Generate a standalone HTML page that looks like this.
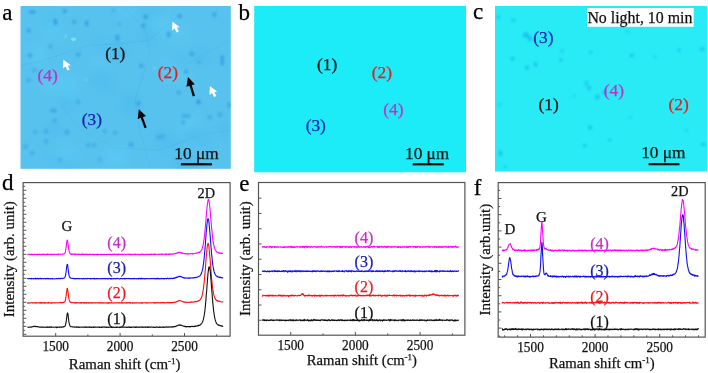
<!DOCTYPE html>
<html><head><meta charset="utf-8"><style>
html,body{margin:0;padding:0;background:#fff;width:708px;height:373px;overflow:hidden}
svg{display:block;font-family:"Liberation Serif", serif;will-change:transform;filter:blur(0.3px)}
</style></head><body>
<svg width="708" height="373" viewBox="0 0 708 373" font-family='"Liberation Serif", serif'>
<rect width="708" height="373" fill="#ffffff"/>
<defs><filter id="bl" x="-50%" y="-50%" width="200%" height="200%"><feGaussianBlur stdDeviation="0.8"/></filter><filter id="bl2" x="-50%" y="-50%" width="200%" height="200%"><feGaussianBlur stdDeviation="4"/></filter><clipPath id="ca"><rect x="20.5" y="6" width="210.3" height="162.8"/></clipPath><clipPath id="cc"><rect x="495" y="6" width="212" height="165.6"/></clipPath></defs><rect x="20.5" y="6" width="210.3" height="162.8" fill="#58c2ee"/><g clip-path="url(#ca)" filter="url(#bl2)"><circle cx="154.4" cy="12.0" r="6.2" fill="#46b8ef" opacity="0.35"/><circle cx="50.9" cy="24.2" r="9.9" fill="#46b8ef" opacity="0.35"/><circle cx="144.2" cy="13.0" r="4.7" fill="#46b8ef" opacity="0.35"/><circle cx="126.6" cy="12.2" r="5.6" fill="#5ad0f7" opacity="0.35"/><circle cx="67.6" cy="101.1" r="10.5" fill="#46b8ef" opacity="0.35"/><circle cx="179.1" cy="33.2" r="7.4" fill="#5ad0f7" opacity="0.35"/><circle cx="54.2" cy="159.2" r="6.7" fill="#46b8ef" opacity="0.35"/><circle cx="100.6" cy="64.7" r="6.8" fill="#5ad0f7" opacity="0.35"/><circle cx="189.1" cy="123.3" r="8.3" fill="#5ad0f7" opacity="0.35"/><circle cx="38.3" cy="54.3" r="9.0" fill="#5ad0f7" opacity="0.35"/><circle cx="141.5" cy="119.3" r="4.4" fill="#46b8ef" opacity="0.35"/><circle cx="182.0" cy="163.7" r="10.8" fill="#46b8ef" opacity="0.35"/><circle cx="100.7" cy="79.6" r="10.7" fill="#46b8ef" opacity="0.35"/><circle cx="98.6" cy="41.1" r="6.1" fill="#46b8ef" opacity="0.35"/><circle cx="148.1" cy="35.0" r="9.8" fill="#46b8ef" opacity="0.35"/><circle cx="117.7" cy="50.7" r="11.4" fill="#46b8ef" opacity="0.35"/><circle cx="163.7" cy="141.2" r="10.2" fill="#46b8ef" opacity="0.35"/><circle cx="192.1" cy="135.2" r="7.2" fill="#46b8ef" opacity="0.35"/><circle cx="65.7" cy="157.0" r="11.0" fill="#5ad0f7" opacity="0.35"/><circle cx="66.0" cy="86.9" r="11.1" fill="#5ad0f7" opacity="0.35"/><circle cx="51.6" cy="30.1" r="10.0" fill="#5ad0f7" opacity="0.35"/><circle cx="176.6" cy="75.7" r="8.7" fill="#5ad0f7" opacity="0.35"/><circle cx="67.4" cy="165.6" r="8.1" fill="#46b8ef" opacity="0.35"/><circle cx="178.4" cy="144.1" r="5.2" fill="#46b8ef" opacity="0.35"/><circle cx="186.0" cy="74.7" r="4.5" fill="#5ad0f7" opacity="0.35"/><circle cx="145.3" cy="82.0" r="6.0" fill="#46b8ef" opacity="0.35"/><circle cx="162.8" cy="26.1" r="11.1" fill="#5ad0f7" opacity="0.35"/><circle cx="181.1" cy="61.7" r="6.3" fill="#46b8ef" opacity="0.35"/><circle cx="115.9" cy="158.7" r="11.0" fill="#5ad0f7" opacity="0.35"/><circle cx="223.2" cy="128.4" r="8.1" fill="#46b8ef" opacity="0.35"/><circle cx="202.2" cy="55.2" r="9.1" fill="#46b8ef" opacity="0.35"/><circle cx="53.6" cy="128.5" r="8.3" fill="#46b8ef" opacity="0.35"/><circle cx="146.0" cy="85.2" r="4.9" fill="#5ad0f7" opacity="0.35"/><circle cx="203.9" cy="139.4" r="6.5" fill="#46b8ef" opacity="0.35"/><circle cx="71.9" cy="97.6" r="4.6" fill="#5ad0f7" opacity="0.35"/><circle cx="190.9" cy="162.5" r="8.3" fill="#46b8ef" opacity="0.35"/><circle cx="48.6" cy="83.1" r="8.4" fill="#5ad0f7" opacity="0.35"/><circle cx="131.2" cy="103.8" r="11.7" fill="#46b8ef" opacity="0.35"/><circle cx="169.6" cy="71.0" r="9.4" fill="#5ad0f7" opacity="0.35"/><circle cx="112.7" cy="89.8" r="5.0" fill="#46b8ef" opacity="0.35"/></g><g filter="url(#bl)"><ellipse cx="32.3" cy="11.8" rx="3.60" ry="1.92" fill="#2e90de" opacity="0.6"/><ellipse cx="64.9" cy="11.1" rx="2.40" ry="2.40" fill="#2e90de" opacity="0.5"/><ellipse cx="55.5" cy="21.9" rx="1.92" ry="3.12" fill="#2e90de" opacity="0.7"/><ellipse cx="74.3" cy="21.9" rx="2.40" ry="2.16" fill="#2e90de" opacity="0.5"/><ellipse cx="86.7" cy="23.4" rx="1.80" ry="3.12" fill="#2e90de" opacity="0.6"/><ellipse cx="28.7" cy="30.6" rx="2.40" ry="2.40" fill="#2e90de" opacity="0.5"/><ellipse cx="50.4" cy="46.6" rx="2.40" ry="2.40" fill="#2e90de" opacity="0.4"/><ellipse cx="30.1" cy="55.3" rx="2.40" ry="2.40" fill="#2e90de" opacity="0.5"/><ellipse cx="78" cy="54.6" rx="2.40" ry="2.40" fill="#2e90de" opacity="0.5"/><ellipse cx="145.6" cy="16.9" rx="2.40" ry="2.40" fill="#2e90de" opacity="0.6"/><ellipse cx="143.4" cy="25.6" rx="1.92" ry="2.64" fill="#2e90de" opacity="0.6"/><ellipse cx="117.4" cy="37.9" rx="1.92" ry="3.36" fill="#2e90de" opacity="0.6"/><ellipse cx="119.5" cy="24.1" rx="1.80" ry="1.80" fill="#2e90de" opacity="0.35"/><ellipse cx="113.7" cy="10.3" rx="1.80" ry="1.80" fill="#2e90de" opacity="0.35"/><ellipse cx="179.6" cy="16.1" rx="2.40" ry="2.40" fill="#2e90de" opacity="0.6"/><ellipse cx="168.7" cy="34.3" rx="1.92" ry="3.12" fill="#2e90de" opacity="0.6"/><ellipse cx="214.3" cy="14.7" rx="2.40" ry="2.40" fill="#2e90de" opacity="0.5"/><ellipse cx="191.9" cy="53.8" rx="2.40" ry="2.40" fill="#2e90de" opacity="0.5"/><ellipse cx="222.3" cy="57.4" rx="2.40" ry="2.40" fill="#2e90de" opacity="0.5"/><ellipse cx="34.5" cy="70.1" rx="2.40" ry="2.40" fill="#2e90de" opacity="0.35"/><ellipse cx="28.7" cy="80.3" rx="2.40" ry="2.40" fill="#2e90de" opacity="0.4"/><ellipse cx="53.3" cy="110.7" rx="3.60" ry="1.92" fill="#2e90de" opacity="0.5"/><ellipse cx="78" cy="102" rx="2.40" ry="2.40" fill="#2e90de" opacity="0.35"/><ellipse cx="141.3" cy="65.8" rx="2.40" ry="2.40" fill="#2e90de" opacity="0.5"/><ellipse cx="138.4" cy="103.5" rx="2.40" ry="2.40" fill="#2e90de" opacity="0.5"/><ellipse cx="186.1" cy="71.6" rx="2.16" ry="2.16" fill="#2e90de" opacity="0.6"/><ellipse cx="222.3" cy="62.2" rx="1.80" ry="3.36" fill="#2e90de" opacity="0.6"/><ellipse cx="178.8" cy="92.6" rx="2.16" ry="2.16" fill="#2e90de" opacity="0.5"/><ellipse cx="198.4" cy="102" rx="2.40" ry="2.40" fill="#2e90de" opacity="0.5"/><ellipse cx="199" cy="62.2" rx="1.80" ry="1.80" fill="#2e90de" opacity="0.4"/><ellipse cx="35.2" cy="132.1" rx="2.40" ry="2.40" fill="#2e90de" opacity="0.35"/><ellipse cx="46.1" cy="131.4" rx="2.40" ry="2.40" fill="#2e90de" opacity="0.4"/><ellipse cx="67.1" cy="132.1" rx="2.64" ry="2.40" fill="#2e90de" opacity="0.45"/><ellipse cx="46.1" cy="141.5" rx="2.40" ry="2.40" fill="#2e90de" opacity="0.4"/><ellipse cx="25.8" cy="146.6" rx="2.64" ry="2.40" fill="#2e90de" opacity="0.35"/><ellipse cx="32.3" cy="153.1" rx="2.64" ry="2.40" fill="#2e90de" opacity="0.35"/><ellipse cx="54.8" cy="120.5" rx="2.40" ry="2.40" fill="#2e90de" opacity="0.35"/><ellipse cx="88.1" cy="145.2" rx="2.40" ry="2.40" fill="#2e90de" opacity="0.35"/><ellipse cx="115.2" cy="132.8" rx="2.40" ry="2.40" fill="#2e90de" opacity="0.35"/><ellipse cx="131.1" cy="144.4" rx="2.64" ry="2.64" fill="#2e90de" opacity="0.45"/><ellipse cx="158.7" cy="137.2" rx="2.40" ry="2.40" fill="#2e90de" opacity="0.4"/><ellipse cx="94.2" cy="145.2" rx="2.40" ry="2.40" fill="#2e90de" opacity="0.35"/><ellipse cx="105" cy="131.4" rx="2.40" ry="2.40" fill="#2e90de" opacity="0.35"/><ellipse cx="183.9" cy="115.9" rx="2.40" ry="2.40" fill="#2e90de" opacity="0.45"/><ellipse cx="188.3" cy="115.9" rx="2.16" ry="2.16" fill="#2e90de" opacity="0.45"/><ellipse cx="183.2" cy="122.5" rx="2.16" ry="2.16" fill="#2e90de" opacity="0.45"/><ellipse cx="210" cy="117.4" rx="2.40" ry="2.40" fill="#2e90de" opacity="0.4"/><ellipse cx="220.1" cy="114.5" rx="2.40" ry="2.40" fill="#2e90de" opacity="0.45"/><ellipse cx="198.4" cy="102.2" rx="2.40" ry="2.40" fill="#2e90de" opacity="0.4"/><ellipse cx="162.9" cy="136.2" rx="2.40" ry="2.40" fill="#2e90de" opacity="0.35"/><ellipse cx="229" cy="105" rx="1.80" ry="3.00" fill="#2e90de" opacity="0.5"/><ellipse cx="100" cy="160" rx="2.40" ry="2.40" fill="#2e90de" opacity="0.3"/><ellipse cx="60" cy="160" rx="2.40" ry="2.40" fill="#2e90de" opacity="0.3"/></g><ellipse cx="73.6" cy="39.3" rx="2.6" ry="1.7" fill="#70eaf0"/><ellipse cx="65.6" cy="36.4" rx="1" ry="1" fill="#8ff2ea" filter="url(#bl)"/><ellipse cx="86" cy="79.6" rx="1.2" ry="1.2" fill="#7fe8ee" filter="url(#bl)" opacity="0.7"/><ellipse cx="154.3" cy="68.7" rx="1.5" ry="1" fill="#7fe8ee" filter="url(#bl)" opacity="0.8"/><path d="M20.5,65.4 L42,61 L57.4,55.5 L75,50 L90,45 L120,44 L150,40 L176,18" stroke="#3a98dc" stroke-width="0.7" fill="none" opacity="0.25" stroke-linejoin="round"/><path d="M125,8 L145,30 L150,50 L145,70 L135,100 L140,130 L150,168" stroke="#3a98dc" stroke-width="0.7" fill="none" opacity="0.22" stroke-linejoin="round"/><path d="M150,70 L180,68 L215,48 L230,40" stroke="#3a98dc" stroke-width="0.7" fill="none" opacity="0.2" stroke-linejoin="round"/><path d="M60,105 L80,130 L115,148 L160,150 L200,135 L230,130" stroke="#3a98dc" stroke-width="0.7" fill="none" opacity="0.2" stroke-linejoin="round"/><rect x="254.2" y="6" width="211.8" height="166.3" fill="#1cecf8"/><rect x="495" y="6" width="212" height="165.6" fill="#28ebf6"/><g filter="url(#bl)" clip-path="url(#cc)"><ellipse cx="498.3" cy="17" rx="1.8" ry="1.8" fill="#1a9ee0" opacity="0.5"/><ellipse cx="513.7" cy="20.3" rx="1.8" ry="1.8" fill="#1a9ee0" opacity="0.5"/><ellipse cx="526" cy="35" rx="3" ry="2.5" fill="#1a9ee0" opacity="0.55"/><ellipse cx="530" cy="38.5" rx="2.5" ry="2.2" fill="#1a9ee0" opacity="0.55"/><ellipse cx="512.6" cy="58.8" rx="2" ry="2" fill="#1a9ee0" opacity="0.5"/><ellipse cx="526.9" cy="67.6" rx="2" ry="2" fill="#1a9ee0" opacity="0.5"/><ellipse cx="535.7" cy="64.3" rx="1.5" ry="2.6" fill="#1a9ee0" opacity="0.55"/><ellipse cx="561" cy="59.9" rx="1.6" ry="1.6" fill="#1a9ee0" opacity="0.5"/><ellipse cx="562" cy="51" rx="1.5" ry="1.5" fill="#1a9ee0" opacity="0.45"/><ellipse cx="590.6" cy="52.2" rx="1.5" ry="1.5" fill="#1a9ee0" opacity="0.45"/><ellipse cx="586.3" cy="83" rx="1.5" ry="2.5" fill="#1a9ee0" opacity="0.5"/><ellipse cx="589" cy="88" rx="2" ry="2" fill="#1a9ee0" opacity="0.55"/><ellipse cx="631.8" cy="55.5" rx="1.8" ry="1.8" fill="#1a9ee0" opacity="0.6"/><ellipse cx="654.9" cy="56.6" rx="1.3" ry="1.3" fill="#1a9ee0" opacity="0.45"/><ellipse cx="679" cy="50" rx="1.6" ry="1.6" fill="#1a9ee0" opacity="0.55"/><ellipse cx="702.2" cy="48.9" rx="2.8" ry="1.5" fill="#1a9ee0" opacity="0.5"/><ellipse cx="627.4" cy="31.3" rx="1.3" ry="1.3" fill="#1a9ee0" opacity="0.35"/><ellipse cx="499.5" cy="104.9" rx="1.3" ry="1.3" fill="#1a9ee0" opacity="0.45"/><ellipse cx="500.6" cy="153.3" rx="1.5" ry="3" fill="#1a9ee0" opacity="0.55"/><ellipse cx="505.1" cy="166.8" rx="1.5" ry="1.5" fill="#1a9ee0" opacity="0.5"/><ellipse cx="590.7" cy="127.4" rx="1.5" ry="1.5" fill="#1a9ee0" opacity="0.5"/><ellipse cx="585" cy="145.4" rx="1.3" ry="1.3" fill="#1a9ee0" opacity="0.45"/><ellipse cx="597.4" cy="97" rx="2.2" ry="2.2" fill="#1a9ee0" opacity="0.55"/><ellipse cx="573.8" cy="95.9" rx="1.3" ry="1.3" fill="#1a9ee0" opacity="0.35"/><ellipse cx="604.4" cy="92.5" rx="2" ry="2" fill="#1a9ee0" opacity="0.5"/><ellipse cx="630.3" cy="117.3" rx="1.3" ry="1.3" fill="#1a9ee0" opacity="0.35"/><ellipse cx="610" cy="139.8" rx="1.3" ry="1.3" fill="#1a9ee0" opacity="0.35"/><ellipse cx="703.4" cy="144.3" rx="2.5" ry="1.5" fill="#1a9ee0" opacity="0.5"/><ellipse cx="686.5" cy="130.8" rx="1.3" ry="1.3" fill="#1a9ee0" opacity="0.35"/><ellipse cx="609.7" cy="140" rx="1.2" ry="1.2" fill="#1a9ee0" opacity="0.4"/><ellipse cx="584.3" cy="145.6" rx="1.2" ry="1.5" fill="#1a9ee0" opacity="0.4"/><ellipse cx="589.4" cy="127.5" rx="1.5" ry="2" fill="#1a9ee0" opacity="0.45"/></g><rect x="587" y="8" width="106.7" height="18.8" fill="#ffffff"/><path d="M188.0,77.1 L186.4,86.8 L194.8,84.2 Z" fill="#080808"/><line x1="189.5" y1="81.9" x2="193.9" y2="96.2" stroke="#080808" stroke-width="2.3"/><path d="M138.8,109.2 L137.7,119.0 L146.0,116.0 Z" fill="#080808"/><line x1="140.5" y1="113.9" x2="145.6" y2="127.8" stroke="#080808" stroke-width="2.3"/><path d="M172.4,21.6 L171.9,30.4 L174.6,28.4 L176.6,32.4 L178.8,31.4 L176.9,27.6 L179.8,27.2 Z" fill="#ffffff"/><path d="M209.9,86.1 L209.4,94.9 L212.1,92.9 L214.1,96.9 L216.3,95.9 L214.4,92.1 L217.3,91.7 Z" fill="#ffffff"/><path d="M63.4,59.7 L62.9,68.5 L65.6,66.5 L67.6,70.5 L69.8,69.5 L67.9,65.7 L70.8,65.3 Z" fill="#ffffff"/>
<text x="105.13" y="59.38" font-size="17.4" fill="#111111" stroke="#111111" stroke-width="0.25">(1)</text><text x="157.83" y="77.58" font-size="17.4" fill="#e81c1c" stroke="#e81c1c" stroke-width="0.25">(2)</text><text x="81.73" y="124.88" font-size="17.4" fill="#1822b0" stroke="#1822b0" stroke-width="0.25">(3)</text><text x="37.43" y="80.88" font-size="17.4" fill="#c82cc8" stroke="#c82cc8" stroke-width="0.25">(4)</text><text x="316.93" y="70.28" font-size="17.4" fill="#111111" stroke="#111111" stroke-width="0.25">(1)</text><text x="371.73" y="77.58" font-size="17.4" fill="#e81c1c" stroke="#e81c1c" stroke-width="0.25">(2)</text><text x="305.63" y="130.58" font-size="17.4" fill="#1822b0" stroke="#1822b0" stroke-width="0.25">(3)</text><text x="383.23" y="115.38" font-size="17.4" fill="#c82cc8" stroke="#c82cc8" stroke-width="0.25">(4)</text><text x="538.43" y="110.48" font-size="17.4" fill="#111111" stroke="#111111" stroke-width="0.25">(1)</text><text x="668.53" y="109.68" font-size="17.4" fill="#e81c1c" stroke="#e81c1c" stroke-width="0.25">(2)</text><text x="533.23" y="42.58" font-size="17.4" fill="#1822b0" stroke="#1822b0" stroke-width="0.25">(3)</text><text x="603.73" y="95.68" font-size="17.4" fill="#c82cc8" stroke="#c82cc8" stroke-width="0.25">(4)</text><text x="174.3" y="158.5" font-size="17.3" fill="#111" stroke="#111" stroke-width="0.25">10 μm</text><rect x="180.9" y="163.1" width="31.1" height="2.3" fill="#111"/><text x="405.0" y="158.5" font-size="17.3" fill="#111" stroke="#111" stroke-width="0.25">10 μm</text><rect x="412.7" y="163.1" width="31.1" height="2.3" fill="#111"/><text x="641.2" y="157.8" font-size="17.3" fill="#111" stroke="#111" stroke-width="0.25">10 μm</text><rect x="648.6" y="163.0" width="30.9" height="2.3" fill="#111"/><text x="587.4" y="23.1" font-size="15.9" fill="#111" stroke="#111" stroke-width="0.25" textLength="105" lengthAdjust="spacingAndGlyphs">No light, 10 min</text><text x="2.2" y="19.6" font-size="23" fill="#000" stroke="#000" stroke-width="0.25">a</text><text x="238.4" y="19.7" font-size="23" fill="#000" stroke="#000" stroke-width="0.25">b</text><text x="472.9" y="18.9" font-size="23" fill="#000" stroke="#000" stroke-width="0.25">c</text><text x="2.1" y="189.6" font-size="23" fill="#000" stroke="#000" stroke-width="0.25">d</text><text x="239.3" y="190.6" font-size="23" fill="#000" stroke="#000" stroke-width="0.25">e</text><text x="473.7" y="194.5" font-size="23" fill="#000" stroke="#000" stroke-width="0.25">f</text>
<rect x="23.1" y="182.6" width="207.0" height="153.6" fill="none" stroke="#555555" stroke-width="1.2"/><line x1="55.70" y1="336.2" x2="55.70" y2="333.0" stroke="#555555" stroke-width="1"/><text x="55.70" y="350.6" font-size="14.2" fill="#111" stroke="#111" stroke-width="0.25" text-anchor="middle" textLength="26.6" lengthAdjust="spacingAndGlyphs">1500</text><line x1="87.90" y1="336.2" x2="87.90" y2="334.4" stroke="#555555" stroke-width="1"/><line x1="120.10" y1="336.2" x2="120.10" y2="333.0" stroke="#555555" stroke-width="1"/><text x="120.10" y="350.6" font-size="14.2" fill="#111" stroke="#111" stroke-width="0.25" text-anchor="middle" textLength="26.6" lengthAdjust="spacingAndGlyphs">2000</text><line x1="152.30" y1="336.2" x2="152.30" y2="334.4" stroke="#555555" stroke-width="1"/><line x1="184.50" y1="336.2" x2="184.50" y2="333.0" stroke="#555555" stroke-width="1"/><text x="184.50" y="350.6" font-size="14.2" fill="#111" stroke="#111" stroke-width="0.25" text-anchor="middle" textLength="26.6" lengthAdjust="spacingAndGlyphs">2500</text><line x1="216.70" y1="336.2" x2="216.70" y2="334.4" stroke="#555555" stroke-width="1"/><line x1="23.1" y1="186.30" x2="25.1" y2="186.30" stroke="#555555" stroke-width="1"/><line x1="23.1" y1="190.30" x2="26.400000000000002" y2="190.30" stroke="#555555" stroke-width="1"/><line x1="23.1" y1="194.30" x2="25.1" y2="194.30" stroke="#555555" stroke-width="1"/><line x1="23.1" y1="198.30" x2="26.400000000000002" y2="198.30" stroke="#555555" stroke-width="1"/><line x1="23.1" y1="202.30" x2="25.1" y2="202.30" stroke="#555555" stroke-width="1"/><line x1="23.1" y1="206.30" x2="26.400000000000002" y2="206.30" stroke="#555555" stroke-width="1"/><line x1="23.1" y1="210.30" x2="25.1" y2="210.30" stroke="#555555" stroke-width="1"/><line x1="23.1" y1="214.30" x2="26.400000000000002" y2="214.30" stroke="#555555" stroke-width="1"/><line x1="23.1" y1="218.30" x2="25.1" y2="218.30" stroke="#555555" stroke-width="1"/><line x1="23.1" y1="222.30" x2="26.400000000000002" y2="222.30" stroke="#555555" stroke-width="1"/><line x1="23.1" y1="226.30" x2="25.1" y2="226.30" stroke="#555555" stroke-width="1"/><line x1="23.1" y1="230.30" x2="26.400000000000002" y2="230.30" stroke="#555555" stroke-width="1"/><line x1="23.1" y1="234.30" x2="25.1" y2="234.30" stroke="#555555" stroke-width="1"/><line x1="23.1" y1="238.30" x2="26.400000000000002" y2="238.30" stroke="#555555" stroke-width="1"/><line x1="23.1" y1="242.30" x2="25.1" y2="242.30" stroke="#555555" stroke-width="1"/><line x1="23.1" y1="246.30" x2="26.400000000000002" y2="246.30" stroke="#555555" stroke-width="1"/><line x1="23.1" y1="250.30" x2="25.1" y2="250.30" stroke="#555555" stroke-width="1"/><line x1="23.1" y1="254.30" x2="26.400000000000002" y2="254.30" stroke="#555555" stroke-width="1"/><line x1="23.1" y1="258.30" x2="25.1" y2="258.30" stroke="#555555" stroke-width="1"/><line x1="23.1" y1="262.30" x2="26.400000000000002" y2="262.30" stroke="#555555" stroke-width="1"/><line x1="23.1" y1="266.30" x2="25.1" y2="266.30" stroke="#555555" stroke-width="1"/><line x1="23.1" y1="270.30" x2="26.400000000000002" y2="270.30" stroke="#555555" stroke-width="1"/><line x1="23.1" y1="274.30" x2="25.1" y2="274.30" stroke="#555555" stroke-width="1"/><line x1="23.1" y1="278.30" x2="26.400000000000002" y2="278.30" stroke="#555555" stroke-width="1"/><line x1="23.1" y1="282.30" x2="25.1" y2="282.30" stroke="#555555" stroke-width="1"/><line x1="23.1" y1="286.30" x2="26.400000000000002" y2="286.30" stroke="#555555" stroke-width="1"/><line x1="23.1" y1="290.30" x2="25.1" y2="290.30" stroke="#555555" stroke-width="1"/><line x1="23.1" y1="294.30" x2="26.400000000000002" y2="294.30" stroke="#555555" stroke-width="1"/><line x1="23.1" y1="298.30" x2="25.1" y2="298.30" stroke="#555555" stroke-width="1"/><line x1="23.1" y1="302.30" x2="26.400000000000002" y2="302.30" stroke="#555555" stroke-width="1"/><line x1="23.1" y1="306.30" x2="25.1" y2="306.30" stroke="#555555" stroke-width="1"/><line x1="23.1" y1="310.30" x2="26.400000000000002" y2="310.30" stroke="#555555" stroke-width="1"/><line x1="23.1" y1="314.30" x2="25.1" y2="314.30" stroke="#555555" stroke-width="1"/><line x1="23.1" y1="318.30" x2="26.400000000000002" y2="318.30" stroke="#555555" stroke-width="1"/><line x1="23.1" y1="322.30" x2="25.1" y2="322.30" stroke="#555555" stroke-width="1"/><line x1="23.1" y1="326.30" x2="26.400000000000002" y2="326.30" stroke="#555555" stroke-width="1"/><line x1="23.1" y1="330.30" x2="25.1" y2="330.30" stroke="#555555" stroke-width="1"/><line x1="23.1" y1="334.30" x2="26.400000000000002" y2="334.30" stroke="#555555" stroke-width="1"/><text transform="translate(14.0,317.2) rotate(-90)" x="0" y="0" font-size="15" fill="#111" stroke="#111" stroke-width="0.25" textLength="116" lengthAdjust="spacingAndGlyphs">Intensity (arb. unit)</text><text x="68.8" y="368.6" font-size="14.6" fill="#111" stroke="#111" stroke-width="0.25" textLength="111.8" lengthAdjust="spacingAndGlyphs">Raman shift (cm<tspan dy="-5" font-size="9">-1</tspan><tspan dy="5">)</tspan></text><text x="61.4" y="230.5" font-size="15" fill="#111" stroke="#111" stroke-width="0.25" text-anchor="start" >G</text><text x="197.6" y="197.7" font-size="14.3" fill="#111" stroke="#111" stroke-width="0.25" text-anchor="start" >2D</text><path d="M27.4,254.6L27.6,254.6L27.9,254.4L28.1,254.3L28.4,254.2L28.7,254.4L28.9,254.2L29.2,254.2L29.4,254.4L29.7,254.4L29.9,254.5L30.2,254.3L30.5,254.4L30.7,254.4L31.0,254.2L31.2,254.5L31.5,254.4L31.7,254.7L32.0,254.4L32.3,254.4L32.5,254.6L32.8,254.4L33.0,254.5L33.3,254.3L33.5,254.4L33.8,254.5L34.1,254.5L34.3,254.4L34.6,254.2L34.8,254.5L35.1,254.4L35.3,254.5L35.6,254.4L35.9,254.5L36.1,254.4L36.4,254.4L36.6,254.5L36.9,254.2L37.2,254.3L37.4,254.3L37.7,254.7L37.9,254.4L38.2,254.5L38.4,254.5L38.7,254.3L39.0,254.2L39.2,254.5L39.5,254.3L39.7,254.5L40.0,254.2L40.2,254.3L40.5,254.6L40.8,254.6L41.0,254.2L41.3,254.2L41.5,254.4L41.8,254.5L42.0,254.4L42.3,254.4L42.6,254.2L42.8,254.5L43.1,254.5L43.3,254.3L43.6,254.2L43.9,254.3L44.1,254.5L44.4,254.1L44.6,254.4L44.9,254.2L45.1,254.4L45.4,254.3L45.7,254.4L45.9,254.6L46.2,254.4L46.4,254.6L46.7,254.4L46.9,254.3L47.2,254.4L47.5,253.9L47.7,254.4L48.0,254.4L48.2,254.2L48.5,254.4L48.7,254.3L49.0,254.0L49.3,254.3L49.5,254.2L49.8,254.3L50.0,254.3L50.3,254.6L50.5,254.4L50.8,254.4L51.1,254.4L51.3,254.1L51.6,254.6L51.8,254.2L52.1,254.4L52.4,254.2L52.6,254.2L52.9,254.3L53.1,254.6L53.4,254.5L53.6,254.3L53.9,254.3L54.2,254.2L54.4,254.3L54.7,254.3L54.9,254.5L55.2,254.1L55.4,254.3L55.7,254.2L56.0,254.2L56.2,254.4L56.5,254.4L56.7,254.4L57.0,254.5L57.2,254.5L57.5,254.1L57.8,254.4L58.0,254.0L58.3,254.3L58.5,254.6L58.8,254.3L59.0,254.2L59.3,254.3L59.6,254.3L59.8,254.3L60.1,254.1L60.3,254.4L60.6,254.4L60.9,254.2L61.1,254.3L61.4,254.3L61.6,254.3L61.9,254.2L62.1,254.3L62.4,254.1L62.7,253.9L62.9,254.0L63.2,254.2L63.4,254.1L63.7,253.9L63.9,253.7L64.2,253.7L64.5,253.8L64.7,253.4L65.0,252.7L65.2,252.1L65.5,250.9L65.7,249.6L66.0,248.1L66.3,246.1L66.5,244.1L66.8,242.1L67.0,240.6L67.3,240.1L67.5,240.4L67.8,241.8L68.1,244.0L68.3,246.5L68.6,248.2L68.8,249.6L69.1,251.2L69.4,252.3L69.6,252.6L69.9,253.3L70.1,253.4L70.4,253.9L70.6,253.9L70.9,253.9L71.2,254.3L71.4,254.0L71.7,254.0L71.9,254.4L72.2,254.0L72.4,254.5L72.7,254.2L73.0,254.0L73.2,254.2L73.5,254.2L73.7,254.3L74.0,254.2L74.2,254.4L74.5,253.9L74.8,254.2L75.0,254.2L75.3,254.6L75.5,254.0L75.8,254.2L76.1,254.1L76.3,254.2L76.6,254.4L76.8,254.4L77.1,254.5L77.3,254.2L77.6,254.4L77.9,254.5L78.1,254.5L78.4,254.3L78.6,254.5L78.9,254.2L79.1,254.6L79.4,254.4L79.7,254.3L79.9,254.4L80.2,254.5L80.4,254.6L80.7,254.3L80.9,254.3L81.2,254.4L81.5,254.2L81.7,254.1L82.0,254.5L82.2,254.3L82.5,254.5L82.7,254.2L83.0,253.9L83.3,254.4L83.5,254.4L83.8,254.6L84.0,254.4L84.3,254.4L84.6,254.5L84.8,254.3L85.1,254.4L85.3,254.2L85.6,254.4L85.8,254.2L86.1,254.3L86.4,254.5L86.6,254.5L86.9,254.2L87.1,254.7L87.4,254.3L87.6,254.5L87.9,254.5L88.2,254.4L88.4,254.4L88.7,254.6L88.9,254.5L89.2,254.4L89.4,254.1L89.7,254.3L90.0,254.5L90.2,254.4L90.5,254.2L90.7,254.3L91.0,254.3L91.2,254.5L91.5,254.4L91.8,254.5L92.0,254.3L92.3,254.5L92.5,254.3L92.8,254.3L93.1,254.6L93.3,254.4L93.6,254.4L93.8,254.3L94.1,254.3L94.3,254.6L94.6,254.6L94.9,254.5L95.1,254.4L95.4,254.5L95.6,254.4L95.9,254.4L96.1,254.4L96.4,254.4L96.7,254.6L96.9,254.6L97.2,254.6L97.4,254.1L97.7,254.7L97.9,254.5L98.2,254.3L98.5,254.4L98.7,254.5L99.0,254.6L99.2,254.5L99.5,254.4L99.7,254.4L100.0,254.5L100.3,254.4L100.5,254.2L100.8,254.3L101.0,254.4L101.3,254.4L101.6,254.7L101.8,254.2L102.1,254.4L102.3,254.4L102.6,254.4L102.8,254.6L103.1,254.6L103.4,254.4L103.6,254.3L103.9,254.2L104.1,254.4L104.4,254.6L104.6,254.3L104.9,254.5L105.2,254.5L105.4,254.4L105.7,254.5L105.9,254.4L106.2,254.3L106.4,254.2L106.7,254.5L107.0,254.3L107.2,254.3L107.5,254.5L107.7,254.3L108.0,254.6L108.3,254.5L108.5,254.3L108.8,254.3L109.0,254.5L109.3,254.2L109.5,254.3L109.8,254.4L110.1,254.4L110.3,254.4L110.6,254.4L110.8,254.3L111.1,254.4L111.3,254.6L111.6,254.5L111.9,254.3L112.1,254.6L112.4,254.1L112.6,254.4L112.9,254.5L113.1,254.5L113.4,254.4L113.7,254.3L113.9,254.5L114.2,254.3L114.4,254.4L114.7,253.9L114.9,254.4L115.2,254.3L115.5,254.5L115.7,254.5L116.0,254.5L116.2,254.3L116.5,254.4L116.8,254.3L117.0,254.4L117.3,254.4L117.5,254.2L117.8,254.7L118.0,254.5L118.3,254.1L118.6,254.5L118.8,254.2L119.1,254.3L119.3,254.3L119.6,254.3L119.8,254.4L120.1,254.3L120.4,254.2L120.6,254.4L120.9,254.4L121.1,254.6L121.4,254.3L121.6,254.2L121.9,254.3L122.2,254.5L122.4,254.2L122.7,254.3L122.9,254.5L123.2,254.4L123.4,254.4L123.7,254.3L124.0,254.2L124.2,254.3L124.5,254.3L124.7,254.3L125.0,254.4L125.3,254.5L125.5,254.5L125.8,254.4L126.0,254.2L126.3,254.2L126.5,254.5L126.8,254.4L127.1,254.4L127.3,254.2L127.6,254.3L127.8,254.3L128.1,254.2L128.3,254.3L128.6,254.1L128.9,254.4L129.1,254.5L129.4,254.3L129.6,254.4L129.9,254.2L130.1,254.5L130.4,254.6L130.7,254.2L130.9,254.3L131.2,254.6L131.4,254.4L131.7,254.4L131.9,254.1L132.2,254.3L132.5,254.5L132.7,254.6L133.0,254.5L133.2,254.3L133.5,254.3L133.8,254.1L134.0,254.2L134.3,254.5L134.5,254.3L134.8,254.2L135.0,254.6L135.3,254.1L135.6,254.5L135.8,254.3L136.1,254.4L136.3,254.5L136.6,254.4L136.8,254.5L137.1,254.4L137.4,254.3L137.6,254.3L137.9,254.1L138.1,254.3L138.4,254.5L138.6,254.5L138.9,254.6L139.2,254.8L139.4,254.5L139.7,254.4L139.9,254.2L140.2,254.3L140.5,254.7L140.7,254.4L141.0,254.3L141.2,254.4L141.5,254.1L141.7,254.2L142.0,254.2L142.3,254.0L142.5,254.5L142.8,254.5L143.0,254.3L143.3,254.4L143.5,254.2L143.8,254.4L144.1,254.5L144.3,254.6L144.6,254.6L144.8,254.4L145.1,254.3L145.3,254.2L145.6,254.3L145.9,254.4L146.1,254.4L146.4,254.3L146.6,254.6L146.9,254.4L147.1,254.3L147.4,254.3L147.7,254.4L147.9,254.2L148.2,254.2L148.4,254.4L148.7,254.3L149.0,254.3L149.2,254.5L149.5,254.3L149.7,254.5L150.0,254.3L150.2,254.6L150.5,254.4L150.8,254.1L151.0,254.5L151.3,254.3L151.5,254.0L151.8,254.4L152.0,254.4L152.3,254.1L152.6,254.2L152.8,254.4L153.1,254.5L153.3,254.5L153.6,254.5L153.8,254.5L154.1,254.0L154.4,254.2L154.6,254.4L154.9,253.9L155.1,254.4L155.4,254.5L155.6,254.2L155.9,254.3L156.2,254.2L156.4,254.3L156.7,254.3L156.9,254.3L157.2,254.2L157.5,254.4L157.7,254.3L158.0,254.5L158.2,254.4L158.5,254.1L158.7,254.1L159.0,254.3L159.3,254.2L159.5,254.4L159.8,254.4L160.0,254.3L160.3,254.1L160.5,254.1L160.8,254.4L161.1,254.1L161.3,254.5L161.6,254.3L161.8,254.4L162.1,254.2L162.3,254.3L162.6,253.8L162.9,254.3L163.1,254.4L163.4,254.2L163.6,254.2L163.9,254.3L164.1,254.3L164.4,254.2L164.7,254.4L164.9,254.0L165.2,254.4L165.4,254.1L165.7,254.1L166.0,254.5L166.2,254.1L166.5,254.0L166.7,254.3L167.0,254.1L167.2,254.1L167.5,254.1L167.8,254.1L168.0,254.1L168.3,254.1L168.5,254.5L168.8,254.1L169.0,254.4L169.3,254.0L169.6,254.3L169.8,254.0L170.1,254.1L170.3,254.3L170.6,254.1L170.8,253.9L171.1,254.1L171.4,254.1L171.6,254.2L171.9,254.0L172.1,254.1L172.4,254.1L172.7,253.9L172.9,254.1L173.2,253.9L173.4,254.1L173.7,254.0L173.9,253.9L174.2,253.6L174.5,253.8L174.7,253.8L175.0,253.6L175.2,253.6L175.5,253.4L175.7,253.6L176.0,253.6L176.3,253.5L176.5,253.2L176.8,253.4L177.0,253.2L177.3,252.8L177.5,252.9L177.8,252.5L178.1,252.7L178.3,252.7L178.6,252.7L178.8,252.4L179.1,252.2L179.3,252.4L179.6,252.6L179.9,252.4L180.1,252.6L180.4,252.6L180.6,252.7L180.9,252.7L181.2,252.5L181.4,252.8L181.7,253.2L181.9,252.8L182.2,252.7L182.4,253.4L182.7,253.2L183.0,253.2L183.2,253.3L183.5,253.2L183.7,253.6L184.0,253.6L184.2,253.5L184.5,253.6L184.8,253.6L185.0,253.9L185.3,253.7L185.5,254.0L185.8,253.7L186.0,253.7L186.3,253.8L186.6,253.8L186.8,253.9L187.1,254.0L187.3,254.1L187.6,253.7L187.8,254.1L188.1,253.9L188.4,254.1L188.6,253.8L188.9,253.7L189.1,254.0L189.4,253.9L189.7,253.8L189.9,253.8L190.2,253.8L190.4,253.8L190.7,253.5L190.9,253.6L191.2,253.8L191.5,253.8L191.7,253.6L192.0,253.4L192.2,253.9L192.5,253.6L192.7,253.5L193.0,253.9L193.3,253.8L193.5,253.7L193.8,253.7L194.0,253.6L194.3,253.3L194.5,253.5L194.8,253.5L195.1,253.5L195.3,253.4L195.6,253.2L195.8,253.2L196.1,253.2L196.3,253.2L196.6,253.0L196.9,252.8L197.1,252.9L197.4,253.0L197.6,252.9L197.9,252.9L198.2,252.5L198.4,252.6L198.7,252.7L198.9,252.2L199.2,252.2L199.4,252.0L199.7,252.3L200.0,252.0L200.2,251.7L200.5,251.5L200.7,251.2L201.0,251.1L201.2,250.8L201.5,250.3L201.8,249.7L202.0,249.1L202.3,248.4L202.5,247.6L202.8,246.2L203.0,245.4L203.3,244.1L203.6,242.6L203.8,240.9L204.1,239.1L204.3,237.1L204.6,234.8L204.9,232.3L205.1,229.5L205.4,226.7L205.6,223.8L205.9,220.7L206.1,217.8L206.4,214.7L206.7,211.5L206.9,208.6L207.2,206.2L207.4,203.9L207.7,202.4L207.9,200.7L208.2,199.6L208.5,199.3L208.7,199.5L209.0,200.5L209.2,202.0L209.5,204.0L209.7,206.2L210.0,209.1L210.3,211.9L210.5,215.1L210.8,217.7L211.0,221.0L211.3,223.9L211.5,226.7L211.8,229.6L212.1,232.1L212.3,234.8L212.6,237.4L212.8,239.3L213.1,241.2L213.4,242.8L213.6,243.9L213.9,245.4L214.1,246.5L214.4,247.5L214.6,248.2L214.9,248.7L215.2,249.9L215.4,250.3L215.7,250.6L215.9,250.9L216.2,251.3L216.4,251.4L216.7,251.9L217.0,252.0L217.2,252.1L217.5,252.2L217.7,252.4L218.0,252.5L218.2,252.6L218.5,252.9L218.8,252.8L219.0,252.9L219.3,252.8L219.5,253.2L219.8,253.3L220.0,253.2L220.3,252.9L220.6,253.2L220.8,253.4L221.1,253.3L221.3,253.5L221.6,253.3L221.9,253.5L222.1,253.5L222.4,253.1L222.6,253.5L222.9,253.5L223.1,253.5" stroke="#ff00ff" stroke-width="1.1" fill="none" stroke-linejoin="round"/><path d="M27.4,279.0L27.6,278.6L27.9,278.7L28.1,278.7L28.4,278.8L28.7,278.5L28.9,278.6L29.2,278.6L29.4,278.5L29.7,278.6L29.9,278.6L30.2,278.6L30.5,278.6L30.7,278.8L31.0,278.6L31.2,278.2L31.5,278.9L31.7,278.6L32.0,278.6L32.3,278.7L32.5,278.7L32.8,278.7L33.0,278.6L33.3,278.7L33.5,278.5L33.8,278.9L34.1,278.5L34.3,278.7L34.6,278.7L34.8,278.7L35.1,278.6L35.3,278.8L35.6,278.1L35.9,278.7L36.1,278.6L36.4,278.6L36.6,278.9L36.9,278.5L37.2,278.7L37.4,278.4L37.7,278.7L37.9,278.4L38.2,278.4L38.4,279.0L38.7,278.8L39.0,278.7L39.2,278.7L39.5,278.4L39.7,278.5L40.0,278.7L40.2,278.3L40.5,278.7L40.8,278.4L41.0,278.7L41.3,278.5L41.5,278.9L41.8,278.8L42.0,278.6L42.3,278.4L42.6,278.5L42.8,278.7L43.1,278.5L43.3,278.7L43.6,278.8L43.9,278.7L44.1,278.6L44.4,278.8L44.6,278.6L44.9,278.8L45.1,278.6L45.4,278.9L45.7,278.6L45.9,278.5L46.2,278.7L46.4,278.6L46.7,278.5L46.9,278.6L47.2,278.8L47.5,278.3L47.7,278.6L48.0,278.6L48.2,278.6L48.5,278.8L48.7,278.5L49.0,278.8L49.3,278.6L49.5,278.7L49.8,278.6L50.0,278.6L50.3,278.6L50.5,278.7L50.8,279.0L51.1,278.8L51.3,278.8L51.6,278.7L51.8,278.6L52.1,278.7L52.4,279.0L52.6,278.4L52.9,278.8L53.1,278.8L53.4,278.7L53.6,278.8L53.9,278.9L54.2,279.0L54.4,278.8L54.7,278.9L54.9,278.7L55.2,278.8L55.4,278.7L55.7,278.7L56.0,278.6L56.2,278.7L56.5,278.8L56.7,278.6L57.0,278.7L57.2,278.7L57.5,278.6L57.8,278.8L58.0,278.6L58.3,278.4L58.5,278.4L58.8,278.7L59.0,278.7L59.3,278.7L59.6,278.6L59.8,278.6L60.1,278.3L60.3,278.8L60.6,278.4L60.9,278.7L61.1,278.3L61.4,278.4L61.6,278.5L61.9,278.4L62.1,278.3L62.4,278.6L62.7,278.5L62.9,278.4L63.2,278.3L63.4,278.1L63.7,278.1L63.9,278.0L64.2,278.0L64.5,277.9L64.7,277.5L65.0,277.0L65.2,276.3L65.5,275.6L65.7,274.1L66.0,272.4L66.3,270.4L66.5,268.3L66.8,266.3L67.0,264.9L67.3,264.3L67.5,264.3L67.8,266.2L68.1,268.7L68.3,270.2L68.6,272.4L68.8,274.3L69.1,275.4L69.4,276.6L69.6,276.9L69.9,277.3L70.1,277.8L70.4,277.9L70.6,278.0L70.9,278.3L71.2,278.3L71.4,278.3L71.7,278.3L71.9,278.4L72.2,278.4L72.4,278.3L72.7,278.5L73.0,278.5L73.2,278.5L73.5,278.6L73.7,278.4L74.0,278.5L74.2,278.5L74.5,278.8L74.8,278.6L75.0,278.9L75.3,278.8L75.5,278.5L75.8,278.4L76.1,278.7L76.3,278.6L76.6,278.6L76.8,278.5L77.1,278.7L77.3,278.6L77.6,278.7L77.9,278.7L78.1,278.5L78.4,278.3L78.6,278.6L78.9,278.5L79.1,278.6L79.4,278.8L79.7,278.6L79.9,278.9L80.2,278.7L80.4,278.8L80.7,278.7L80.9,278.8L81.2,278.5L81.5,278.8L81.7,278.7L82.0,278.5L82.2,278.7L82.5,278.7L82.7,278.9L83.0,278.8L83.3,278.7L83.5,278.4L83.8,278.9L84.0,278.9L84.3,278.8L84.6,278.7L84.8,278.8L85.1,278.5L85.3,278.8L85.6,278.7L85.8,278.5L86.1,278.7L86.4,278.7L86.6,278.9L86.9,278.8L87.1,278.4L87.4,278.4L87.6,278.7L87.9,278.6L88.2,278.5L88.4,278.5L88.7,278.6L88.9,278.5L89.2,278.6L89.4,278.8L89.7,278.7L90.0,278.6L90.2,278.5L90.5,278.6L90.7,278.9L91.0,278.6L91.2,278.9L91.5,278.6L91.8,278.6L92.0,278.8L92.3,278.6L92.5,278.7L92.8,278.5L93.1,278.8L93.3,278.8L93.6,278.6L93.8,278.7L94.1,278.6L94.3,278.4L94.6,279.1L94.9,278.8L95.1,278.8L95.4,278.7L95.6,278.7L95.9,279.0L96.1,278.4L96.4,278.6L96.7,278.6L96.9,278.6L97.2,278.8L97.4,278.6L97.7,278.5L97.9,278.5L98.2,278.7L98.5,278.8L98.7,278.8L99.0,278.9L99.2,278.6L99.5,278.8L99.7,278.8L100.0,278.7L100.3,278.6L100.5,278.8L100.8,278.6L101.0,278.6L101.3,278.5L101.6,278.9L101.8,278.7L102.1,278.6L102.3,278.6L102.6,278.6L102.8,278.7L103.1,278.4L103.4,278.5L103.6,278.8L103.9,278.8L104.1,278.5L104.4,278.7L104.6,278.6L104.9,278.3L105.2,278.6L105.4,278.5L105.7,278.8L105.9,278.6L106.2,278.7L106.4,278.5L106.7,278.7L107.0,278.4L107.2,278.7L107.5,278.9L107.7,278.5L108.0,278.8L108.3,278.9L108.5,278.6L108.8,278.8L109.0,278.7L109.3,278.6L109.5,278.4L109.8,278.5L110.1,278.5L110.3,279.0L110.6,278.7L110.8,278.6L111.1,278.5L111.3,278.9L111.6,278.5L111.9,278.9L112.1,278.8L112.4,278.7L112.6,278.6L112.9,278.7L113.1,278.5L113.4,278.8L113.7,278.9L113.9,278.8L114.2,278.8L114.4,278.6L114.7,278.7L114.9,278.5L115.2,278.6L115.5,278.8L115.7,279.0L116.0,278.7L116.2,278.7L116.5,278.4L116.8,278.7L117.0,278.5L117.3,278.5L117.5,278.4L117.8,278.7L118.0,278.6L118.3,278.8L118.6,278.6L118.8,278.7L119.1,278.9L119.3,278.8L119.6,278.8L119.8,278.9L120.1,278.7L120.4,278.5L120.6,278.5L120.9,278.4L121.1,278.7L121.4,278.6L121.6,278.7L121.9,278.8L122.2,278.5L122.4,278.7L122.7,278.9L122.9,278.7L123.2,278.8L123.4,278.6L123.7,278.5L124.0,278.6L124.2,278.4L124.5,278.8L124.7,278.6L125.0,278.9L125.3,278.5L125.5,278.7L125.8,278.7L126.0,278.6L126.3,278.7L126.5,278.6L126.8,278.5L127.1,278.5L127.3,278.6L127.6,278.5L127.8,278.7L128.1,278.6L128.3,278.6L128.6,278.6L128.9,278.4L129.1,278.6L129.4,278.7L129.6,278.5L129.9,278.6L130.1,278.8L130.4,278.6L130.7,278.7L130.9,278.6L131.2,279.0L131.4,278.9L131.7,278.8L131.9,278.6L132.2,278.8L132.5,278.6L132.7,278.7L133.0,278.6L133.2,278.7L133.5,278.5L133.8,278.7L134.0,278.9L134.3,278.4L134.5,278.5L134.8,278.7L135.0,278.8L135.3,278.6L135.6,278.7L135.8,278.7L136.1,278.7L136.3,278.9L136.6,278.6L136.8,278.8L137.1,278.7L137.4,278.5L137.6,278.7L137.9,278.5L138.1,278.4L138.4,278.8L138.6,278.5L138.9,278.9L139.2,278.8L139.4,278.6L139.7,278.5L139.9,278.3L140.2,278.6L140.5,278.4L140.7,278.9L141.0,278.4L141.2,278.7L141.5,278.2L141.7,278.6L142.0,278.9L142.3,278.6L142.5,278.5L142.8,278.6L143.0,278.7L143.3,278.8L143.5,278.6L143.8,278.3L144.1,278.7L144.3,278.8L144.6,279.0L144.8,278.7L145.1,278.7L145.3,278.6L145.6,278.8L145.9,278.9L146.1,278.5L146.4,278.7L146.6,278.5L146.9,278.5L147.1,278.6L147.4,278.7L147.7,278.5L147.9,278.6L148.2,278.8L148.4,278.7L148.7,278.7L149.0,278.7L149.2,278.6L149.5,278.7L149.7,278.7L150.0,278.6L150.2,278.8L150.5,278.6L150.8,278.8L151.0,278.6L151.3,278.7L151.5,278.5L151.8,278.5L152.0,278.4L152.3,278.8L152.6,278.7L152.8,278.7L153.1,278.7L153.3,278.5L153.6,278.6L153.8,278.5L154.1,278.3L154.4,278.6L154.6,278.5L154.9,278.8L155.1,278.5L155.4,278.5L155.6,278.8L155.9,278.6L156.2,278.4L156.4,278.6L156.7,278.5L156.9,278.9L157.2,278.4L157.5,278.5L157.7,278.2L158.0,278.5L158.2,278.9L158.5,278.6L158.7,278.5L159.0,278.6L159.3,278.6L159.5,278.6L159.8,279.0L160.0,278.9L160.3,278.8L160.5,278.8L160.8,278.4L161.1,278.3L161.3,278.7L161.6,278.6L161.8,278.6L162.1,278.6L162.3,278.7L162.6,278.7L162.9,278.6L163.1,278.6L163.4,278.5L163.6,278.5L163.9,278.8L164.1,278.5L164.4,278.9L164.7,278.7L164.9,278.6L165.2,278.7L165.4,278.5L165.7,278.5L166.0,278.5L166.2,278.5L166.5,278.6L166.7,278.9L167.0,278.6L167.2,278.4L167.5,278.4L167.8,278.2L168.0,278.6L168.3,278.7L168.5,278.6L168.8,278.6L169.0,278.6L169.3,278.6L169.6,278.6L169.8,278.5L170.1,278.3L170.3,278.6L170.6,278.7L170.8,278.2L171.1,278.4L171.4,278.3L171.6,278.5L171.9,278.4L172.1,278.6L172.4,278.6L172.7,278.3L172.9,278.3L173.2,278.2L173.4,278.4L173.7,278.1L173.9,278.3L174.2,277.9L174.5,278.3L174.7,278.1L175.0,277.8L175.2,277.8L175.5,277.9L175.7,277.8L176.0,277.2L176.3,277.6L176.5,277.7L176.8,277.3L177.0,277.0L177.3,277.3L177.5,277.0L177.8,276.9L178.1,276.9L178.3,276.5L178.6,276.5L178.8,276.4L179.1,276.3L179.3,276.4L179.6,276.3L179.9,276.7L180.1,276.6L180.4,276.7L180.6,276.3L180.9,276.6L181.2,276.7L181.4,276.9L181.7,277.0L181.9,276.9L182.2,277.0L182.4,277.4L182.7,277.7L183.0,277.8L183.2,277.5L183.5,277.5L183.7,277.7L184.0,277.8L184.2,278.1L184.5,277.8L184.8,277.8L185.0,278.1L185.3,277.9L185.5,277.9L185.8,278.1L186.0,278.0L186.3,277.9L186.6,278.1L186.8,278.0L187.1,278.1L187.3,278.0L187.6,278.2L187.8,278.1L188.1,278.0L188.4,278.3L188.6,278.0L188.9,278.2L189.1,278.2L189.4,278.0L189.7,278.1L189.9,277.8L190.2,278.1L190.4,277.9L190.7,277.9L190.9,278.0L191.2,277.9L191.5,278.0L191.7,278.0L192.0,278.1L192.2,277.9L192.5,278.0L192.7,277.7L193.0,277.8L193.3,277.9L193.5,277.9L193.8,277.8L194.0,277.6L194.3,277.5L194.5,277.5L194.8,277.8L195.1,277.4L195.3,277.5L195.6,277.6L195.8,277.5L196.1,277.3L196.3,277.6L196.6,277.3L196.9,277.2L197.1,277.2L197.4,277.0L197.6,277.1L197.9,276.9L198.2,276.7L198.4,276.5L198.7,276.6L198.9,276.5L199.2,276.3L199.4,276.0L199.7,275.9L200.0,275.8L200.2,275.6L200.5,275.1L200.7,274.8L201.0,274.0L201.2,273.6L201.5,273.1L201.8,272.3L202.0,271.7L202.3,270.3L202.5,269.6L202.8,268.3L203.0,267.0L203.3,264.9L203.6,263.1L203.8,261.1L204.1,258.7L204.3,255.8L204.6,253.1L204.9,250.1L205.1,247.1L205.4,244.0L205.6,240.7L205.9,237.2L206.1,234.0L206.4,230.8L206.7,227.5L206.9,225.0L207.2,222.7L207.4,220.7L207.7,219.3L207.9,218.8L208.2,218.8L208.5,219.5L208.7,220.4L209.0,222.5L209.2,225.2L209.5,227.8L209.7,230.6L210.0,233.8L210.3,237.1L210.5,240.4L210.8,243.8L211.0,247.1L211.3,250.1L211.5,253.2L211.8,256.0L212.1,258.4L212.3,260.8L212.6,262.8L212.8,265.0L213.1,266.7L213.4,268.1L213.6,269.5L213.9,270.7L214.1,271.7L214.4,272.3L214.6,273.1L214.9,273.6L215.2,274.0L215.4,274.9L215.7,275.2L215.9,275.6L216.2,275.8L216.4,275.9L216.7,276.2L217.0,276.2L217.2,276.7L217.5,276.2L217.7,276.8L218.0,276.7L218.2,277.0L218.5,277.2L218.8,277.0L219.0,277.3L219.3,277.4L219.5,277.0L219.8,277.6L220.0,277.2L220.3,277.2L220.6,277.6L220.8,277.4L221.1,277.6L221.3,277.6L221.6,277.5L221.9,277.9L222.1,277.9L222.4,277.8L222.6,278.0L222.9,277.8L223.1,277.9" stroke="#1010f0" stroke-width="1.1" fill="none" stroke-linejoin="round"/><path d="M27.4,302.9L27.6,303.1L27.9,302.7L28.1,303.0L28.4,302.9L28.7,302.8L28.9,303.2L29.2,302.9L29.4,302.9L29.7,303.0L29.9,303.1L30.2,302.9L30.5,303.0L30.7,302.7L31.0,302.8L31.2,302.8L31.5,302.7L31.7,302.7L32.0,302.6L32.3,302.9L32.5,302.9L32.8,302.8L33.0,302.9L33.3,302.7L33.5,302.9L33.8,302.9L34.1,303.0L34.3,302.8L34.6,302.8L34.8,302.6L35.1,302.8L35.3,302.6L35.6,302.7L35.9,303.1L36.1,302.6L36.4,303.0L36.6,302.9L36.9,302.8L37.2,303.0L37.4,303.0L37.7,303.0L37.9,302.9L38.2,302.8L38.4,302.8L38.7,302.7L39.0,302.9L39.2,302.8L39.5,303.0L39.7,302.6L40.0,302.7L40.2,302.7L40.5,302.6L40.8,303.2L41.0,302.5L41.3,302.8L41.5,302.8L41.8,303.1L42.0,302.6L42.3,303.0L42.6,302.8L42.8,302.9L43.1,302.8L43.3,303.0L43.6,302.7L43.9,302.9L44.1,302.9L44.4,303.2L44.6,302.5L44.9,303.1L45.1,303.0L45.4,302.8L45.7,302.9L45.9,302.8L46.2,303.1L46.4,302.9L46.7,302.8L46.9,302.8L47.2,302.8L47.5,302.8L47.7,302.7L48.0,303.2L48.2,302.6L48.5,302.3L48.7,302.9L49.0,302.8L49.3,302.9L49.5,302.8L49.8,302.8L50.0,302.9L50.3,303.0L50.5,302.8L50.8,302.8L51.1,303.2L51.3,302.9L51.6,302.7L51.8,303.2L52.1,303.0L52.4,302.8L52.6,302.7L52.9,302.9L53.1,302.7L53.4,302.7L53.6,302.7L53.9,302.8L54.2,303.0L54.4,302.8L54.7,302.6L54.9,302.9L55.2,302.9L55.4,303.0L55.7,303.0L56.0,302.8L56.2,302.8L56.5,302.8L56.7,302.7L57.0,302.9L57.2,303.0L57.5,302.8L57.8,302.8L58.0,302.8L58.3,302.7L58.5,302.7L58.8,302.7L59.0,302.7L59.3,302.7L59.6,302.5L59.8,302.8L60.1,302.8L60.3,302.6L60.6,302.4L60.9,302.7L61.1,302.9L61.4,302.6L61.6,302.6L61.9,302.6L62.1,302.7L62.4,302.5L62.7,302.7L62.9,302.5L63.2,302.7L63.4,302.5L63.7,302.4L63.9,302.1L64.2,302.1L64.5,302.0L64.7,301.8L65.0,301.3L65.2,300.5L65.5,299.7L65.7,298.5L66.0,296.6L66.3,294.5L66.5,292.4L66.8,290.6L67.0,289.0L67.3,288.2L67.5,289.0L67.8,290.4L68.1,292.3L68.3,294.8L68.6,296.7L68.8,298.2L69.1,299.7L69.4,300.7L69.6,301.2L69.9,301.7L70.1,302.1L70.4,301.9L70.6,302.4L70.9,302.5L71.2,302.5L71.4,302.3L71.7,302.6L71.9,302.5L72.2,302.7L72.4,302.7L72.7,302.7L73.0,302.6L73.2,302.6L73.5,302.8L73.7,302.6L74.0,302.8L74.2,302.8L74.5,302.7L74.8,303.1L75.0,302.8L75.3,303.1L75.5,302.5L75.8,302.5L76.1,302.9L76.3,302.9L76.6,302.8L76.8,302.8L77.1,302.5L77.3,302.7L77.6,302.7L77.9,302.8L78.1,303.0L78.4,302.8L78.6,302.9L78.9,302.7L79.1,302.8L79.4,302.9L79.7,302.8L79.9,303.0L80.2,302.7L80.4,303.1L80.7,302.7L80.9,303.0L81.2,302.7L81.5,303.1L81.7,302.9L82.0,302.9L82.2,303.0L82.5,302.8L82.7,302.7L83.0,302.6L83.3,303.0L83.5,302.8L83.8,302.8L84.0,302.9L84.3,303.2L84.6,302.6L84.8,302.9L85.1,302.8L85.3,302.9L85.6,302.6L85.8,302.8L86.1,303.0L86.4,303.1L86.6,303.1L86.9,302.7L87.1,302.9L87.4,302.9L87.6,302.7L87.9,302.7L88.2,303.0L88.4,302.9L88.7,302.8L88.9,303.1L89.2,302.7L89.4,303.0L89.7,302.9L90.0,302.9L90.2,302.9L90.5,302.9L90.7,302.9L91.0,302.9L91.2,303.2L91.5,302.8L91.8,303.0L92.0,303.0L92.3,302.8L92.5,303.0L92.8,302.7L93.1,303.0L93.3,302.8L93.6,302.8L93.8,302.9L94.1,303.0L94.3,303.0L94.6,303.0L94.9,302.8L95.1,302.7L95.4,303.0L95.6,302.9L95.9,302.7L96.1,303.0L96.4,302.9L96.7,302.7L96.9,302.9L97.2,302.7L97.4,302.7L97.7,302.9L97.9,302.6L98.2,302.9L98.5,302.7L98.7,303.0L99.0,302.8L99.2,302.9L99.5,302.7L99.7,302.8L100.0,303.0L100.3,302.9L100.5,302.6L100.8,303.0L101.0,303.0L101.3,302.8L101.6,303.1L101.8,302.7L102.1,302.9L102.3,303.0L102.6,303.1L102.8,303.1L103.1,302.7L103.4,302.6L103.6,302.9L103.9,302.7L104.1,302.9L104.4,302.7L104.6,303.0L104.9,303.0L105.2,303.0L105.4,302.9L105.7,302.9L105.9,302.8L106.2,302.9L106.4,302.9L106.7,302.9L107.0,302.8L107.2,303.2L107.5,302.9L107.7,303.1L108.0,303.1L108.3,302.7L108.5,302.6L108.8,303.1L109.0,302.8L109.3,302.9L109.5,302.8L109.8,302.9L110.1,302.7L110.3,302.9L110.6,302.8L110.8,302.9L111.1,302.5L111.3,303.0L111.6,302.9L111.9,302.6L112.1,302.8L112.4,302.9L112.6,303.0L112.9,302.9L113.1,303.1L113.4,302.9L113.7,302.7L113.9,302.8L114.2,303.0L114.4,302.8L114.7,303.0L114.9,303.0L115.2,303.0L115.5,303.0L115.7,302.8L116.0,302.9L116.2,302.8L116.5,302.8L116.8,302.6L117.0,302.8L117.3,302.7L117.5,302.7L117.8,302.9L118.0,302.9L118.3,302.8L118.6,303.1L118.8,303.0L119.1,303.0L119.3,302.8L119.6,302.6L119.8,303.0L120.1,302.9L120.4,303.0L120.6,302.9L120.9,303.1L121.1,302.8L121.4,303.0L121.6,302.7L121.9,302.5L122.2,302.8L122.4,303.1L122.7,302.6L122.9,303.0L123.2,302.8L123.4,302.8L123.7,302.9L124.0,302.9L124.2,302.7L124.5,302.9L124.7,302.9L125.0,303.0L125.3,302.8L125.5,303.1L125.8,303.2L126.0,303.2L126.3,302.7L126.5,302.9L126.8,302.6L127.1,302.9L127.3,302.9L127.6,302.7L127.8,302.6L128.1,302.9L128.3,303.0L128.6,302.7L128.9,302.8L129.1,302.5L129.4,302.8L129.6,302.9L129.9,302.9L130.1,303.1L130.4,302.7L130.7,302.5L130.9,302.9L131.2,302.8L131.4,302.9L131.7,303.0L131.9,303.0L132.2,303.1L132.5,303.1L132.7,302.6L133.0,302.9L133.2,303.2L133.5,302.8L133.8,303.0L134.0,302.9L134.3,302.8L134.5,303.1L134.8,303.0L135.0,302.8L135.3,303.0L135.6,302.7L135.8,302.7L136.1,303.0L136.3,302.9L136.6,302.7L136.8,302.9L137.1,302.9L137.4,303.0L137.6,303.0L137.9,302.8L138.1,302.8L138.4,302.8L138.6,302.8L138.9,303.1L139.2,303.1L139.4,303.1L139.7,302.9L139.9,302.8L140.2,303.0L140.5,302.8L140.7,302.9L141.0,302.6L141.2,302.8L141.5,303.1L141.7,302.7L142.0,302.6L142.3,302.8L142.5,303.1L142.8,303.1L143.0,302.8L143.3,302.8L143.5,302.8L143.8,302.7L144.1,302.8L144.3,302.8L144.6,302.6L144.8,302.8L145.1,302.8L145.3,302.7L145.6,302.7L145.9,303.0L146.1,303.1L146.4,302.8L146.6,302.8L146.9,302.9L147.1,302.8L147.4,302.7L147.7,303.0L147.9,302.7L148.2,302.7L148.4,302.7L148.7,302.7L149.0,302.8L149.2,302.9L149.5,303.0L149.7,302.9L150.0,302.8L150.2,302.6L150.5,302.8L150.8,302.7L151.0,302.8L151.3,303.0L151.5,302.9L151.8,302.8L152.0,302.7L152.3,302.8L152.6,302.8L152.8,302.7L153.1,302.7L153.3,303.0L153.6,302.6L153.8,302.8L154.1,302.6L154.4,303.1L154.6,302.9L154.9,302.9L155.1,302.9L155.4,302.9L155.6,302.9L155.9,302.6L156.2,302.9L156.4,302.9L156.7,302.6L156.9,302.9L157.2,302.9L157.5,302.6L157.7,302.7L158.0,302.8L158.2,302.7L158.5,302.9L158.7,302.6L159.0,302.8L159.3,302.8L159.5,302.9L159.8,302.8L160.0,302.8L160.3,302.9L160.5,302.5L160.8,302.9L161.1,302.7L161.3,302.6L161.6,302.7L161.8,302.5L162.1,302.5L162.3,302.7L162.6,302.7L162.9,302.9L163.1,302.6L163.4,302.6L163.6,302.6L163.9,303.0L164.1,302.8L164.4,302.7L164.7,302.6L164.9,302.6L165.2,302.7L165.4,302.8L165.7,302.9L166.0,302.9L166.2,302.8L166.5,302.6L166.7,302.6L167.0,302.4L167.2,302.6L167.5,302.8L167.8,302.7L168.0,302.8L168.3,302.5L168.5,302.9L168.8,302.8L169.0,302.7L169.3,302.8L169.6,302.4L169.8,302.6L170.1,302.6L170.3,303.0L170.6,302.6L170.8,302.6L171.1,302.8L171.4,302.5L171.6,302.8L171.9,302.5L172.1,302.6L172.4,302.5L172.7,302.7L172.9,302.2L173.2,302.6L173.4,302.4L173.7,302.5L173.9,302.2L174.2,302.4L174.5,302.3L174.7,302.3L175.0,302.2L175.2,302.2L175.5,302.2L175.7,301.9L176.0,301.7L176.3,301.6L176.5,301.8L176.8,301.5L177.0,301.6L177.3,301.3L177.5,301.1L177.8,301.2L178.1,301.3L178.3,300.9L178.6,300.7L178.8,300.6L179.1,300.8L179.3,300.6L179.6,300.6L179.9,300.8L180.1,300.7L180.4,300.7L180.6,300.7L180.9,300.8L181.2,301.0L181.4,301.1L181.7,301.2L181.9,301.2L182.2,301.4L182.4,301.5L182.7,301.6L183.0,301.7L183.2,301.9L183.5,301.8L183.7,301.9L184.0,301.8L184.2,302.1L184.5,302.1L184.8,302.1L185.0,302.0L185.3,302.3L185.5,302.6L185.8,302.3L186.0,302.3L186.3,302.4L186.6,302.2L186.8,302.3L187.1,302.2L187.3,302.2L187.6,302.4L187.8,302.4L188.1,302.3L188.4,302.2L188.6,302.3L188.9,302.1L189.1,302.4L189.4,302.2L189.7,302.3L189.9,302.4L190.2,302.3L190.4,302.0L190.7,302.2L190.9,302.2L191.2,302.0L191.5,301.8L191.7,302.1L192.0,302.1L192.2,302.2L192.5,302.1L192.7,302.1L193.0,302.1L193.3,302.2L193.5,302.0L193.8,302.0L194.0,301.8L194.3,302.0L194.5,301.8L194.8,301.9L195.1,301.4L195.3,301.8L195.6,301.7L195.8,301.6L196.1,301.8L196.3,301.6L196.6,301.4L196.9,301.3L197.1,301.6L197.4,301.4L197.6,301.3L197.9,301.0L198.2,301.2L198.4,301.0L198.7,300.7L198.9,300.6L199.2,300.3L199.4,300.4L199.7,300.0L200.0,300.0L200.2,299.6L200.5,299.2L200.7,299.0L201.0,298.6L201.2,297.8L201.5,297.4L201.8,296.8L202.0,295.8L202.3,294.7L202.5,293.7L202.8,292.3L203.0,290.9L203.3,289.3L203.6,287.3L203.8,285.2L204.1,282.6L204.3,280.4L204.6,277.5L204.9,274.6L205.1,271.5L205.4,268.6L205.6,264.8L205.9,261.4L206.1,258.5L206.4,255.0L206.7,252.4L206.9,249.3L207.2,247.1L207.4,245.4L207.7,244.2L207.9,243.4L208.2,243.4L208.5,244.0L208.7,245.2L209.0,247.1L209.2,249.7L209.5,252.3L209.7,255.2L210.0,258.4L210.3,261.8L210.5,265.2L210.8,268.3L211.0,271.5L211.3,274.7L211.5,278.0L211.8,280.4L212.1,283.1L212.3,285.0L212.6,287.5L212.8,289.0L213.1,290.8L213.4,292.4L213.6,293.7L213.9,294.9L214.1,295.9L214.4,296.7L214.6,297.4L214.9,298.4L215.2,298.6L215.4,299.1L215.7,299.6L215.9,299.8L216.2,300.0L216.4,300.2L216.7,300.6L217.0,300.4L217.2,300.5L217.5,300.8L217.7,300.6L218.0,300.9L218.2,301.3L218.5,301.1L218.8,301.3L219.0,301.5L219.3,301.2L219.5,301.5L219.8,301.4L220.0,301.4L220.3,301.6L220.6,301.7L220.8,301.7L221.1,301.7L221.3,302.0L221.6,302.0L221.9,302.0L222.1,301.9L222.4,301.8L222.6,301.9L222.9,301.9L223.1,302.1" stroke="#ff1010" stroke-width="1.1" fill="none" stroke-linejoin="round"/><path d="M27.4,327.2L27.6,327.2L27.9,327.1L28.1,327.2L28.4,327.3L28.7,327.2L28.9,327.4L29.2,327.0L29.4,327.1L29.7,327.0L29.9,327.0L30.2,327.1L30.5,327.1L30.7,327.1L31.0,327.1L31.2,327.3L31.5,327.1L31.7,326.7L32.0,326.9L32.3,326.7L32.5,326.7L32.8,326.9L33.0,326.6L33.3,326.3L33.5,326.6L33.8,326.5L34.1,326.3L34.3,326.3L34.6,326.3L34.8,326.4L35.1,326.3L35.3,326.4L35.6,326.7L35.9,326.3L36.1,326.4L36.4,326.5L36.6,326.7L36.9,326.5L37.2,326.9L37.4,326.5L37.7,326.6L37.9,326.8L38.2,326.7L38.4,326.8L38.7,327.0L39.0,327.1L39.2,327.0L39.5,327.0L39.7,327.3L40.0,327.1L40.2,327.1L40.5,327.3L40.8,327.0L41.0,327.1L41.3,327.2L41.5,327.1L41.8,327.1L42.0,327.2L42.3,327.1L42.6,327.1L42.8,327.0L43.1,327.3L43.3,327.1L43.6,327.3L43.9,327.2L44.1,327.1L44.4,327.3L44.6,327.2L44.9,327.2L45.1,327.0L45.4,327.2L45.7,327.3L45.9,327.2L46.2,327.3L46.4,327.4L46.7,327.2L46.9,327.5L47.2,326.9L47.5,327.1L47.7,326.8L48.0,327.3L48.2,327.2L48.5,327.4L48.7,327.1L49.0,326.9L49.3,327.4L49.5,327.0L49.8,327.0L50.0,327.1L50.3,327.3L50.5,327.1L50.8,327.2L51.1,326.9L51.3,327.4L51.6,327.1L51.8,327.2L52.1,327.2L52.4,327.2L52.6,327.2L52.9,327.0L53.1,327.1L53.4,327.2L53.6,327.3L53.9,327.1L54.2,327.2L54.4,327.2L54.7,327.2L54.9,327.2L55.2,327.1L55.4,327.1L55.7,327.3L56.0,327.2L56.2,327.1L56.5,327.7L56.7,327.3L57.0,327.3L57.2,327.1L57.5,327.0L57.8,327.3L58.0,327.1L58.3,327.1L58.5,327.3L58.8,327.3L59.0,327.1L59.3,327.1L59.6,327.4L59.8,327.2L60.1,326.9L60.3,327.2L60.6,327.1L60.9,327.0L61.1,327.1L61.4,327.1L61.6,327.3L61.9,327.0L62.1,327.0L62.4,327.1L62.7,326.8L62.9,327.0L63.2,326.9L63.4,327.0L63.7,326.6L63.9,326.8L64.2,326.4L64.5,326.4L64.7,326.3L65.0,326.1L65.2,325.9L65.5,325.2L65.7,323.8L66.0,322.6L66.3,321.2L66.5,319.1L66.8,316.8L67.0,315.1L67.3,313.4L67.5,312.9L67.8,313.3L68.1,314.9L68.3,317.3L68.6,319.1L68.8,321.0L69.1,323.1L69.4,323.9L69.6,324.9L69.9,325.6L70.1,326.1L70.4,326.3L70.6,326.7L70.9,326.6L71.2,326.8L71.4,326.8L71.7,326.7L71.9,326.7L72.2,326.9L72.4,326.6L72.7,327.0L73.0,327.0L73.2,327.0L73.5,327.0L73.7,327.1L74.0,327.0L74.2,327.1L74.5,326.8L74.8,327.2L75.0,326.9L75.3,327.2L75.5,327.0L75.8,327.0L76.1,327.0L76.3,327.3L76.6,326.9L76.8,326.9L77.1,327.1L77.3,327.2L77.6,327.1L77.9,327.0L78.1,327.0L78.4,327.3L78.6,327.0L78.9,327.2L79.1,327.2L79.4,327.2L79.7,327.0L79.9,327.4L80.2,327.2L80.4,327.2L80.7,327.1L80.9,327.0L81.2,327.1L81.5,327.2L81.7,327.0L82.0,327.2L82.2,327.3L82.5,327.2L82.7,327.1L83.0,327.3L83.3,327.3L83.5,327.3L83.8,327.0L84.0,326.9L84.3,327.3L84.6,327.2L84.8,327.1L85.1,327.2L85.3,327.1L85.6,327.1L85.8,327.4L86.1,326.9L86.4,327.3L86.6,327.3L86.9,327.4L87.1,327.2L87.4,327.2L87.6,327.0L87.9,327.2L88.2,326.9L88.4,327.1L88.7,327.2L88.9,327.2L89.2,327.1L89.4,327.3L89.7,326.9L90.0,327.2L90.2,327.1L90.5,327.2L90.7,327.2L91.0,327.5L91.2,327.0L91.5,327.4L91.8,327.4L92.0,327.2L92.3,327.1L92.5,327.0L92.8,327.0L93.1,327.5L93.3,326.9L93.6,327.2L93.8,327.1L94.1,327.5L94.3,327.2L94.6,327.0L94.9,327.1L95.1,327.2L95.4,327.2L95.6,327.0L95.9,327.1L96.1,327.1L96.4,327.2L96.7,327.2L96.9,327.2L97.2,327.1L97.4,327.3L97.7,327.1L97.9,327.1L98.2,327.1L98.5,327.1L98.7,327.1L99.0,326.9L99.2,327.4L99.5,327.3L99.7,327.4L100.0,327.1L100.3,327.3L100.5,327.2L100.8,327.2L101.0,327.4L101.3,327.1L101.6,327.3L101.8,326.9L102.1,327.3L102.3,327.1L102.6,327.0L102.8,327.1L103.1,326.9L103.4,327.0L103.6,327.2L103.9,326.8L104.1,327.3L104.4,327.3L104.6,327.1L104.9,327.0L105.2,327.0L105.4,327.0L105.7,327.1L105.9,327.5L106.2,327.0L106.4,327.3L106.7,327.4L107.0,327.0L107.2,327.1L107.5,327.3L107.7,327.1L108.0,327.4L108.3,327.5L108.5,327.2L108.8,327.1L109.0,327.3L109.3,327.2L109.5,327.1L109.8,327.2L110.1,327.2L110.3,327.2L110.6,327.3L110.8,327.1L111.1,327.0L111.3,326.9L111.6,327.5L111.9,327.1L112.1,327.1L112.4,327.5L112.6,327.3L112.9,327.5L113.1,327.1L113.4,327.1L113.7,327.1L113.9,327.3L114.2,327.2L114.4,327.2L114.7,327.5L114.9,327.4L115.2,327.0L115.5,327.2L115.7,327.3L116.0,327.1L116.2,327.5L116.5,327.3L116.8,327.4L117.0,327.1L117.3,327.0L117.5,327.3L117.8,327.1L118.0,327.1L118.3,327.2L118.6,327.2L118.8,327.2L119.1,327.1L119.3,327.2L119.6,327.6L119.8,327.3L120.1,327.1L120.4,327.5L120.6,327.1L120.9,326.9L121.1,327.0L121.4,326.9L121.6,327.3L121.9,327.0L122.2,327.0L122.4,327.1L122.7,327.1L122.9,327.0L123.2,327.1L123.4,327.2L123.7,327.3L124.0,327.0L124.2,327.3L124.5,327.2L124.7,327.2L125.0,327.1L125.3,327.0L125.5,327.3L125.8,327.3L126.0,327.1L126.3,327.0L126.5,327.3L126.8,327.5L127.1,327.2L127.3,327.5L127.6,327.2L127.8,327.2L128.1,327.2L128.3,327.3L128.6,326.9L128.9,327.2L129.1,327.4L129.4,326.9L129.6,327.2L129.9,327.3L130.1,327.4L130.4,327.4L130.7,327.2L130.9,327.5L131.2,327.0L131.4,327.0L131.7,327.4L131.9,327.3L132.2,327.0L132.5,327.3L132.7,327.3L133.0,327.3L133.2,327.1L133.5,327.0L133.8,326.9L134.0,327.1L134.3,327.1L134.5,327.1L134.8,327.1L135.0,327.3L135.3,327.0L135.6,327.0L135.8,327.5L136.1,327.1L136.3,327.1L136.6,327.3L136.8,326.9L137.1,327.4L137.4,327.0L137.6,327.0L137.9,327.0L138.1,327.0L138.4,327.0L138.6,327.3L138.9,327.1L139.2,327.4L139.4,327.3L139.7,327.0L139.9,327.2L140.2,327.1L140.5,327.1L140.7,327.2L141.0,327.2L141.2,327.2L141.5,326.8L141.7,327.1L142.0,327.1L142.3,327.4L142.5,327.1L142.8,327.1L143.0,327.1L143.3,327.3L143.5,327.0L143.8,327.1L144.1,327.1L144.3,327.1L144.6,327.1L144.8,327.1L145.1,327.2L145.3,326.9L145.6,327.4L145.9,327.1L146.1,326.9L146.4,327.1L146.6,327.3L146.9,327.1L147.1,327.1L147.4,326.8L147.7,327.4L147.9,327.1L148.2,326.8L148.4,327.1L148.7,327.4L149.0,327.2L149.2,326.9L149.5,327.0L149.7,327.2L150.0,327.4L150.2,327.2L150.5,327.2L150.8,327.1L151.0,327.1L151.3,327.0L151.5,326.9L151.8,326.9L152.0,327.0L152.3,327.3L152.6,327.1L152.8,327.3L153.1,327.2L153.3,327.1L153.6,327.0L153.8,327.4L154.1,327.3L154.4,327.3L154.6,327.5L154.9,327.3L155.1,327.2L155.4,327.2L155.6,327.2L155.9,327.5L156.2,327.0L156.4,326.8L156.7,327.0L156.9,327.1L157.2,327.0L157.5,327.2L157.7,327.2L158.0,327.1L158.2,327.1L158.5,327.4L158.7,327.4L159.0,327.4L159.3,327.0L159.5,327.3L159.8,326.9L160.0,326.8L160.3,327.4L160.5,327.2L160.8,327.2L161.1,327.3L161.3,327.3L161.6,327.1L161.8,327.1L162.1,327.2L162.3,327.2L162.6,327.1L162.9,326.9L163.1,327.5L163.4,327.0L163.6,327.0L163.9,327.2L164.1,327.1L164.4,327.2L164.7,327.4L164.9,327.3L165.2,327.0L165.4,327.1L165.7,327.1L166.0,327.2L166.2,326.9L166.5,326.9L166.7,326.8L167.0,327.1L167.2,327.1L167.5,327.1L167.8,327.2L168.0,326.9L168.3,327.0L168.5,326.9L168.8,327.2L169.0,327.1L169.3,326.8L169.6,327.1L169.8,327.0L170.1,327.0L170.3,327.1L170.6,326.9L170.8,326.9L171.1,326.9L171.4,326.9L171.6,326.8L171.9,327.1L172.1,327.0L172.4,326.9L172.7,326.6L172.9,327.2L173.2,326.8L173.4,326.8L173.7,326.9L173.9,327.0L174.2,326.6L174.5,326.3L174.7,326.5L175.0,326.5L175.2,326.3L175.5,326.6L175.7,326.2L176.0,326.2L176.3,325.9L176.5,326.1L176.8,325.8L177.0,325.9L177.3,325.7L177.5,325.6L177.8,325.5L178.1,325.1L178.3,325.2L178.6,325.2L178.8,325.0L179.1,325.2L179.3,325.1L179.6,324.9L179.9,325.2L180.1,325.0L180.4,325.1L180.6,325.3L180.9,325.0L181.2,325.2L181.4,325.4L181.7,325.4L181.9,325.3L182.2,325.8L182.4,325.8L182.7,325.9L183.0,326.0L183.2,326.2L183.5,326.0L183.7,326.3L184.0,326.2L184.2,326.3L184.5,326.3L184.8,326.6L185.0,326.1L185.3,326.4L185.5,326.7L185.8,326.5L186.0,326.5L186.3,326.8L186.6,326.5L186.8,326.6L187.1,326.7L187.3,326.6L187.6,326.6L187.8,326.7L188.1,326.8L188.4,326.5L188.6,326.7L188.9,326.6L189.1,326.6L189.4,326.4L189.7,326.9L189.9,326.7L190.2,326.6L190.4,326.5L190.7,326.8L190.9,326.5L191.2,326.4L191.5,326.4L191.7,326.5L192.0,326.6L192.2,326.2L192.5,326.5L192.7,326.5L193.0,326.6L193.3,326.4L193.5,326.6L193.8,326.7L194.0,326.2L194.3,326.3L194.5,326.4L194.8,326.4L195.1,326.2L195.3,326.4L195.6,325.9L195.8,326.2L196.1,326.1L196.3,326.2L196.6,326.1L196.9,326.0L197.1,325.8L197.4,326.0L197.6,325.5L197.9,325.8L198.2,325.6L198.4,325.9L198.7,325.3L198.9,325.4L199.2,325.3L199.4,325.4L199.7,325.1L200.0,324.8L200.2,324.8L200.5,324.9L200.7,324.6L201.0,324.2L201.2,323.9L201.5,323.6L201.8,323.4L202.0,323.0L202.3,322.5L202.5,321.9L202.8,321.3L203.0,320.7L203.3,319.8L203.6,318.5L203.8,317.4L204.1,315.9L204.3,314.5L204.6,312.6L204.9,310.6L205.1,308.5L205.4,305.8L205.6,303.1L205.9,300.3L206.1,296.9L206.4,293.8L206.7,290.5L206.9,287.3L207.2,283.8L207.4,280.3L207.7,277.2L207.9,274.4L208.2,271.8L208.5,269.7L208.7,268.0L209.0,267.2L209.2,266.7L209.5,267.2L209.7,268.1L210.0,269.8L210.3,272.1L210.5,274.4L210.8,277.3L211.0,280.1L211.3,283.6L211.5,287.2L211.8,290.5L212.1,294.0L212.3,297.0L212.6,300.2L212.8,303.0L213.1,305.9L213.4,308.1L213.6,310.6L213.9,312.4L214.1,314.2L214.4,316.1L214.6,317.1L214.9,318.4L215.2,319.9L215.4,320.6L215.7,321.4L215.9,322.0L216.2,322.5L216.4,323.3L216.7,323.4L217.0,324.0L217.2,324.1L217.5,324.2L217.7,324.5L218.0,324.7L218.2,325.3L218.5,324.9L218.8,325.2L219.0,325.0L219.3,325.4L219.5,325.4L219.8,325.6L220.0,325.6L220.3,325.6L220.6,325.7L220.8,325.8L221.1,326.0L221.3,325.9L221.6,325.9L221.9,325.8L222.1,326.2L222.4,326.1L222.6,326.0L222.9,326.4L223.1,326.3" stroke="#111111" stroke-width="1.1" fill="none" stroke-linejoin="round"/><text x="107.30" y="248.30" font-size="16" fill="#c82cc8" stroke="#c82cc8" stroke-width="0.25">(4)</text><text x="107.30" y="273.30" font-size="16" fill="#1822b0" stroke="#1822b0" stroke-width="0.25">(3)</text><text x="107.30" y="298.30" font-size="16" fill="#e81c1c" stroke="#e81c1c" stroke-width="0.25">(2)</text><text x="107.30" y="323.70" font-size="16" fill="#111111" stroke="#111111" stroke-width="0.25">(1)</text><rect x="258.5" y="182.5" width="206.39999999999998" height="152.7" fill="none" stroke="#555555" stroke-width="1.2"/><line x1="290.70" y1="335.2" x2="290.70" y2="332.0" stroke="#555555" stroke-width="1"/><text x="290.70" y="349.9" font-size="14.2" fill="#111" stroke="#111" stroke-width="0.25" text-anchor="middle" textLength="26.6" lengthAdjust="spacingAndGlyphs">1500</text><line x1="323.05" y1="335.2" x2="323.05" y2="333.4" stroke="#555555" stroke-width="1"/><line x1="355.40" y1="335.2" x2="355.40" y2="332.0" stroke="#555555" stroke-width="1"/><text x="355.40" y="349.9" font-size="14.2" fill="#111" stroke="#111" stroke-width="0.25" text-anchor="middle" textLength="26.6" lengthAdjust="spacingAndGlyphs">2000</text><line x1="387.75" y1="335.2" x2="387.75" y2="333.4" stroke="#555555" stroke-width="1"/><line x1="420.10" y1="335.2" x2="420.10" y2="332.0" stroke="#555555" stroke-width="1"/><text x="420.10" y="349.9" font-size="14.2" fill="#111" stroke="#111" stroke-width="0.25" text-anchor="middle" textLength="26.6" lengthAdjust="spacingAndGlyphs">2500</text><line x1="452.45" y1="335.2" x2="452.45" y2="333.4" stroke="#555555" stroke-width="1"/><line x1="258.5" y1="198.20" x2="261.5" y2="198.20" stroke="#555555" stroke-width="1"/><line x1="258.5" y1="213.46" x2="261.5" y2="213.46" stroke="#555555" stroke-width="1"/><line x1="258.5" y1="228.72" x2="261.5" y2="228.72" stroke="#555555" stroke-width="1"/><line x1="258.5" y1="243.98" x2="261.5" y2="243.98" stroke="#555555" stroke-width="1"/><line x1="258.5" y1="259.24" x2="261.5" y2="259.24" stroke="#555555" stroke-width="1"/><line x1="258.5" y1="274.50" x2="261.5" y2="274.50" stroke="#555555" stroke-width="1"/><line x1="258.5" y1="289.76" x2="261.5" y2="289.76" stroke="#555555" stroke-width="1"/><line x1="258.5" y1="305.02" x2="261.5" y2="305.02" stroke="#555555" stroke-width="1"/><line x1="258.5" y1="320.28" x2="261.5" y2="320.28" stroke="#555555" stroke-width="1"/><text transform="translate(250.0,316.0) rotate(-90)" x="0" y="0" font-size="15" fill="#111" stroke="#111" stroke-width="0.25" textLength="114.6" lengthAdjust="spacingAndGlyphs">Intensity (arb. unit)</text><text x="306.8" y="365.0" font-size="14.6" fill="#111" stroke="#111" stroke-width="0.25" textLength="110.2" lengthAdjust="spacingAndGlyphs">Raman shift (cm<tspan dy="-5" font-size="9">-1</tspan><tspan dy="5">)</tspan></text><path d="M262.2,246.5L262.5,247.0L262.7,247.2L263.0,246.7L263.3,246.5L263.5,246.9L263.8,247.0L264.0,247.2L264.3,246.5L264.6,246.5L264.8,247.1L265.1,247.0L265.3,247.4L265.6,247.2L265.9,246.9L266.1,246.8L266.4,247.7L266.6,246.8L266.9,246.7L267.1,246.6L267.4,246.9L267.7,246.9L267.9,246.8L268.2,246.9L268.4,247.0L268.7,247.1L269.0,247.2L269.2,247.0L269.5,246.4L269.7,247.1L270.0,246.5L270.3,246.8L270.5,246.5L270.8,246.9L271.0,246.7L271.3,247.0L271.5,247.9L271.8,246.9L272.1,247.2L272.3,246.5L272.6,246.8L272.8,247.1L273.1,246.9L273.4,247.0L273.6,246.9L273.9,246.6L274.1,247.1L274.4,246.7L274.7,247.5L274.9,246.7L275.2,247.1L275.4,246.9L275.7,247.2L275.9,246.7L276.2,247.2L276.5,246.9L276.7,247.3L277.0,247.1L277.2,246.9L277.5,246.7L277.8,247.1L278.0,247.0L278.3,247.4L278.5,246.8L278.8,247.1L279.1,247.1L279.3,247.0L279.6,247.0L279.8,247.0L280.1,246.7L280.3,246.6L280.6,246.8L280.9,247.1L281.1,247.4L281.4,247.2L281.6,247.2L281.9,247.1L282.2,247.1L282.4,247.0L282.7,247.1L282.9,247.4L283.2,246.8L283.5,246.7L283.7,247.5L284.0,247.0L284.2,247.2L284.5,247.2L284.7,246.6L285.0,247.6L285.3,247.4L285.5,247.0L285.8,247.1L286.0,246.9L286.3,246.6L286.6,246.9L286.8,247.0L287.1,247.2L287.3,247.1L287.6,246.9L287.9,247.3L288.1,246.7L288.4,247.1L288.6,247.2L288.9,246.8L289.1,246.4L289.4,246.6L289.7,247.0L289.9,247.1L290.2,247.4L290.4,246.6L290.7,246.9L291.0,247.1L291.2,246.9L291.5,246.2L291.7,247.1L292.0,247.6L292.3,247.2L292.5,246.6L292.8,246.8L293.0,247.0L293.3,247.6L293.5,247.1L293.8,246.9L294.1,247.4L294.3,246.9L294.6,247.5L294.8,246.7L295.1,246.8L295.4,247.1L295.6,247.3L295.9,247.1L296.1,247.0L296.4,246.4L296.7,246.7L296.9,246.7L297.2,246.7L297.4,247.1L297.7,246.8L297.9,247.1L298.2,246.9L298.5,246.8L298.7,246.9L299.0,247.0L299.2,247.2L299.5,246.8L299.8,246.8L300.0,246.5L300.3,247.4L300.5,247.3L300.8,246.8L301.1,246.8L301.3,246.5L301.6,247.0L301.8,247.0L302.1,247.6L302.3,247.0L302.6,246.7L302.9,246.2L303.1,247.3L303.4,247.0L303.6,246.4L303.9,247.0L304.2,246.4L304.4,247.9L304.7,247.2L304.9,247.1L305.2,246.8L305.5,246.3L305.7,246.9L306.0,246.4L306.2,247.1L306.5,246.3L306.7,246.6L307.0,247.3L307.3,247.4L307.5,246.5L307.8,246.4L308.0,247.2L308.3,247.2L308.6,246.6L308.8,246.7L309.1,246.7L309.3,246.5L309.6,246.7L309.9,247.3L310.1,247.1L310.4,247.5L310.6,246.9L310.9,246.9L311.1,246.6L311.4,246.9L311.7,246.5L311.9,246.4L312.2,247.1L312.4,247.3L312.7,247.2L313.0,247.3L313.2,247.0L313.5,246.7L313.7,246.9L314.0,246.8L314.3,246.6L314.5,246.4L314.8,246.5L315.0,246.9L315.3,246.9L315.5,246.8L315.8,247.3L316.1,247.0L316.3,247.1L316.6,247.3L316.8,246.7L317.1,246.3L317.4,247.1L317.6,246.7L317.9,247.3L318.1,247.0L318.4,247.2L318.7,247.1L318.9,246.3L319.2,247.1L319.4,246.7L319.7,246.7L319.9,246.8L320.2,247.1L320.5,247.2L320.7,247.2L321.0,246.4L321.2,246.7L321.5,246.2L321.8,246.9L322.0,247.1L322.3,246.7L322.5,247.0L322.8,247.0L323.0,247.2L323.3,246.7L323.6,246.7L323.8,246.7L324.1,247.4L324.3,247.2L324.6,246.9L324.9,247.0L325.1,246.9L325.4,247.0L325.6,246.8L325.9,246.8L326.2,246.5L326.4,246.7L326.7,247.4L326.9,247.1L327.2,246.9L327.4,246.8L327.7,246.9L328.0,247.0L328.2,246.7L328.5,247.0L328.7,247.0L329.0,246.7L329.3,246.7L329.5,246.6L329.8,246.6L330.0,247.2L330.3,246.2L330.6,246.8L330.8,246.7L331.1,246.7L331.3,246.9L331.6,247.2L331.8,246.9L332.1,246.9L332.4,246.7L332.6,246.9L332.9,247.2L333.1,246.8L333.4,246.6L333.7,246.5L333.9,246.6L334.2,246.5L334.4,247.2L334.7,247.0L335.0,246.8L335.2,247.3L335.5,246.7L335.7,247.1L336.0,247.1L336.2,246.4L336.5,246.4L336.8,246.6L337.0,247.2L337.3,247.3L337.5,246.5L337.8,247.2L338.1,246.8L338.3,246.8L338.6,246.7L338.8,246.8L339.1,246.4L339.4,246.6L339.6,246.5L339.9,247.0L340.1,247.5L340.4,247.7L340.6,246.8L340.9,246.4L341.2,246.8L341.4,246.6L341.7,247.5L341.9,247.1L342.2,246.7L342.5,247.2L342.7,247.1L343.0,246.4L343.2,246.7L343.5,246.8L343.8,246.9L344.0,246.9L344.3,246.8L344.5,247.0L344.8,246.7L345.0,246.6L345.3,247.4L345.6,247.0L345.8,247.0L346.1,246.4L346.3,246.9L346.6,247.1L346.9,246.5L347.1,247.2L347.4,246.8L347.6,247.0L347.9,246.9L348.2,247.0L348.4,247.3L348.7,246.8L348.9,247.4L349.2,246.7L349.4,246.6L349.7,247.1L350.0,246.6L350.2,246.8L350.5,247.2L350.7,247.3L351.0,246.4L351.3,247.1L351.5,247.5L351.8,247.3L352.0,246.8L352.3,246.7L352.6,246.8L352.8,246.6L353.1,246.8L353.3,246.8L353.6,246.9L353.8,247.3L354.1,246.8L354.4,246.5L354.6,247.2L354.9,246.6L355.1,246.8L355.4,246.9L355.7,246.8L355.9,246.6L356.2,246.8L356.4,247.6L356.7,246.7L357.0,246.9L357.2,247.2L357.5,247.1L357.7,247.1L358.0,247.2L358.2,246.3L358.5,246.6L358.8,246.9L359.0,247.0L359.3,247.3L359.5,247.0L359.8,246.8L360.1,246.9L360.3,246.8L360.6,247.0L360.8,247.1L361.1,246.8L361.4,246.7L361.6,246.6L361.9,247.2L362.1,247.3L362.4,247.2L362.6,247.2L362.9,247.1L363.2,246.9L363.4,247.1L363.7,246.6L363.9,246.8L364.2,246.7L364.5,247.1L364.7,246.7L365.0,246.9L365.2,247.0L365.5,247.3L365.8,246.7L366.0,246.6L366.3,247.1L366.5,246.6L366.8,247.0L367.0,246.7L367.3,246.9L367.6,246.4L367.8,247.1L368.1,246.7L368.3,246.6L368.6,247.5L368.9,247.1L369.1,248.0L369.4,247.0L369.6,246.8L369.9,246.9L370.2,247.4L370.4,246.9L370.7,247.0L370.9,247.1L371.2,246.6L371.4,246.9L371.7,246.7L372.0,246.5L372.2,247.2L372.5,247.1L372.7,246.9L373.0,246.6L373.3,246.3L373.5,247.0L373.8,246.9L374.0,246.4L374.3,246.9L374.6,246.4L374.8,246.9L375.1,246.9L375.3,247.0L375.6,247.0L375.8,247.0L376.1,246.6L376.4,246.8L376.6,246.7L376.9,246.8L377.1,247.0L377.4,247.1L377.7,247.4L377.9,246.1L378.2,247.0L378.4,246.8L378.7,247.6L379.0,247.2L379.2,246.4L379.5,247.0L379.7,246.7L380.0,247.2L380.2,246.6L380.5,246.9L380.8,246.9L381.0,246.9L381.3,246.7L381.5,246.3L381.8,247.0L382.1,247.2L382.3,246.9L382.6,246.6L382.8,247.0L383.1,247.1L383.4,246.8L383.6,246.9L383.9,247.3L384.1,246.6L384.4,246.7L384.6,246.3L384.9,246.7L385.2,246.7L385.4,246.6L385.7,246.7L385.9,247.4L386.2,246.8L386.5,246.9L386.7,247.6L387.0,246.9L387.2,246.4L387.5,247.0L387.8,246.6L388.0,247.4L388.3,246.5L388.5,246.7L388.8,246.4L389.0,246.9L389.3,246.6L389.6,246.9L389.8,246.8L390.1,246.7L390.3,247.2L390.6,247.2L390.9,246.9L391.1,246.6L391.4,246.6L391.6,247.0L391.9,247.6L392.1,246.8L392.4,246.7L392.7,246.7L392.9,246.6L393.2,246.6L393.4,246.8L393.7,247.3L394.0,246.9L394.2,246.7L394.5,246.4L394.7,247.0L395.0,246.9L395.3,246.5L395.5,246.6L395.8,246.9L396.0,247.2L396.3,247.1L396.5,247.0L396.8,246.8L397.1,247.0L397.3,246.9L397.6,247.6L397.8,246.6L398.1,246.8L398.4,247.3L398.6,246.8L398.9,247.3L399.1,246.9L399.4,246.9L399.7,246.8L399.9,246.5L400.2,246.6L400.4,247.6L400.7,247.1L400.9,247.1L401.2,247.2L401.5,247.1L401.7,247.2L402.0,246.8L402.2,246.8L402.5,247.2L402.8,246.8L403.0,246.5L403.3,246.8L403.5,246.7L403.8,247.1L404.1,246.7L404.3,246.6L404.6,246.8L404.8,247.4L405.1,246.9L405.3,246.9L405.6,246.9L405.9,247.0L406.1,247.2L406.4,247.3L406.6,246.4L406.9,247.3L407.2,246.9L407.4,246.8L407.7,247.6L407.9,246.8L408.2,247.5L408.5,247.2L408.7,246.6L409.0,247.0L409.2,247.1L409.5,246.9L409.7,246.2L410.0,246.8L410.3,246.8L410.5,246.6L410.8,247.4L411.0,246.8L411.3,246.8L411.6,246.8L411.8,246.7L412.1,246.7L412.3,246.9L412.6,247.0L412.9,246.7L413.1,246.9L413.4,246.5L413.6,247.1L413.9,246.7L414.1,247.0L414.4,246.6L414.7,246.7L414.9,247.0L415.2,246.5L415.4,247.6L415.7,246.9L416.0,246.9L416.2,246.7L416.5,247.4L416.7,247.3L417.0,247.0L417.3,246.5L417.5,246.7L417.8,247.1L418.0,246.7L418.3,246.5L418.5,246.5L418.8,246.7L419.1,246.9L419.3,246.7L419.6,246.9L419.8,247.7L420.1,247.4L420.4,246.6L420.6,247.0L420.9,246.9L421.1,246.9L421.4,247.2L421.7,246.8L421.9,246.8L422.2,246.8L422.4,246.9L422.7,247.3L422.9,247.1L423.2,246.5L423.5,246.8L423.7,246.7L424.0,247.1L424.2,247.0L424.5,247.2L424.8,246.9L425.0,246.3L425.3,247.0L425.5,247.0L425.8,247.1L426.1,246.5L426.3,246.9L426.6,246.7L426.8,246.7L427.1,247.0L427.3,247.0L427.6,246.6L427.9,246.4L428.1,246.2L428.4,246.7L428.6,247.2L428.9,246.9L429.2,246.2L429.4,246.6L429.7,247.0L429.9,247.4L430.2,247.3L430.5,247.0L430.7,247.0L431.0,246.6L431.2,246.8L431.5,246.8L431.7,246.7L432.0,246.9L432.3,246.8L432.5,247.0L432.8,247.3L433.0,247.1L433.3,247.0L433.6,246.8L433.8,246.4L434.1,246.9L434.3,247.1L434.6,246.6L434.9,247.3L435.1,246.8L435.4,247.0L435.6,246.8L435.9,246.5L436.1,247.5L436.4,246.6L436.7,247.2L436.9,246.7L437.2,247.0L437.4,246.7L437.7,246.8L438.0,247.2L438.2,247.5L438.5,246.6L438.7,246.9L439.0,247.2L439.3,246.7L439.5,247.1L439.8,246.7L440.0,247.1L440.3,247.0L440.5,247.3L440.8,247.0L441.1,246.5L441.3,247.1L441.6,246.6L441.8,247.1L442.1,247.4L442.4,247.1L442.6,246.7L442.9,247.3L443.1,247.0L443.4,246.5L443.7,246.8L443.9,247.3L444.2,246.8L444.4,246.9L444.7,246.8L444.9,246.4L445.2,246.7L445.5,247.0L445.7,247.0L446.0,246.8L446.2,246.3L446.5,247.3L446.8,247.1L447.0,247.2L447.3,247.3L447.5,246.8L447.8,246.7L448.1,247.0L448.3,247.4L448.6,246.4L448.8,246.8L449.1,246.7L449.3,247.1L449.6,247.3L449.9,246.8L450.1,246.5L450.4,246.9L450.6,246.8L450.9,246.4L451.2,247.2L451.4,246.7L451.7,247.1L451.9,246.5L452.2,247.2L452.4,246.5L452.7,247.2L453.0,246.4L453.2,247.3L453.5,246.8L453.7,246.4L454.0,246.8L454.3,247.0L454.5,246.6L454.8,246.8L455.0,247.0L455.3,246.8L455.6,246.0L455.8,246.8L456.1,247.0L456.3,247.0L456.6,247.2L456.8,246.7L457.1,247.7L457.4,247.1L457.6,247.0L457.9,247.2L458.1,247.2L458.4,246.9L458.7,246.7L458.9,247.2" stroke="#ff00ff" stroke-width="1.1" fill="none" stroke-linejoin="round"/><path d="M262.2,270.8L262.5,271.3L262.7,271.1L263.0,271.1L263.3,271.5L263.5,271.2L263.8,271.1L264.0,271.7L264.3,271.1L264.6,270.8L264.8,270.8L265.1,271.0L265.3,271.4L265.6,271.5L265.9,271.5L266.1,271.8L266.4,271.7L266.6,271.4L266.9,271.6L267.1,271.4L267.4,271.0L267.7,271.5L267.9,271.2L268.2,271.2L268.4,271.8L268.7,271.4L269.0,271.1L269.2,271.2L269.5,271.9L269.7,271.1L270.0,271.4L270.3,271.4L270.5,271.4L270.8,271.4L271.0,271.1L271.3,271.1L271.5,271.2L271.8,271.1L272.1,271.5L272.3,271.7L272.6,270.9L272.8,271.4L273.1,270.9L273.4,271.0L273.6,271.1L273.9,271.2L274.1,271.1L274.4,270.4L274.7,271.6L274.9,271.1L275.2,271.0L275.4,271.4L275.7,271.0L275.9,270.8L276.2,271.4L276.5,271.3L276.7,271.0L277.0,271.5L277.2,271.3L277.5,270.9L277.8,271.7L278.0,271.3L278.3,270.9L278.5,271.4L278.8,271.3L279.1,271.5L279.3,270.8L279.6,271.5L279.8,271.5L280.1,271.4L280.3,271.4L280.6,271.6L280.9,271.4L281.1,271.3L281.4,271.0L281.6,271.6L281.9,271.5L282.2,271.3L282.4,271.3L282.7,271.4L282.9,270.5L283.2,271.3L283.5,270.5L283.7,271.3L284.0,271.5L284.2,271.8L284.5,271.1L284.7,271.3L285.0,271.2L285.3,270.5L285.5,271.4L285.8,271.2L286.0,271.2L286.3,270.9L286.6,271.2L286.8,271.2L287.1,271.6L287.3,271.3L287.6,272.3L287.9,271.1L288.1,271.1L288.4,271.2L288.6,271.0L288.9,271.7L289.1,271.4L289.4,270.8L289.7,271.2L289.9,271.6L290.2,270.8L290.4,271.3L290.7,271.1L291.0,271.9L291.2,271.3L291.5,271.1L291.7,271.0L292.0,271.8L292.3,271.1L292.5,271.9L292.8,270.7L293.0,271.2L293.3,271.1L293.5,271.0L293.8,271.1L294.1,271.4L294.3,271.0L294.6,270.8L294.8,271.6L295.1,271.7L295.4,271.0L295.6,271.3L295.9,270.4L296.1,271.5L296.4,270.8L296.7,271.0L296.9,271.9L297.2,270.8L297.4,271.2L297.7,270.9L297.9,270.7L298.2,270.9L298.5,271.3L298.7,270.8L299.0,271.0L299.2,271.4L299.5,271.2L299.8,270.8L300.0,271.7L300.3,271.3L300.5,271.6L300.8,270.9L301.1,271.7L301.3,270.8L301.6,270.7L301.8,271.1L302.1,271.1L302.3,271.3L302.6,271.0L302.9,271.4L303.1,271.6L303.4,271.0L303.6,270.8L303.9,271.1L304.2,271.5L304.4,271.5L304.7,271.1L304.9,270.9L305.2,271.2L305.5,271.5L305.7,271.0L306.0,271.6L306.2,271.3L306.5,271.3L306.7,271.0L307.0,271.6L307.3,271.2L307.5,270.8L307.8,271.5L308.0,271.1L308.3,271.5L308.6,271.3L308.8,271.0L309.1,271.3L309.3,271.1L309.6,271.0L309.9,271.2L310.1,271.5L310.4,271.2L310.6,271.2L310.9,271.0L311.1,271.4L311.4,271.3L311.7,271.5L311.9,271.3L312.2,271.9L312.4,270.7L312.7,271.2L313.0,271.4L313.2,271.5L313.5,270.7L313.7,270.8L314.0,271.2L314.3,271.5L314.5,271.5L314.8,270.8L315.0,271.3L315.3,271.6L315.5,271.2L315.8,270.9L316.1,271.0L316.3,270.8L316.6,271.6L316.8,271.1L317.1,271.1L317.4,270.9L317.6,271.2L317.9,270.9L318.1,270.9L318.4,271.2L318.7,271.1L318.9,271.4L319.2,271.3L319.4,271.6L319.7,271.2L319.9,271.3L320.2,271.3L320.5,271.0L320.7,271.6L321.0,271.0L321.2,270.7L321.5,271.6L321.8,271.4L322.0,271.0L322.3,271.5L322.5,271.5L322.8,271.4L323.0,270.9L323.3,271.3L323.6,270.9L323.8,271.0L324.1,271.0L324.3,271.0L324.6,271.4L324.9,271.0L325.1,271.4L325.4,271.3L325.6,271.0L325.9,271.3L326.2,271.4L326.4,271.6L326.7,271.1L326.9,271.7L327.2,271.4L327.4,271.6L327.7,270.8L328.0,270.9L328.2,271.6L328.5,271.1L328.7,271.4L329.0,271.6L329.3,270.8L329.5,271.3L329.8,271.8L330.0,271.5L330.3,271.2L330.6,271.4L330.8,271.2L331.1,271.4L331.3,271.6L331.6,271.1L331.8,271.4L332.1,271.3L332.4,271.4L332.6,271.5L332.9,270.9L333.1,271.6L333.4,271.5L333.7,270.9L333.9,271.1L334.2,270.8L334.4,271.1L334.7,271.3L335.0,270.9L335.2,271.0L335.5,270.9L335.7,271.0L336.0,271.0L336.2,270.9L336.5,271.4L336.8,271.1L337.0,271.0L337.3,271.5L337.5,271.0L337.8,271.5L338.1,270.8L338.3,271.6L338.6,271.1L338.8,270.9L339.1,271.3L339.4,270.8L339.6,270.9L339.9,271.3L340.1,271.1L340.4,271.3L340.6,271.3L340.9,271.3L341.2,271.3L341.4,271.4L341.7,271.2L341.9,271.5L342.2,271.5L342.5,270.6L342.7,270.7L343.0,271.7L343.2,271.1L343.5,271.3L343.8,271.2L344.0,271.3L344.3,271.9L344.5,271.0L344.8,271.2L345.0,271.2L345.3,270.9L345.6,270.9L345.8,271.1L346.1,271.2L346.3,271.3L346.6,270.6L346.9,270.7L347.1,271.7L347.4,271.2L347.6,271.5L347.9,271.1L348.2,271.0L348.4,271.8L348.7,270.8L348.9,270.9L349.2,271.4L349.4,271.2L349.7,270.7L350.0,271.3L350.2,271.4L350.5,270.8L350.7,271.0L351.0,271.4L351.3,271.8L351.5,270.5L351.8,271.0L352.0,271.2L352.3,270.9L352.6,270.9L352.8,271.1L353.1,271.4L353.3,270.9L353.6,271.5L353.8,271.5L354.1,271.5L354.4,271.7L354.6,271.1L354.9,271.2L355.1,271.5L355.4,271.6L355.7,271.5L355.9,271.1L356.2,271.1L356.4,270.8L356.7,271.1L357.0,270.9L357.2,271.1L357.5,271.1L357.7,271.5L358.0,271.5L358.2,271.2L358.5,270.9L358.8,271.2L359.0,271.3L359.3,271.5L359.5,271.3L359.8,271.5L360.1,271.0L360.3,271.4L360.6,271.4L360.8,271.1L361.1,271.0L361.4,271.6L361.6,270.9L361.9,271.4L362.1,271.1L362.4,271.1L362.6,271.1L362.9,271.1L363.2,271.2L363.4,271.7L363.7,271.6L363.9,271.2L364.2,271.4L364.5,271.5L364.7,271.1L365.0,271.8L365.2,271.2L365.5,271.4L365.8,270.9L366.0,270.9L366.3,270.9L366.5,271.0L366.8,271.5L367.0,271.1L367.3,271.5L367.6,271.1L367.8,270.9L368.1,271.3L368.3,271.1L368.6,270.7L368.9,271.2L369.1,271.6L369.4,271.1L369.6,270.8L369.9,271.0L370.2,270.8L370.4,271.1L370.7,270.9L370.9,271.2L371.2,271.3L371.4,271.6L371.7,270.9L372.0,270.6L372.2,271.7L372.5,271.3L372.7,271.1L373.0,271.4L373.3,270.9L373.5,271.1L373.8,271.4L374.0,271.1L374.3,271.3L374.6,271.3L374.8,271.2L375.1,271.1L375.3,271.4L375.6,271.6L375.8,271.6L376.1,270.9L376.4,271.4L376.6,270.6L376.9,270.8L377.1,271.3L377.4,271.4L377.7,271.6L377.9,270.7L378.2,271.5L378.4,271.0L378.7,271.1L379.0,271.3L379.2,271.6L379.5,270.9L379.7,270.7L380.0,271.0L380.2,271.2L380.5,271.6L380.8,271.3L381.0,271.1L381.3,271.1L381.5,271.1L381.8,271.5L382.1,270.7L382.3,271.0L382.6,270.9L382.8,271.5L383.1,271.2L383.4,271.0L383.6,271.4L383.9,271.8L384.1,271.5L384.4,270.8L384.6,271.1L384.9,271.6L385.2,270.7L385.4,270.8L385.7,271.1L385.9,271.4L386.2,271.0L386.5,271.3L386.7,271.2L387.0,271.3L387.2,270.8L387.5,270.5L387.8,270.6L388.0,271.3L388.3,271.5L388.5,271.4L388.8,270.7L389.0,270.7L389.3,271.1L389.6,270.9L389.8,270.7L390.1,271.0L390.3,271.0L390.6,271.2L390.9,271.3L391.1,271.3L391.4,271.3L391.6,271.4L391.9,271.2L392.1,271.1L392.4,271.1L392.7,271.6L392.9,271.1L393.2,271.4L393.4,271.7L393.7,271.7L394.0,270.6L394.2,271.3L394.5,271.5L394.7,271.1L395.0,271.0L395.3,270.8L395.5,271.0L395.8,271.2L396.0,270.6L396.3,271.2L396.5,271.0L396.8,271.2L397.1,270.9L397.3,271.2L397.6,271.3L397.8,271.0L398.1,271.0L398.4,271.5L398.6,271.4L398.9,271.0L399.1,271.3L399.4,270.9L399.7,271.0L399.9,270.3L400.2,271.0L400.4,271.4L400.7,271.1L400.9,271.4L401.2,271.0L401.5,271.3L401.7,271.2L402.0,270.9L402.2,271.8L402.5,271.0L402.8,270.8L403.0,271.2L403.3,271.3L403.5,271.3L403.8,271.2L404.1,271.3L404.3,271.5L404.6,271.4L404.8,270.8L405.1,271.7L405.3,271.2L405.6,270.6L405.9,271.5L406.1,271.2L406.4,271.3L406.6,271.8L406.9,271.0L407.2,271.0L407.4,270.9L407.7,271.3L407.9,271.4L408.2,271.3L408.5,271.3L408.7,270.6L409.0,271.3L409.2,271.5L409.5,271.1L409.7,271.0L410.0,270.9L410.3,271.3L410.5,270.7L410.8,271.8L411.0,271.1L411.3,271.0L411.6,270.8L411.8,271.4L412.1,271.5L412.3,271.0L412.6,271.3L412.9,271.3L413.1,271.5L413.4,271.4L413.6,271.6L413.9,270.8L414.1,272.0L414.4,271.1L414.7,270.9L414.9,270.9L415.2,271.3L415.4,271.4L415.7,271.9L416.0,271.6L416.2,271.0L416.5,271.1L416.7,271.1L417.0,271.0L417.3,271.2L417.5,271.0L417.8,271.6L418.0,271.3L418.3,271.4L418.5,271.2L418.8,270.9L419.1,271.3L419.3,271.1L419.6,271.8L419.8,271.6L420.1,270.8L420.4,270.9L420.6,271.0L420.9,271.1L421.1,271.5L421.4,271.2L421.7,271.3L421.9,271.1L422.2,271.1L422.4,271.6L422.7,271.2L422.9,271.8L423.2,271.2L423.5,271.3L423.7,271.3L424.0,271.4L424.2,271.8L424.5,271.0L424.8,271.0L425.0,270.9L425.3,271.7L425.5,271.3L425.8,271.3L426.1,271.3L426.3,270.7L426.6,271.4L426.8,271.2L427.1,271.3L427.3,271.2L427.6,271.2L427.9,271.2L428.1,271.0L428.4,271.1L428.6,271.4L428.9,270.6L429.2,271.5L429.4,271.4L429.7,270.9L429.9,271.4L430.2,271.3L430.5,271.1L430.7,271.7L431.0,271.3L431.2,271.2L431.5,270.8L431.7,271.9L432.0,271.3L432.3,271.3L432.5,271.1L432.8,271.8L433.0,271.2L433.3,271.7L433.6,271.5L433.8,271.5L434.1,271.4L434.3,271.6L434.6,271.2L434.9,270.6L435.1,270.4L435.4,271.5L435.6,270.6L435.9,271.6L436.1,272.1L436.4,270.6L436.7,271.4L436.9,271.3L437.2,271.0L437.4,270.6L437.7,271.2L438.0,271.7L438.2,271.2L438.5,271.2L438.7,271.2L439.0,271.2L439.3,271.3L439.5,271.9L439.8,270.9L440.0,270.7L440.3,271.5L440.5,271.0L440.8,271.1L441.1,270.8L441.3,271.2L441.6,271.1L441.8,271.3L442.1,271.1L442.4,270.8L442.6,271.4L442.9,271.2L443.1,270.6L443.4,271.1L443.7,271.4L443.9,271.2L444.2,271.1L444.4,271.4L444.7,271.0L444.9,271.0L445.2,271.4L445.5,271.2L445.7,271.0L446.0,271.3L446.2,271.3L446.5,271.5L446.8,271.5L447.0,271.2L447.3,271.2L447.5,270.9L447.8,271.3L448.1,271.1L448.3,271.5L448.6,271.4L448.8,271.4L449.1,271.2L449.3,271.3L449.6,271.7L449.9,271.7L450.1,271.0L450.4,270.4L450.6,271.4L450.9,270.7L451.2,271.2L451.4,271.3L451.7,271.7L451.9,271.2L452.2,271.2L452.4,271.0L452.7,271.3L453.0,270.8L453.2,271.4L453.5,271.3L453.7,271.6L454.0,271.1L454.3,271.3L454.5,271.3L454.8,271.2L455.0,270.9L455.3,271.0L455.6,271.2L455.8,271.4L456.1,271.5L456.3,271.0L456.6,271.3L456.8,271.4L457.1,271.5L457.4,271.3L457.6,271.3L457.9,271.1L458.1,271.2L458.4,271.1L458.7,270.7L458.9,271.0" stroke="#1010f0" stroke-width="1.1" fill="none" stroke-linejoin="round"/><path d="M262.2,295.6L262.5,296.1L262.7,295.4L263.0,295.1L263.3,295.7L263.5,295.8L263.8,295.7L264.0,295.8L264.3,295.6L264.6,295.4L264.8,295.4L265.1,295.6L265.3,295.5L265.6,295.9L265.9,295.8L266.1,295.2L266.4,295.8L266.6,295.6L266.9,296.0L267.1,296.1L267.4,295.8L267.7,295.1L267.9,295.8L268.2,295.2L268.4,296.1L268.7,295.4L269.0,295.6L269.2,296.2L269.5,295.1L269.7,295.6L270.0,295.3L270.3,295.5L270.5,295.4L270.8,295.8L271.0,295.5L271.3,295.7L271.5,295.8L271.8,295.1L272.1,296.1L272.3,295.6L272.6,295.1L272.8,295.4L273.1,295.9L273.4,295.9L273.6,295.4L273.9,295.7L274.1,295.7L274.4,295.9L274.7,295.6L274.9,295.9L275.2,295.4L275.4,295.4L275.7,295.8L275.9,295.9L276.2,295.6L276.5,295.8L276.7,295.7L277.0,295.9L277.2,296.0L277.5,295.8L277.8,295.9L278.0,295.5L278.3,295.5L278.5,294.9L278.8,295.8L279.1,295.6L279.3,295.8L279.6,295.1L279.8,295.5L280.1,295.5L280.3,295.1L280.6,295.9L280.9,296.0L281.1,295.2L281.4,295.8L281.6,296.2L281.9,295.3L282.2,295.9L282.4,296.1L282.7,296.2L282.9,295.2L283.2,295.3L283.5,295.7L283.7,296.0L284.0,295.2L284.2,295.4L284.5,295.3L284.7,296.0L285.0,295.5L285.3,295.8L285.5,295.8L285.8,296.0L286.0,295.8L286.3,295.7L286.6,296.0L286.8,295.8L287.1,295.2L287.3,295.5L287.6,295.9L287.9,295.7L288.1,295.5L288.4,295.7L288.6,296.6L288.9,295.6L289.1,295.8L289.4,295.8L289.7,295.5L289.9,296.0L290.2,295.9L290.4,295.8L290.7,295.2L291.0,296.0L291.2,295.9L291.5,295.6L291.7,294.8L292.0,295.6L292.3,295.3L292.5,295.6L292.8,295.5L293.0,295.4L293.3,295.9L293.5,295.7L293.8,296.0L294.1,295.3L294.3,295.6L294.6,296.0L294.8,295.7L295.1,295.4L295.4,295.3L295.6,295.4L295.9,295.6L296.1,295.8L296.4,295.7L296.7,295.8L296.9,295.9L297.2,295.6L297.4,296.0L297.7,295.8L297.9,295.5L298.2,295.5L298.5,295.6L298.7,295.4L299.0,295.2L299.2,295.6L299.5,295.4L299.8,295.7L300.0,295.3L300.3,295.4L300.5,295.4L300.8,295.0L301.1,295.0L301.3,294.4L301.6,294.2L301.8,294.2L302.1,293.8L302.3,293.6L302.6,293.5L302.9,294.2L303.1,294.9L303.4,294.0L303.6,295.2L303.9,295.2L304.2,295.6L304.4,295.8L304.7,295.2L304.9,296.1L305.2,295.4L305.5,295.5L305.7,295.8L306.0,295.6L306.2,295.7L306.5,295.4L306.7,295.3L307.0,295.6L307.3,295.3L307.5,296.0L307.8,295.7L308.0,296.0L308.3,295.2L308.6,295.0L308.8,294.9L309.1,295.5L309.3,295.2L309.6,295.7L309.9,295.2L310.1,295.2L310.4,295.7L310.6,295.5L310.9,295.8L311.1,295.9L311.4,295.7L311.7,295.2L311.9,295.4L312.2,296.3L312.4,295.6L312.7,295.7L313.0,295.7L313.2,295.6L313.5,295.6L313.7,295.5L314.0,295.5L314.3,295.0L314.5,296.1L314.8,295.6L315.0,295.2L315.3,295.8L315.5,295.8L315.8,295.2L316.1,295.5L316.3,296.1L316.6,295.8L316.8,295.8L317.1,295.9L317.4,295.6L317.6,295.5L317.9,296.1L318.1,295.6L318.4,295.6L318.7,295.8L318.9,295.6L319.2,295.2L319.4,296.2L319.7,295.6L319.9,296.2L320.2,295.8L320.5,295.3L320.7,296.1L321.0,295.6L321.2,295.4L321.5,295.6L321.8,295.0L322.0,295.8L322.3,295.4L322.5,295.6L322.8,295.4L323.0,295.8L323.3,295.7L323.6,296.0L323.8,296.1L324.1,295.7L324.3,295.7L324.6,295.7L324.9,295.4L325.1,295.5L325.4,295.9L325.6,295.4L325.9,295.0L326.2,295.5L326.4,295.7L326.7,296.1L326.9,295.4L327.2,295.3L327.4,295.7L327.7,295.6L328.0,295.7L328.2,295.5L328.5,295.7L328.7,295.5L329.0,295.9L329.3,295.7L329.5,295.8L329.8,295.5L330.0,295.2L330.3,295.6L330.6,295.6L330.8,296.0L331.1,295.9L331.3,295.6L331.6,295.6L331.8,295.3L332.1,295.6L332.4,295.7L332.6,295.5L332.9,295.3L333.1,296.0L333.4,295.3L333.7,296.1L333.9,296.0L334.2,296.1L334.4,295.4L334.7,295.8L335.0,295.2L335.2,295.5L335.5,295.2L335.7,295.4L336.0,295.5L336.2,295.9L336.5,296.0L336.8,295.5L337.0,295.5L337.3,295.3L337.5,295.3L337.8,295.1L338.1,295.6L338.3,295.8L338.6,295.4L338.8,295.7L339.1,295.3L339.4,295.3L339.6,295.5L339.9,295.9L340.1,295.5L340.4,295.9L340.6,295.5L340.9,295.3L341.2,295.0L341.4,295.5L341.7,295.3L341.9,295.9L342.2,295.8L342.5,295.1L342.7,295.9L343.0,295.8L343.2,294.7L343.5,295.3L343.8,295.7L344.0,295.1L344.3,295.4L344.5,295.8L344.8,295.7L345.0,295.8L345.3,295.8L345.6,295.4L345.8,296.3L346.1,295.8L346.3,296.3L346.6,295.5L346.9,295.8L347.1,295.7L347.4,295.6L347.6,295.7L347.9,295.7L348.2,295.9L348.4,295.7L348.7,295.6L348.9,295.8L349.2,296.1L349.4,295.6L349.7,295.8L350.0,295.7L350.2,295.0L350.5,295.4L350.7,295.3L351.0,295.2L351.3,295.4L351.5,295.1L351.8,295.7L352.0,295.5L352.3,296.0L352.6,295.7L352.8,295.2L353.1,295.6L353.3,295.6L353.6,295.4L353.8,295.5L354.1,295.3L354.4,295.4L354.6,295.7L354.9,295.5L355.1,296.0L355.4,295.0L355.7,295.4L355.9,295.5L356.2,296.1L356.4,296.0L356.7,295.8L357.0,295.9L357.2,296.1L357.5,295.8L357.7,295.5L358.0,295.7L358.2,295.4L358.5,295.6L358.8,295.7L359.0,295.5L359.3,295.6L359.5,295.5L359.8,295.2L360.1,295.2L360.3,295.8L360.6,295.6L360.8,295.9L361.1,295.6L361.4,295.6L361.6,295.7L361.9,295.5L362.1,296.0L362.4,295.9L362.6,295.7L362.9,295.3L363.2,295.5L363.4,295.7L363.7,296.0L363.9,295.6L364.2,295.6L364.5,295.8L364.7,295.6L365.0,295.6L365.2,295.3L365.5,296.0L365.8,295.6L366.0,295.5L366.3,295.6L366.5,295.2L366.8,295.1L367.0,295.1L367.3,295.7L367.6,295.2L367.8,295.6L368.1,295.3L368.3,295.1L368.6,295.4L368.9,295.4L369.1,295.4L369.4,296.1L369.6,295.7L369.9,295.4L370.2,295.9L370.4,295.5L370.7,296.0L370.9,295.1L371.2,295.9L371.4,295.3L371.7,295.4L372.0,295.7L372.2,295.3L372.5,295.1L372.7,295.5L373.0,295.5L373.3,295.1L373.5,295.9L373.8,295.4L374.0,295.4L374.3,295.5L374.6,295.6L374.8,295.9L375.1,295.0L375.3,295.6L375.6,295.9L375.8,295.7L376.1,295.6L376.4,295.3L376.6,295.7L376.9,295.5L377.1,295.6L377.4,295.3L377.7,295.5L377.9,295.6L378.2,295.2L378.4,295.9L378.7,295.6L379.0,295.2L379.2,295.5L379.5,295.6L379.7,295.5L380.0,295.3L380.2,295.5L380.5,295.2L380.8,295.1L381.0,296.0L381.3,296.1L381.5,296.2L381.8,296.3L382.1,296.0L382.3,295.3L382.6,295.4L382.8,295.9L383.1,295.5L383.4,295.5L383.6,295.6L383.9,295.7L384.1,295.2L384.4,295.6L384.6,295.7L384.9,295.0L385.2,295.9L385.4,295.8L385.7,295.4L385.9,296.1L386.2,295.7L386.5,295.7L386.7,296.1L387.0,294.8L387.2,295.6L387.5,295.9L387.8,296.0L388.0,295.6L388.3,295.5L388.5,295.4L388.8,295.5L389.0,295.3L389.3,294.9L389.6,295.4L389.8,295.3L390.1,295.4L390.3,295.5L390.6,295.5L390.9,295.6L391.1,295.6L391.4,295.5L391.6,295.4L391.9,295.6L392.1,295.5L392.4,295.6L392.7,296.0L392.9,295.7L393.2,295.5L393.4,295.0L393.7,295.2L394.0,294.7L394.2,295.9L394.5,295.9L394.7,295.5L395.0,295.5L395.3,295.7L395.5,295.8L395.8,295.1L396.0,295.5L396.3,295.5L396.5,295.2L396.8,296.0L397.1,295.8L397.3,295.4L397.6,295.6L397.8,295.4L398.1,295.4L398.4,295.5L398.6,295.9L398.9,295.6L399.1,295.5L399.4,295.4L399.7,295.7L399.9,295.3L400.2,295.1L400.4,295.6L400.7,296.1L400.9,295.4L401.2,295.6L401.5,295.5L401.7,296.0L402.0,295.7L402.2,295.2L402.5,296.1L402.8,295.6L403.0,295.3L403.3,295.4L403.5,295.6L403.8,295.9L404.1,295.5L404.3,295.4L404.6,296.0L404.8,296.1L405.1,295.5L405.3,295.6L405.6,295.7L405.9,295.5L406.1,295.3L406.4,295.9L406.6,295.3L406.9,295.0L407.2,295.8L407.4,295.9L407.7,295.8L407.9,295.4L408.2,295.5L408.5,295.3L408.7,295.4L409.0,294.9L409.2,295.3L409.5,296.0L409.7,295.2L410.0,296.1L410.3,295.6L410.5,295.0L410.8,295.9L411.0,295.3L411.3,295.8L411.6,295.5L411.8,295.5L412.1,295.5L412.3,295.2L412.6,295.4L412.9,295.5L413.1,296.1L413.4,295.4L413.6,295.7L413.9,295.7L414.1,296.0L414.4,295.5L414.7,295.6L414.9,295.3L415.2,296.4L415.4,295.1L415.7,295.7L416.0,295.5L416.2,295.6L416.5,295.4L416.7,295.5L417.0,295.9L417.3,295.9L417.5,295.6L417.8,295.5L418.0,295.6L418.3,295.6L418.5,295.7L418.8,295.8L419.1,295.7L419.3,295.1L419.6,295.6L419.8,295.3L420.1,295.7L420.4,295.5L420.6,295.7L420.9,295.5L421.1,295.9L421.4,296.0L421.7,295.6L421.9,295.1L422.2,295.6L422.4,296.2L422.7,295.4L422.9,295.5L423.2,296.3L423.5,296.1L423.7,295.8L424.0,295.6L424.2,295.2L424.5,296.0L424.8,295.8L425.0,295.0L425.3,295.5L425.5,295.5L425.8,295.5L426.1,295.3L426.3,296.2L426.6,295.2L426.8,295.9L427.1,295.6L427.3,295.4L427.6,295.5L427.9,295.6L428.1,295.1L428.4,295.2L428.6,295.6L428.9,295.5L429.2,295.3L429.4,294.7L429.7,294.5L429.9,295.4L430.2,295.3L430.5,295.0L430.7,294.9L431.0,294.6L431.2,294.8L431.5,295.0L431.7,294.8L432.0,294.3L432.3,294.6L432.5,294.3L432.8,294.4L433.0,294.1L433.3,293.7L433.6,294.1L433.8,294.5L434.1,294.3L434.3,294.7L434.6,294.4L434.9,294.7L435.1,294.6L435.4,295.2L435.6,294.7L435.9,294.9L436.1,295.3L436.4,295.5L436.7,294.7L436.9,295.6L437.2,294.9L437.4,295.0L437.7,295.0L438.0,295.6L438.2,295.0L438.5,295.6L438.7,295.5L439.0,295.4L439.3,295.6L439.5,296.1L439.8,296.0L440.0,295.3L440.3,295.6L440.5,295.4L440.8,295.5L441.1,295.4L441.3,295.7L441.6,295.3L441.8,295.2L442.1,295.6L442.4,295.7L442.6,295.9L442.9,295.8L443.1,295.3L443.4,295.3L443.7,295.7L443.9,295.7L444.2,295.8L444.4,296.0L444.7,294.9L444.9,295.4L445.2,295.7L445.5,295.3L445.7,296.1L446.0,295.6L446.2,295.8L446.5,295.5L446.8,295.7L447.0,295.7L447.3,295.8L447.5,295.2L447.8,295.0L448.1,295.6L448.3,295.8L448.6,295.5L448.8,295.5L449.1,295.9L449.3,295.8L449.6,295.3L449.9,295.6L450.1,295.5L450.4,295.6L450.6,295.6L450.9,295.8L451.2,295.6L451.4,295.7L451.7,295.6L451.9,295.5L452.2,295.4L452.4,295.7L452.7,295.7L453.0,296.1L453.2,296.3L453.5,295.4L453.7,295.4L454.0,295.9L454.3,295.5L454.5,295.6L454.8,295.2L455.0,295.8L455.3,295.2L455.6,295.9L455.8,295.4L456.1,295.7L456.3,295.9L456.6,295.4L456.8,295.6L457.1,296.2L457.4,295.2L457.6,295.6L457.9,295.0L458.1,295.7L458.4,295.6L458.7,295.3L458.9,295.3" stroke="#ff1010" stroke-width="1.1" fill="none" stroke-linejoin="round"/><path d="M262.2,320.6L262.5,320.5L262.7,319.8L263.0,319.6L263.3,320.2L263.5,320.4L263.8,320.2L264.0,319.8L264.3,320.1L264.6,320.6L264.8,319.8L265.1,320.5L265.3,320.4L265.6,320.3L265.9,320.4L266.1,320.0L266.4,320.2L266.6,320.7L266.9,320.1L267.1,320.1L267.4,319.8L267.7,320.1L267.9,320.4L268.2,320.6L268.4,320.4L268.7,320.4L269.0,320.4L269.2,320.3L269.5,320.5L269.7,320.2L270.0,320.5L270.3,320.2L270.5,319.7L270.8,319.8L271.0,320.1L271.3,320.1L271.5,319.8L271.8,320.0L272.1,320.3L272.3,320.3L272.6,320.5L272.8,319.9L273.1,320.3L273.4,320.5L273.6,320.3L273.9,320.7L274.1,320.1L274.4,320.2L274.7,320.3L274.9,320.1L275.2,320.2L275.4,320.3L275.7,320.2L275.9,320.1L276.2,320.1L276.5,320.2L276.7,319.7L277.0,320.3L277.2,319.9L277.5,320.1L277.8,319.9L278.0,320.2L278.3,320.1L278.5,320.1L278.8,320.0L279.1,320.2L279.3,320.7L279.6,319.7L279.8,320.4L280.1,320.3L280.3,320.1L280.6,319.8L280.9,320.7L281.1,320.3L281.4,320.5L281.6,320.1L281.9,320.0L282.2,320.5L282.4,320.4L282.7,320.1L282.9,320.1L283.2,320.4L283.5,320.0L283.7,320.0L284.0,320.2L284.2,320.5L284.5,320.5L284.7,320.3L285.0,320.6L285.3,320.2L285.5,320.1L285.8,320.9L286.0,320.1L286.3,320.4L286.6,320.4L286.8,320.2L287.1,320.3L287.3,320.4L287.6,320.4L287.9,320.0L288.1,320.2L288.4,320.6L288.6,320.4L288.9,320.1L289.1,320.2L289.4,319.9L289.7,319.8L289.9,320.0L290.2,320.7L290.4,320.0L290.7,319.6L291.0,320.2L291.2,320.0L291.5,320.4L291.7,320.6L292.0,320.1L292.3,320.2L292.5,319.9L292.8,320.6L293.0,320.0L293.3,320.2L293.5,320.9L293.8,319.9L294.1,320.3L294.3,320.2L294.6,320.3L294.8,320.3L295.1,320.6L295.4,320.3L295.6,320.4L295.9,319.8L296.1,320.3L296.4,319.8L296.7,320.6L296.9,320.2L297.2,320.5L297.4,320.1L297.7,320.3L297.9,320.2L298.2,320.4L298.5,320.2L298.7,320.0L299.0,320.1L299.2,320.0L299.5,319.9L299.8,319.9L300.0,319.8L300.3,320.8L300.5,320.0L300.8,319.9L301.1,320.5L301.3,320.3L301.6,320.2L301.8,320.5L302.1,320.7L302.3,320.0L302.6,320.6L302.9,320.4L303.1,320.5L303.4,320.0L303.6,320.7L303.9,320.5L304.2,319.4L304.4,320.6L304.7,320.6L304.9,319.8L305.2,320.3L305.5,320.2L305.7,320.3L306.0,320.0L306.2,320.4L306.5,320.4L306.7,320.2L307.0,320.2L307.3,319.7L307.5,320.4L307.8,319.8L308.0,320.2L308.3,320.0L308.6,321.0L308.8,320.2L309.1,320.7L309.3,320.2L309.6,320.2L309.9,320.4L310.1,320.2L310.4,320.9L310.6,320.2L310.9,320.7L311.1,319.9L311.4,319.9L311.7,320.4L311.9,319.8L312.2,320.8L312.4,320.4L312.7,320.2L313.0,320.7L313.2,320.1L313.5,320.0L313.7,319.4L314.0,319.6L314.3,320.1L314.5,319.6L314.8,320.4L315.0,320.5L315.3,320.3L315.5,319.7L315.8,320.0L316.1,319.8L316.3,320.4L316.6,320.5L316.8,320.1L317.1,320.2L317.4,320.3L317.6,320.4L317.9,319.9L318.1,319.9L318.4,320.4L318.7,320.4L318.9,320.3L319.2,320.2L319.4,320.4L319.7,320.3L319.9,320.0L320.2,320.7L320.5,320.5L320.7,320.1L321.0,320.2L321.2,320.0L321.5,319.8L321.8,319.9L322.0,319.8L322.3,320.0L322.5,320.3L322.8,320.2L323.0,319.8L323.3,320.1L323.6,320.0L323.8,319.9L324.1,320.5L324.3,319.9L324.6,320.5L324.9,319.7L325.1,320.3L325.4,320.0L325.6,320.5L325.9,320.3L326.2,320.0L326.4,320.4L326.7,320.6L326.9,320.6L327.2,320.6L327.4,320.1L327.7,320.8L328.0,320.0L328.2,320.2L328.5,319.7L328.7,320.1L329.0,319.8L329.3,320.2L329.5,319.7L329.8,320.8L330.0,320.4L330.3,320.7L330.6,320.6L330.8,320.3L331.1,320.3L331.3,320.3L331.6,319.6L331.8,319.9L332.1,320.1L332.4,320.5L332.6,319.8L332.9,320.3L333.1,320.0L333.4,320.4L333.7,320.4L333.9,319.9L334.2,319.9L334.4,320.6L334.7,320.5L335.0,320.2L335.2,320.5L335.5,320.2L335.7,320.3L336.0,320.1L336.2,320.4L336.5,320.7L336.8,320.6L337.0,320.6L337.3,320.2L337.5,320.5L337.8,320.1L338.1,320.1L338.3,320.3L338.6,319.9L338.8,320.3L339.1,319.7L339.4,320.7L339.6,320.5L339.9,320.3L340.1,320.0L340.4,320.0L340.6,320.1L340.9,319.7L341.2,320.1L341.4,319.9L341.7,320.5L341.9,320.6L342.2,320.6L342.5,319.8L342.7,319.8L343.0,320.6L343.2,320.4L343.5,320.5L343.8,320.4L344.0,320.3L344.3,320.8L344.5,320.5L344.8,320.4L345.0,319.9L345.3,320.3L345.6,320.6L345.8,320.4L346.1,320.5L346.3,320.2L346.6,320.4L346.9,320.0L347.1,320.2L347.4,320.5L347.6,320.7L347.9,320.1L348.2,320.1L348.4,320.1L348.7,320.2L348.9,320.2L349.2,320.5L349.4,320.3L349.7,320.2L350.0,320.3L350.2,319.7L350.5,320.2L350.7,320.8L351.0,319.9L351.3,320.0L351.5,320.3L351.8,320.5L352.0,320.1L352.3,319.9L352.6,320.7L352.8,319.5L353.1,319.9L353.3,320.0L353.6,319.5L353.8,320.6L354.1,320.8L354.4,319.8L354.6,320.1L354.9,320.1L355.1,320.4L355.4,320.1L355.7,320.4L355.9,320.3L356.2,320.2L356.4,320.2L356.7,320.6L357.0,320.3L357.2,320.4L357.5,320.2L357.7,320.4L358.0,320.7L358.2,320.2L358.5,320.1L358.8,320.0L359.0,320.5L359.3,320.0L359.5,320.3L359.8,321.0L360.1,320.3L360.3,320.7L360.6,320.2L360.8,320.2L361.1,320.4L361.4,319.9L361.6,319.5L361.9,320.2L362.1,320.0L362.4,320.3L362.6,320.8L362.9,320.4L363.2,319.7L363.4,320.3L363.7,319.7L363.9,319.6L364.2,320.8L364.5,319.9L364.7,319.5L365.0,320.2L365.2,320.1L365.5,320.3L365.8,320.2L366.0,320.1L366.3,320.5L366.5,320.2L366.8,320.0L367.0,320.3L367.3,320.0L367.6,320.5L367.8,320.2L368.1,320.2L368.3,320.1L368.6,320.4L368.9,320.5L369.1,320.1L369.4,319.5L369.6,320.4L369.9,320.0L370.2,320.4L370.4,320.0L370.7,320.3L370.9,320.1L371.2,320.0L371.4,319.8L371.7,320.2L372.0,320.3L372.2,319.7L372.5,319.5L372.7,320.3L373.0,320.9L373.3,320.0L373.5,320.1L373.8,319.9L374.0,319.8L374.3,320.7L374.6,319.7L374.8,320.3L375.1,320.0L375.3,320.4L375.6,320.7L375.8,320.3L376.1,320.1L376.4,320.5L376.6,320.1L376.9,319.6L377.1,320.6L377.4,320.0L377.7,320.3L377.9,320.9L378.2,320.5L378.4,320.3L378.7,320.7L379.0,319.9L379.2,319.7L379.5,319.9L379.7,320.2L380.0,320.3L380.2,320.0L380.5,320.9L380.8,320.5L381.0,320.3L381.3,320.0L381.5,320.2L381.8,320.3L382.1,320.1L382.3,321.1L382.6,320.7L382.8,320.4L383.1,320.2L383.4,319.7L383.6,320.5L383.9,320.0L384.1,320.5L384.4,320.3L384.6,319.8L384.9,320.2L385.2,320.2L385.4,320.1L385.7,320.2L385.9,320.2L386.2,320.1L386.5,320.5L386.7,320.4L387.0,320.2L387.2,320.2L387.5,320.1L387.8,320.1L388.0,320.2L388.3,320.3L388.5,320.1L388.8,319.6L389.0,320.2L389.3,319.9L389.6,320.2L389.8,321.0L390.1,320.5L390.3,319.5L390.6,319.7L390.9,320.5L391.1,320.0L391.4,319.7L391.6,319.7L391.9,320.2L392.1,320.0L392.4,320.2L392.7,320.1L392.9,320.2L393.2,320.1L393.4,320.0L393.7,320.4L394.0,320.7L394.2,319.9L394.5,320.2L394.7,320.8L395.0,319.9L395.3,319.9L395.5,320.4L395.8,320.5L396.0,320.2L396.3,320.6L396.5,320.2L396.8,320.3L397.1,320.2L397.3,320.3L397.6,320.2L397.8,320.6L398.1,320.4L398.4,320.7L398.6,320.2L398.9,320.0L399.1,320.0L399.4,320.1L399.7,320.3L399.9,320.1L400.2,320.3L400.4,320.3L400.7,319.9L400.9,319.8L401.2,320.6L401.5,320.0L401.7,320.8L402.0,320.1L402.2,319.8L402.5,319.8L402.8,320.0L403.0,321.0L403.3,319.6L403.5,319.5L403.8,319.9L404.1,320.2L404.3,320.9L404.6,320.5L404.8,319.9L405.1,320.7L405.3,320.6L405.6,320.0L405.9,320.4L406.1,320.3L406.4,320.2L406.6,320.1L406.9,320.0L407.2,320.3L407.4,320.0L407.7,320.5L407.9,320.4L408.2,319.7L408.5,320.3L408.7,320.2L409.0,320.4L409.2,320.1L409.5,320.6L409.7,320.5L410.0,320.5L410.3,320.4L410.5,319.8L410.8,320.2L411.0,320.5L411.3,320.5L411.6,320.4L411.8,320.2L412.1,320.2L412.3,319.8L412.6,319.7L412.9,320.2L413.1,320.5L413.4,320.1L413.6,320.0L413.9,320.1L414.1,320.6L414.4,320.0L414.7,320.2L414.9,320.3L415.2,320.5L415.4,320.3L415.7,320.1L416.0,320.1L416.2,319.9L416.5,320.1L416.7,320.5L417.0,320.3L417.3,320.1L417.5,319.9L417.8,320.1L418.0,320.4L418.3,320.4L418.5,320.3L418.8,320.5L419.1,320.6L419.3,320.3L419.6,320.4L419.8,319.6L420.1,320.4L420.4,320.1L420.6,320.3L420.9,319.9L421.1,320.1L421.4,319.9L421.7,320.2L421.9,319.9L422.2,320.5L422.4,320.1L422.7,320.3L422.9,320.0L423.2,320.2L423.5,320.0L423.7,320.0L424.0,320.4L424.2,320.0L424.5,319.9L424.8,320.1L425.0,320.9L425.3,320.5L425.5,320.3L425.8,320.3L426.1,320.3L426.3,320.3L426.6,320.9L426.8,320.7L427.1,320.3L427.3,319.7L427.6,319.9L427.9,320.3L428.1,320.1L428.4,320.3L428.6,320.1L428.9,320.4L429.2,320.4L429.4,320.1L429.7,319.8L429.9,320.1L430.2,320.0L430.5,319.9L430.7,320.2L431.0,320.6L431.2,320.1L431.5,320.1L431.7,319.9L432.0,320.3L432.3,320.3L432.5,320.3L432.8,320.7L433.0,320.3L433.3,320.5L433.6,320.1L433.8,320.3L434.1,320.0L434.3,320.5L434.6,320.7L434.9,319.9L435.1,320.0L435.4,320.3L435.6,320.2L435.9,320.5L436.1,319.4L436.4,320.0L436.7,320.4L436.9,320.3L437.2,319.9L437.4,320.4L437.7,320.3L438.0,320.2L438.2,320.1L438.5,320.2L438.7,320.4L439.0,319.8L439.3,319.2L439.5,320.4L439.8,319.5L440.0,320.3L440.3,320.2L440.5,320.3L440.8,319.9L441.1,320.4L441.3,320.1L441.6,320.1L441.8,320.1L442.1,320.0L442.4,320.7L442.6,320.0L442.9,320.2L443.1,320.1L443.4,320.3L443.7,320.2L443.9,320.1L444.2,320.2L444.4,320.3L444.7,320.3L444.9,320.5L445.2,320.2L445.5,320.2L445.7,320.4L446.0,320.2L446.2,320.3L446.5,320.4L446.8,319.5L447.0,320.2L447.3,320.1L447.5,319.7L447.8,319.8L448.1,319.8L448.3,320.5L448.6,320.6L448.8,320.2L449.1,320.2L449.3,319.9L449.6,320.8L449.9,320.7L450.1,320.3L450.4,320.0L450.6,320.2L450.9,320.0L451.2,319.8L451.4,319.9L451.7,319.9L451.9,320.0L452.2,320.3L452.4,319.9L452.7,320.4L453.0,320.3L453.2,320.5L453.5,320.6L453.7,320.9L454.0,320.5L454.3,320.1L454.5,320.1L454.8,321.1L455.0,319.9L455.3,320.2L455.6,320.6L455.8,320.2L456.1,320.4L456.3,320.8L456.6,320.5L456.8,320.2L457.1,320.4L457.4,320.3L457.6,320.4L457.9,320.4L458.1,320.1L458.4,320.2L458.7,320.3L458.9,320.2" stroke="#111111" stroke-width="1.1" fill="none" stroke-linejoin="round"/><text x="354.60" y="242.90" font-size="16" fill="#c82cc8" stroke="#c82cc8" stroke-width="0.25">(4)</text><text x="354.60" y="267.10" font-size="16" fill="#1822b0" stroke="#1822b0" stroke-width="0.25">(3)</text><text x="354.60" y="291.90" font-size="16" fill="#e81c1c" stroke="#e81c1c" stroke-width="0.25">(2)</text><text x="354.60" y="318.10" font-size="16" fill="#111111" stroke="#111111" stroke-width="0.25">(1)</text><rect x="498.2" y="182.6" width="207.00000000000006" height="154.50000000000003" fill="none" stroke="#555555" stroke-width="1.2"/><line x1="504.66" y1="337.1" x2="504.66" y2="335.3" stroke="#555555" stroke-width="1"/><line x1="517.58" y1="337.1" x2="517.58" y2="335.3" stroke="#555555" stroke-width="1"/><line x1="530.50" y1="337.1" x2="530.50" y2="333.90000000000003" stroke="#555555" stroke-width="1"/><text x="530.50" y="351.5" font-size="14.2" fill="#111" stroke="#111" stroke-width="0.25" text-anchor="middle" textLength="26.6" lengthAdjust="spacingAndGlyphs">1500</text><line x1="543.42" y1="337.1" x2="543.42" y2="335.3" stroke="#555555" stroke-width="1"/><line x1="556.34" y1="337.1" x2="556.34" y2="335.3" stroke="#555555" stroke-width="1"/><line x1="569.26" y1="337.1" x2="569.26" y2="335.3" stroke="#555555" stroke-width="1"/><line x1="582.18" y1="337.1" x2="582.18" y2="335.3" stroke="#555555" stroke-width="1"/><line x1="595.10" y1="337.1" x2="595.10" y2="333.90000000000003" stroke="#555555" stroke-width="1"/><text x="595.10" y="351.5" font-size="14.2" fill="#111" stroke="#111" stroke-width="0.25" text-anchor="middle" textLength="26.6" lengthAdjust="spacingAndGlyphs">2000</text><line x1="608.02" y1="337.1" x2="608.02" y2="335.3" stroke="#555555" stroke-width="1"/><line x1="620.94" y1="337.1" x2="620.94" y2="335.3" stroke="#555555" stroke-width="1"/><line x1="633.86" y1="337.1" x2="633.86" y2="335.3" stroke="#555555" stroke-width="1"/><line x1="646.78" y1="337.1" x2="646.78" y2="335.3" stroke="#555555" stroke-width="1"/><line x1="659.70" y1="337.1" x2="659.70" y2="333.90000000000003" stroke="#555555" stroke-width="1"/><text x="659.70" y="351.5" font-size="14.2" fill="#111" stroke="#111" stroke-width="0.25" text-anchor="middle" textLength="26.6" lengthAdjust="spacingAndGlyphs">2500</text><line x1="672.62" y1="337.1" x2="672.62" y2="335.3" stroke="#555555" stroke-width="1"/><line x1="685.54" y1="337.1" x2="685.54" y2="335.3" stroke="#555555" stroke-width="1"/><line x1="698.46" y1="337.1" x2="698.46" y2="335.3" stroke="#555555" stroke-width="1"/><line x1="498.2" y1="190.40" x2="500.2" y2="190.40" stroke="#555555" stroke-width="1"/><line x1="498.2" y1="198.50" x2="501.5" y2="198.50" stroke="#555555" stroke-width="1"/><line x1="498.2" y1="206.60" x2="500.2" y2="206.60" stroke="#555555" stroke-width="1"/><line x1="498.2" y1="214.70" x2="501.5" y2="214.70" stroke="#555555" stroke-width="1"/><line x1="498.2" y1="222.80" x2="500.2" y2="222.80" stroke="#555555" stroke-width="1"/><line x1="498.2" y1="230.90" x2="501.5" y2="230.90" stroke="#555555" stroke-width="1"/><line x1="498.2" y1="239.00" x2="500.2" y2="239.00" stroke="#555555" stroke-width="1"/><line x1="498.2" y1="247.10" x2="501.5" y2="247.10" stroke="#555555" stroke-width="1"/><line x1="498.2" y1="255.20" x2="500.2" y2="255.20" stroke="#555555" stroke-width="1"/><line x1="498.2" y1="263.30" x2="501.5" y2="263.30" stroke="#555555" stroke-width="1"/><line x1="498.2" y1="271.40" x2="500.2" y2="271.40" stroke="#555555" stroke-width="1"/><line x1="498.2" y1="279.50" x2="501.5" y2="279.50" stroke="#555555" stroke-width="1"/><line x1="498.2" y1="287.60" x2="500.2" y2="287.60" stroke="#555555" stroke-width="1"/><line x1="498.2" y1="295.70" x2="501.5" y2="295.70" stroke="#555555" stroke-width="1"/><line x1="498.2" y1="303.80" x2="500.2" y2="303.80" stroke="#555555" stroke-width="1"/><line x1="498.2" y1="311.90" x2="501.5" y2="311.90" stroke="#555555" stroke-width="1"/><line x1="498.2" y1="320.00" x2="500.2" y2="320.00" stroke="#555555" stroke-width="1"/><line x1="498.2" y1="328.10" x2="501.5" y2="328.10" stroke="#555555" stroke-width="1"/><line x1="498.2" y1="336.20" x2="500.2" y2="336.20" stroke="#555555" stroke-width="1"/><text transform="translate(489.8,315.4) rotate(-90)" x="0" y="0" font-size="15" fill="#111" stroke="#111" stroke-width="0.25" textLength="111.6" lengthAdjust="spacingAndGlyphs">Intensity (arb.unit)</text><text x="548.9" y="367.6" font-size="14.6" fill="#111" stroke="#111" stroke-width="0.25" textLength="105.8" lengthAdjust="spacingAndGlyphs">Raman shift cm<tspan dy="-5" font-size="9">-1</tspan><tspan dy="5">)</tspan></text><text x="504.6" y="234.0" font-size="15" fill="#111" stroke="#111" stroke-width="0.25" text-anchor="start" >D</text><text x="536.0" y="222.0" font-size="15" fill="#111" stroke="#111" stroke-width="0.25" text-anchor="start" >G</text><text x="671.0" y="195.5" font-size="14.3" fill="#111" stroke="#111" stroke-width="0.25" text-anchor="start" >2D</text><path d="M502.1,250.6L502.3,250.7L502.6,250.1L502.9,250.1L503.1,250.4L503.4,250.8L503.6,250.4L503.9,249.9L504.1,250.0L504.4,250.2L504.7,250.5L504.9,250.2L505.2,250.0L505.4,250.0L505.7,250.0L506.0,249.6L506.2,249.7L506.5,249.6L506.7,249.8L507.0,249.0L507.2,248.9L507.5,247.8L507.8,247.8L508.0,247.0L508.3,246.2L508.5,245.7L508.8,245.3L509.1,244.3L509.3,244.2L509.6,244.1L509.8,244.0L510.1,244.1L510.3,243.6L510.6,244.5L510.9,244.8L511.1,246.0L511.4,246.4L511.6,247.1L511.9,247.7L512.2,247.9L512.4,248.6L512.7,248.8L512.9,249.9L513.2,249.4L513.4,249.7L513.7,249.3L514.0,249.5L514.2,249.8L514.5,250.4L514.7,250.4L515.0,250.3L515.3,250.0L515.5,250.8L515.8,250.0L516.0,250.0L516.3,250.5L516.5,250.0L516.8,250.4L517.1,250.6L517.3,250.3L517.6,250.5L517.8,250.4L518.1,250.2L518.4,249.4L518.6,250.0L518.9,250.4L519.1,249.9L519.4,250.2L519.6,250.5L519.9,250.8L520.2,250.0L520.4,250.3L520.7,250.5L520.9,250.6L521.2,250.0L521.5,251.0L521.7,250.2L522.0,250.7L522.2,250.4L522.5,250.5L522.7,250.9L523.0,250.6L523.3,250.5L523.5,250.1L523.8,250.2L524.0,250.0L524.3,251.0L524.6,250.0L524.8,249.7L525.1,250.9L525.3,250.8L525.6,250.3L525.8,250.7L526.1,250.2L526.4,250.3L526.6,250.6L526.9,250.5L527.1,250.3L527.4,250.9L527.7,250.6L527.9,250.5L528.2,250.1L528.4,250.5L528.7,250.3L528.9,250.4L529.2,250.7L529.5,250.2L529.7,250.5L530.0,250.6L530.2,250.5L530.5,251.1L530.8,249.9L531.0,250.4L531.3,250.0L531.5,250.4L531.8,251.1L532.1,249.9L532.3,250.3L532.6,250.6L532.8,250.4L533.1,250.6L533.3,249.9L533.6,250.6L533.9,250.0L534.1,249.9L534.4,250.5L534.6,250.4L534.9,250.1L535.2,250.0L535.4,250.2L535.7,250.2L535.9,250.1L536.2,249.9L536.4,249.4L536.7,250.5L537.0,250.1L537.2,249.6L537.5,249.5L537.7,249.7L538.0,249.7L538.3,249.1L538.5,250.0L538.8,249.6L539.0,249.1L539.3,249.0L539.5,248.3L539.8,247.6L540.1,245.8L540.3,243.9L540.6,240.8L540.8,236.1L541.1,231.4L541.4,226.6L541.6,223.3L541.9,221.7L542.1,223.3L542.4,227.0L542.6,231.7L542.9,235.8L543.2,240.6L543.4,243.3L543.7,245.7L543.9,247.0L544.2,247.4L544.5,248.6L544.7,248.2L545.0,249.0L545.2,248.6L545.5,249.0L545.7,248.6L546.0,248.6L546.3,249.0L546.5,248.8L546.8,249.5L547.0,249.3L547.3,249.7L547.6,249.6L547.8,250.1L548.1,250.3L548.3,250.0L548.6,249.8L548.8,250.2L549.1,250.4L549.4,250.2L549.6,250.0L549.9,250.1L550.1,250.2L550.4,249.5L550.7,250.2L550.9,250.8L551.2,250.0L551.4,250.3L551.7,250.9L551.9,250.6L552.2,250.7L552.5,250.3L552.7,250.0L553.0,251.3L553.2,250.5L553.5,250.5L553.8,250.9L554.0,250.7L554.3,250.4L554.5,250.1L554.8,250.4L555.0,250.4L555.3,250.2L555.6,250.2L555.8,250.1L556.1,250.4L556.3,250.3L556.6,250.6L556.9,250.7L557.1,250.5L557.4,250.4L557.6,250.9L557.9,250.6L558.1,250.0L558.4,250.2L558.7,250.5L558.9,250.2L559.2,250.7L559.4,249.9L559.7,249.9L560.0,250.7L560.2,250.6L560.5,250.0L560.7,250.5L561.0,250.9L561.2,250.1L561.5,250.1L561.8,250.1L562.0,250.2L562.3,249.9L562.5,250.3L562.8,250.0L563.1,250.5L563.3,251.1L563.6,250.1L563.8,250.7L564.1,250.8L564.4,249.8L564.6,250.5L564.9,250.5L565.1,250.4L565.4,250.7L565.6,250.3L565.9,250.6L566.2,250.4L566.4,250.4L566.7,250.2L566.9,251.1L567.2,250.5L567.5,250.1L567.7,251.1L568.0,250.9L568.2,250.4L568.5,250.3L568.7,250.3L569.0,250.8L569.3,250.4L569.5,250.3L569.8,250.7L570.0,250.4L570.3,250.5L570.6,251.1L570.8,250.7L571.1,250.8L571.3,250.6L571.6,250.9L571.8,250.4L572.1,250.8L572.4,250.8L572.6,250.4L572.9,250.1L573.1,250.6L573.4,250.4L573.7,250.7L573.9,250.3L574.2,250.6L574.4,250.8L574.7,251.2L574.9,251.0L575.2,250.6L575.5,250.9L575.7,250.3L576.0,250.8L576.2,250.5L576.5,250.9L576.8,250.6L577.0,250.4L577.3,250.3L577.5,250.9L577.8,250.5L578.0,250.7L578.3,250.6L578.6,249.9L578.8,250.7L579.1,250.4L579.3,250.6L579.6,250.6L579.9,249.9L580.1,250.4L580.4,250.5L580.6,250.6L580.9,250.8L581.1,250.3L581.4,250.4L581.7,250.7L581.9,249.9L582.2,251.0L582.4,250.2L582.7,250.9L583.0,250.5L583.2,251.0L583.5,250.8L583.7,250.5L584.0,250.0L584.2,250.5L584.5,250.6L584.8,250.6L585.0,250.1L585.3,250.2L585.5,250.2L585.8,250.6L586.1,250.2L586.3,250.4L586.6,250.8L586.8,250.4L587.1,250.9L587.3,250.6L587.6,250.4L587.9,250.8L588.1,250.6L588.4,250.4L588.6,250.3L588.9,250.5L589.2,250.6L589.4,250.8L589.7,250.6L589.9,250.3L590.2,250.1L590.4,250.6L590.7,250.6L591.0,250.8L591.2,250.3L591.5,250.1L591.7,250.7L592.0,250.4L592.3,250.1L592.5,251.0L592.8,250.7L593.0,250.5L593.3,250.6L593.5,250.3L593.8,250.8L594.1,250.3L594.3,250.3L594.6,250.4L594.8,250.1L595.1,250.8L595.4,251.0L595.6,250.7L595.9,249.9L596.1,250.4L596.4,250.3L596.7,250.6L596.9,249.8L597.2,249.8L597.4,250.3L597.7,250.8L597.9,250.4L598.2,251.1L598.5,250.2L598.7,250.5L599.0,250.4L599.2,250.2L599.5,250.8L599.8,250.1L600.0,250.2L600.3,250.4L600.5,250.3L600.8,250.8L601.0,250.3L601.3,250.6L601.6,250.3L601.8,250.9L602.1,250.5L602.3,250.5L602.6,250.0L602.9,250.7L603.1,250.3L603.4,250.7L603.6,250.6L603.9,250.6L604.1,250.8L604.4,250.6L604.7,250.2L604.9,250.5L605.2,250.5L605.4,250.1L605.7,250.7L606.0,250.9L606.2,250.5L606.5,250.5L606.7,250.6L607.0,250.8L607.2,250.3L607.5,250.8L607.8,250.2L608.0,250.6L608.3,250.6L608.5,250.1L608.8,250.7L609.1,250.5L609.3,250.0L609.6,250.3L609.8,250.3L610.1,250.2L610.3,250.6L610.6,250.2L610.9,250.5L611.1,250.1L611.4,250.4L611.6,251.0L611.9,250.6L612.2,250.0L612.4,250.2L612.7,250.4L612.9,250.0L613.2,250.8L613.4,250.5L613.7,250.4L614.0,250.5L614.2,250.3L614.5,250.1L614.7,249.5L615.0,250.0L615.3,250.5L615.5,250.7L615.8,250.4L616.0,249.9L616.3,250.4L616.5,250.5L616.8,250.1L617.1,250.9L617.3,250.1L617.6,250.5L617.8,250.1L618.1,250.7L618.4,250.1L618.6,250.2L618.9,250.8L619.1,250.1L619.4,250.3L619.6,250.6L619.9,250.6L620.2,249.9L620.4,250.6L620.7,250.4L620.9,250.8L621.2,249.9L621.5,250.7L621.7,250.6L622.0,250.3L622.2,250.3L622.5,250.6L622.7,250.2L623.0,250.3L623.3,250.2L623.5,250.5L623.8,250.6L624.0,250.0L624.3,250.5L624.6,250.5L624.8,250.9L625.1,250.2L625.3,250.8L625.6,250.3L625.8,250.6L626.1,250.5L626.4,250.5L626.6,250.3L626.9,250.1L627.1,250.9L627.4,250.9L627.7,250.4L627.9,250.4L628.2,250.4L628.4,250.0L628.7,250.1L629.0,250.6L629.2,250.7L629.5,250.4L629.7,250.2L630.0,250.1L630.2,250.2L630.5,250.6L630.8,250.4L631.0,250.0L631.3,250.1L631.5,250.5L631.8,250.5L632.1,250.9L632.3,250.9L632.6,250.5L632.8,250.2L633.1,250.5L633.3,250.1L633.6,250.2L633.9,250.7L634.1,250.6L634.4,250.7L634.6,250.9L634.9,250.3L635.2,250.7L635.4,250.4L635.7,250.5L635.9,250.5L636.2,250.6L636.4,250.0L636.7,250.0L637.0,250.4L637.2,250.5L637.5,250.3L637.7,250.4L638.0,250.0L638.3,250.7L638.5,250.5L638.8,250.8L639.0,250.3L639.3,250.4L639.5,250.4L639.8,250.8L640.1,250.5L640.3,250.5L640.6,249.9L640.8,250.1L641.1,249.9L641.4,250.3L641.6,250.6L641.9,250.4L642.1,250.1L642.4,251.0L642.6,250.0L642.9,250.8L643.2,250.7L643.4,250.4L643.7,250.7L643.9,250.0L644.2,250.2L644.5,250.2L644.7,250.4L645.0,250.2L645.2,250.8L645.5,250.2L645.7,250.2L646.0,249.9L646.3,250.4L646.5,250.5L646.8,250.0L647.0,249.8L647.3,249.7L647.6,250.5L647.8,250.3L648.1,250.1L648.3,250.2L648.6,250.1L648.8,250.0L649.1,249.3L649.4,249.9L649.6,249.9L649.9,249.9L650.1,249.7L650.4,249.2L650.7,249.3L650.9,248.7L651.2,249.5L651.4,248.5L651.7,249.0L651.9,248.5L652.2,248.4L652.5,248.3L652.7,248.4L653.0,248.5L653.2,248.7L653.5,248.2L653.8,248.6L654.0,248.6L654.3,249.0L654.5,248.3L654.8,248.6L655.0,248.8L655.3,248.7L655.6,249.0L655.8,248.7L656.1,248.9L656.3,248.9L656.6,249.0L656.9,249.0L657.1,249.3L657.4,249.1L657.6,249.4L657.9,249.8L658.1,249.2L658.4,249.4L658.7,249.7L658.9,249.5L659.2,249.6L659.4,250.5L659.7,250.1L660.0,249.9L660.2,249.8L660.5,249.6L660.7,249.7L661.0,249.4L661.3,250.2L661.5,249.9L661.8,250.3L662.0,250.1L662.3,249.5L662.5,250.6L662.8,250.2L663.1,250.3L663.3,249.9L663.6,249.9L663.8,250.0L664.1,250.6L664.4,249.6L664.6,249.7L664.9,250.2L665.1,249.4L665.4,250.4L665.6,249.6L665.9,250.3L666.2,249.9L666.4,249.8L666.7,249.6L666.9,250.3L667.2,249.8L667.5,249.5L667.7,250.0L668.0,249.8L668.2,250.0L668.5,249.7L668.7,249.9L669.0,249.9L669.3,249.7L669.5,249.2L669.8,249.8L670.0,250.0L670.3,249.7L670.6,249.8L670.8,249.7L671.1,249.4L671.3,249.7L671.6,249.3L671.8,249.0L672.1,248.9L672.4,249.5L672.6,249.4L672.9,249.3L673.1,248.8L673.4,248.4L673.7,249.1L673.9,248.7L674.2,248.4L674.4,248.3L674.7,248.2L674.9,247.6L675.2,248.2L675.5,247.9L675.7,247.7L676.0,247.0L676.2,246.3L676.5,245.8L676.8,245.5L677.0,245.4L677.3,244.3L677.5,243.0L677.8,242.0L678.0,240.7L678.3,238.9L678.6,237.2L678.8,235.2L679.1,232.7L679.3,230.1L679.6,227.6L679.9,225.3L680.1,221.6L680.4,218.8L680.6,215.7L680.9,212.8L681.1,209.6L681.4,207.2L681.7,204.4L681.9,202.4L682.2,201.0L682.4,199.4L682.7,199.8L683.0,200.1L683.2,200.4L683.5,202.4L683.7,204.3L684.0,206.9L684.2,210.0L684.5,212.2L684.8,216.1L685.0,219.1L685.3,222.0L685.5,225.6L685.8,227.7L686.1,230.0L686.3,233.0L686.6,235.2L686.8,236.9L687.1,238.3L687.3,239.9L687.6,242.3L687.9,242.5L688.1,244.4L688.4,245.1L688.6,244.9L688.9,246.2L689.2,246.9L689.4,247.4L689.7,247.8L689.9,248.1L690.2,248.0L690.4,248.1L690.7,248.3L691.0,248.7L691.2,248.4L691.5,248.4L691.7,249.5L692.0,249.2L692.3,249.3L692.5,249.0L692.8,248.9L693.0,249.1L693.3,249.1L693.6,249.2L693.8,248.9L694.1,249.6L694.3,249.6L694.6,249.8L694.8,249.6L695.1,249.4L695.4,250.2L695.6,249.9L695.9,249.9L696.1,250.0L696.4,249.7L696.7,250.0L696.9,249.6L697.2,250.1L697.4,250.1L697.7,250.1L697.9,250.0L698.2,250.0L698.5,250.0" stroke="#ff00ff" stroke-width="1.1" fill="none" stroke-linejoin="round"/><path d="M502.1,276.4L502.3,276.2L502.6,277.3L502.9,276.4L503.1,276.3L503.4,276.3L503.6,276.0L503.9,275.9L504.1,276.2L504.4,275.9L504.7,276.2L504.9,275.8L505.2,275.2L505.4,275.2L505.7,275.2L506.0,274.6L506.2,274.9L506.5,274.4L506.7,274.2L507.0,272.9L507.2,272.1L507.5,271.2L507.8,269.8L508.0,267.7L508.3,266.6L508.5,264.0L508.8,262.6L509.1,260.4L509.3,258.8L509.6,257.5L509.8,257.5L510.1,258.7L510.3,258.7L510.6,260.9L510.9,262.7L511.1,264.1L511.4,266.5L511.6,268.4L511.9,269.5L512.2,270.9L512.4,272.6L512.7,273.3L512.9,274.6L513.2,274.6L513.4,274.5L513.7,275.2L514.0,275.1L514.2,275.9L514.5,276.0L514.7,275.7L515.0,275.6L515.3,276.3L515.5,275.9L515.8,276.5L516.0,275.8L516.3,276.1L516.5,276.0L516.8,275.9L517.1,277.1L517.3,276.8L517.6,276.1L517.8,276.5L518.1,275.7L518.4,276.7L518.6,276.7L518.9,276.2L519.1,276.2L519.4,276.4L519.6,276.5L519.9,276.3L520.2,276.1L520.4,276.3L520.7,276.3L520.9,276.7L521.2,276.4L521.5,276.5L521.7,275.9L522.0,276.3L522.2,276.3L522.5,276.3L522.7,276.4L523.0,276.4L523.3,276.0L523.5,276.8L523.8,276.8L524.0,276.3L524.3,276.7L524.6,276.2L524.8,276.1L525.1,276.4L525.3,277.0L525.6,276.4L525.8,276.0L526.1,276.6L526.4,276.3L526.6,276.3L526.9,276.6L527.1,275.9L527.4,275.9L527.7,276.0L527.9,276.8L528.2,276.5L528.4,276.3L528.7,276.3L528.9,276.7L529.2,276.9L529.5,276.2L529.7,276.6L530.0,277.2L530.2,276.7L530.5,276.4L530.8,276.6L531.0,276.5L531.3,276.7L531.5,276.6L531.8,276.3L532.1,276.4L532.3,276.5L532.6,276.2L532.8,276.4L533.1,276.1L533.3,276.8L533.6,276.9L533.9,276.1L534.1,276.6L534.4,276.4L534.6,276.4L534.9,276.2L535.2,276.4L535.4,276.6L535.7,275.9L535.9,276.5L536.2,276.1L536.4,275.8L536.7,276.1L537.0,276.3L537.2,276.0L537.5,276.0L537.7,275.8L538.0,275.6L538.3,276.0L538.5,275.2L538.8,275.7L539.0,275.2L539.3,274.6L539.5,273.9L539.8,272.7L540.1,271.0L540.3,268.2L540.6,264.4L540.8,259.0L541.1,253.3L541.4,248.6L541.6,244.0L541.9,242.4L542.1,244.1L542.4,248.1L542.6,254.4L542.9,259.5L543.2,264.3L543.4,267.9L543.7,271.2L543.9,272.9L544.2,274.2L544.5,274.6L544.7,274.3L545.0,274.1L545.2,274.7L545.5,273.7L545.7,273.4L546.0,273.0L546.3,273.1L546.5,273.4L546.8,273.4L547.0,274.2L547.3,274.4L547.6,275.6L547.8,275.7L548.1,275.4L548.3,276.4L548.6,276.2L548.8,275.9L549.1,276.1L549.4,276.1L549.6,276.3L549.9,276.4L550.1,276.2L550.4,276.5L550.7,275.6L550.9,276.3L551.2,276.6L551.4,276.7L551.7,276.7L551.9,276.1L552.2,275.9L552.5,276.4L552.7,277.2L553.0,276.6L553.2,276.3L553.5,276.0L553.8,276.5L554.0,276.4L554.3,276.7L554.5,276.6L554.8,275.8L555.0,276.5L555.3,276.8L555.6,276.3L555.8,276.2L556.1,276.2L556.3,276.1L556.6,277.2L556.9,277.0L557.1,276.3L557.4,277.0L557.6,276.2L557.9,276.4L558.1,276.3L558.4,276.5L558.7,276.7L558.9,277.2L559.2,276.8L559.4,276.5L559.7,276.6L560.0,276.5L560.2,276.7L560.5,276.3L560.7,276.6L561.0,276.7L561.2,276.8L561.5,276.3L561.8,276.7L562.0,276.6L562.3,276.3L562.5,276.0L562.8,276.4L563.1,276.8L563.3,276.5L563.6,277.3L563.8,276.7L564.1,276.3L564.4,276.5L564.6,276.7L564.9,276.7L565.1,276.5L565.4,276.7L565.6,277.5L565.9,276.8L566.2,276.6L566.4,276.4L566.7,276.0L566.9,276.6L567.2,276.4L567.5,276.6L567.7,276.4L568.0,276.8L568.2,276.9L568.5,276.4L568.7,276.2L569.0,276.7L569.3,277.0L569.5,276.7L569.8,276.7L570.0,276.1L570.3,276.4L570.6,276.8L570.8,276.7L571.1,276.6L571.3,276.7L571.6,276.8L571.8,276.6L572.1,276.4L572.4,276.1L572.6,276.6L572.9,276.5L573.1,276.5L573.4,276.9L573.7,276.4L573.9,276.5L574.2,276.8L574.4,276.3L574.7,275.9L574.9,276.4L575.2,276.8L575.5,276.4L575.7,276.5L576.0,276.0L576.2,276.9L576.5,276.0L576.8,276.4L577.0,276.5L577.3,277.2L577.5,276.6L577.8,276.4L578.0,276.1L578.3,276.5L578.6,276.2L578.8,276.4L579.1,276.6L579.3,276.9L579.6,276.2L579.9,277.0L580.1,276.0L580.4,277.2L580.6,276.4L580.9,276.5L581.1,276.4L581.4,276.6L581.7,276.6L581.9,276.5L582.2,276.4L582.4,276.4L582.7,276.6L583.0,276.4L583.2,276.4L583.5,276.1L583.7,276.6L584.0,276.7L584.2,276.3L584.5,276.9L584.8,276.6L585.0,276.6L585.3,276.1L585.5,276.8L585.8,277.0L586.1,277.2L586.3,276.4L586.6,276.6L586.8,276.8L587.1,276.7L587.3,276.4L587.6,276.6L587.9,276.9L588.1,276.7L588.4,276.6L588.6,276.9L588.9,276.1L589.2,276.7L589.4,276.4L589.7,276.5L589.9,276.8L590.2,277.1L590.4,276.7L590.7,276.6L591.0,277.1L591.2,276.8L591.5,275.9L591.7,276.4L592.0,276.4L592.3,276.4L592.5,276.1L592.8,276.8L593.0,276.6L593.3,277.1L593.5,276.5L593.8,276.6L594.1,276.4L594.3,276.9L594.6,277.0L594.8,277.1L595.1,276.9L595.4,276.4L595.6,276.9L595.9,276.3L596.1,276.4L596.4,276.5L596.7,277.2L596.9,276.4L597.2,276.3L597.4,276.7L597.7,276.9L597.9,276.8L598.2,276.7L598.5,276.3L598.7,276.5L599.0,277.0L599.2,276.6L599.5,276.4L599.8,276.5L600.0,277.0L600.3,277.1L600.5,276.7L600.8,276.3L601.0,277.1L601.3,276.4L601.6,276.6L601.8,276.7L602.1,276.6L602.3,276.5L602.6,277.1L602.9,276.7L603.1,276.2L603.4,276.4L603.6,277.0L603.9,276.5L604.1,276.3L604.4,276.9L604.7,276.7L604.9,276.6L605.2,276.8L605.4,276.5L605.7,276.6L606.0,276.8L606.2,276.4L606.5,277.0L606.7,276.3L607.0,277.2L607.2,276.6L607.5,276.7L607.8,276.2L608.0,276.8L608.3,276.3L608.5,276.7L608.8,276.6L609.1,276.3L609.3,277.1L609.6,276.6L609.8,276.4L610.1,276.5L610.3,276.7L610.6,276.6L610.9,276.8L611.1,276.4L611.4,276.6L611.6,276.4L611.9,276.4L612.2,276.8L612.4,276.3L612.7,276.1L612.9,276.8L613.2,276.4L613.4,276.7L613.7,276.7L614.0,276.7L614.2,276.6L614.5,277.0L614.7,276.3L615.0,276.9L615.3,276.5L615.5,276.7L615.8,276.4L616.0,276.8L616.3,276.7L616.5,276.4L616.8,276.6L617.1,276.7L617.3,276.5L617.6,277.3L617.8,276.7L618.1,276.5L618.4,276.9L618.6,276.7L618.9,276.4L619.1,276.5L619.4,276.1L619.6,276.8L619.9,277.0L620.2,276.5L620.4,276.3L620.7,276.1L620.9,276.2L621.2,276.6L621.5,276.4L621.7,276.5L622.0,276.3L622.2,276.5L622.5,276.5L622.7,276.6L623.0,276.6L623.3,276.6L623.5,276.3L623.8,276.5L624.0,276.2L624.3,276.4L624.6,276.6L624.8,276.7L625.1,276.2L625.3,276.3L625.6,276.4L625.8,276.2L626.1,276.5L626.4,276.5L626.6,276.3L626.9,277.0L627.1,276.4L627.4,276.6L627.7,276.0L627.9,276.8L628.2,276.6L628.4,276.6L628.7,275.9L629.0,276.5L629.2,276.3L629.5,276.7L629.7,276.5L630.0,276.4L630.2,276.4L630.5,276.9L630.8,276.9L631.0,276.0L631.3,276.4L631.5,276.7L631.8,276.4L632.1,276.6L632.3,276.4L632.6,277.0L632.8,276.7L633.1,276.5L633.3,276.9L633.6,276.7L633.9,277.0L634.1,276.4L634.4,276.1L634.6,276.8L634.9,276.5L635.2,276.0L635.4,275.4L635.7,276.5L635.9,276.5L636.2,276.3L636.4,276.4L636.7,276.5L637.0,276.1L637.2,276.9L637.5,276.1L637.7,276.5L638.0,276.5L638.3,276.3L638.5,276.3L638.8,276.7L639.0,276.0L639.3,276.5L639.5,277.0L639.8,276.2L640.1,276.0L640.3,276.3L640.6,275.6L640.8,276.2L641.1,276.1L641.4,276.2L641.6,276.2L641.9,276.6L642.1,276.5L642.4,276.1L642.6,276.8L642.9,276.1L643.2,276.9L643.4,276.3L643.7,276.1L643.9,276.3L644.2,276.8L644.5,276.4L644.7,276.4L645.0,275.9L645.2,276.4L645.5,276.3L645.7,276.2L646.0,276.1L646.3,275.8L646.5,276.6L646.8,276.0L647.0,276.4L647.3,276.3L647.6,276.2L647.8,276.1L648.1,276.2L648.3,275.9L648.6,275.9L648.8,275.9L649.1,275.8L649.4,275.6L649.6,274.7L649.9,275.4L650.1,274.9L650.4,275.5L650.7,275.4L650.9,275.0L651.2,274.9L651.4,274.0L651.7,274.5L651.9,274.2L652.2,274.8L652.5,273.8L652.7,274.7L653.0,273.9L653.2,273.3L653.5,274.4L653.8,273.8L654.0,274.0L654.3,274.3L654.5,273.6L654.8,274.0L655.0,274.3L655.3,274.7L655.6,274.4L655.8,274.8L656.1,274.2L656.3,275.0L656.6,274.7L656.9,275.0L657.1,275.2L657.4,275.6L657.6,275.2L657.9,275.7L658.1,275.5L658.4,275.9L658.7,275.6L658.9,276.2L659.2,275.6L659.4,275.6L659.7,276.3L660.0,275.8L660.2,276.2L660.5,276.2L660.7,275.5L661.0,276.0L661.3,275.9L661.5,276.0L661.8,275.6L662.0,276.1L662.3,276.1L662.5,275.7L662.8,276.1L663.1,276.1L663.3,275.6L663.6,276.0L663.8,276.3L664.1,276.3L664.4,275.7L664.6,275.8L664.9,276.0L665.1,276.1L665.4,276.2L665.6,276.0L665.9,276.2L666.2,275.7L666.4,276.5L666.7,275.8L666.9,275.6L667.2,275.7L667.5,275.3L667.7,275.6L668.0,275.7L668.2,275.9L668.5,276.1L668.7,275.4L669.0,275.4L669.3,275.8L669.5,275.9L669.8,275.8L670.0,275.6L670.3,275.1L670.6,275.3L670.8,274.9L671.1,275.1L671.3,275.7L671.6,275.7L671.8,275.1L672.1,275.3L672.4,275.4L672.6,274.6L672.9,274.5L673.1,274.6L673.4,274.1L673.7,274.8L673.9,274.4L674.2,274.2L674.4,274.2L674.7,274.1L674.9,273.8L675.2,273.2L675.5,273.4L675.7,272.7L676.0,272.5L676.2,271.7L676.5,271.3L676.8,270.1L677.0,269.8L677.3,268.6L677.5,267.8L677.8,265.8L678.0,264.1L678.3,262.7L678.6,259.7L678.8,258.1L679.1,255.2L679.3,252.1L679.6,249.0L679.9,245.5L680.1,241.7L680.4,238.5L680.6,234.2L680.9,230.7L681.1,227.0L681.4,223.4L681.7,220.4L681.9,218.2L682.2,216.1L682.4,215.4L682.7,214.8L683.0,214.8L683.2,216.5L683.5,217.4L683.7,221.1L684.0,223.3L684.2,226.7L684.5,231.0L684.8,234.0L685.0,238.0L685.3,242.1L685.5,245.0L685.8,249.0L686.1,252.5L686.3,255.0L686.6,258.3L686.8,260.0L687.1,262.9L687.3,264.5L687.6,266.1L687.9,267.4L688.1,268.4L688.4,270.0L688.6,270.2L688.9,271.3L689.2,272.1L689.4,272.6L689.7,273.1L689.9,273.0L690.2,273.1L690.4,273.8L690.7,273.9L691.0,274.5L691.2,273.7L691.5,274.5L691.7,274.7L692.0,274.6L692.3,274.3L692.5,274.9L692.8,275.3L693.0,274.8L693.3,274.8L693.6,274.9L693.8,274.9L694.1,274.8L694.3,276.3L694.6,275.3L694.8,275.8L695.1,275.8L695.4,275.4L695.6,275.7L695.9,276.2L696.1,276.1L696.4,276.0L696.7,275.5L696.9,275.6L697.2,275.8L697.4,276.3L697.7,275.6L697.9,276.1L698.2,276.2L698.5,276.1" stroke="#1010f0" stroke-width="1.1" fill="none" stroke-linejoin="round"/><path d="M502.1,303.5L502.3,302.5L502.6,302.9L502.9,302.7L503.1,302.5L503.4,302.6L503.6,302.6L503.9,302.8L504.1,302.9L504.4,303.1L504.7,302.9L504.9,303.1L505.2,302.9L505.4,302.8L505.7,302.7L506.0,302.5L506.2,302.3L506.5,302.8L506.7,302.7L507.0,302.9L507.2,302.9L507.5,302.4L507.8,302.6L508.0,302.5L508.3,303.1L508.5,302.7L508.8,302.8L509.1,302.5L509.3,302.4L509.6,302.6L509.8,302.7L510.1,302.9L510.3,302.3L510.6,302.9L510.9,302.5L511.1,302.6L511.4,302.7L511.6,302.7L511.9,302.9L512.2,303.0L512.4,302.9L512.7,302.6L512.9,302.9L513.2,302.9L513.4,303.0L513.7,302.9L514.0,302.3L514.2,302.6L514.5,302.7L514.7,303.1L515.0,302.7L515.3,303.0L515.5,302.9L515.8,302.4L516.0,302.8L516.3,302.9L516.5,302.9L516.8,302.3L517.1,302.9L517.3,302.6L517.6,302.2L517.8,302.6L518.1,302.2L518.4,302.4L518.6,303.2L518.9,303.5L519.1,303.1L519.4,302.9L519.6,303.3L519.9,302.9L520.2,302.5L520.4,302.1L520.7,303.0L520.9,302.1L521.2,301.9L521.5,302.6L521.7,302.8L522.0,302.5L522.2,303.1L522.5,302.8L522.7,302.8L523.0,302.9L523.3,302.6L523.5,302.8L523.8,303.5L524.0,302.5L524.3,302.8L524.6,302.9L524.8,302.6L525.1,302.8L525.3,302.3L525.6,302.7L525.8,302.8L526.1,303.1L526.4,303.1L526.6,302.6L526.9,302.5L527.1,303.3L527.4,303.0L527.7,302.2L527.9,302.7L528.2,302.5L528.4,302.6L528.7,302.3L528.9,302.7L529.2,302.6L529.5,302.7L529.7,303.1L530.0,302.9L530.2,302.4L530.5,302.3L530.8,302.6L531.0,303.1L531.3,303.1L531.5,302.6L531.8,303.1L532.1,302.9L532.3,302.6L532.6,302.9L532.8,302.8L533.1,302.5L533.3,302.7L533.6,302.8L533.9,303.2L534.1,302.5L534.4,302.9L534.6,302.8L534.9,302.8L535.2,302.4L535.4,303.2L535.7,303.2L535.9,303.3L536.2,302.9L536.4,303.2L536.7,303.0L537.0,303.1L537.2,302.7L537.5,302.9L537.7,302.7L538.0,302.5L538.3,302.7L538.5,302.5L538.8,302.5L539.0,302.7L539.3,302.6L539.5,303.4L539.8,303.3L540.1,303.1L540.3,303.0L540.6,302.5L540.8,302.9L541.1,302.4L541.4,302.6L541.6,302.6L541.9,302.7L542.1,303.1L542.4,302.6L542.6,303.5L542.9,302.6L543.2,303.0L543.4,302.3L543.7,303.1L543.9,302.4L544.2,302.9L544.5,302.8L544.7,303.0L545.0,303.0L545.2,302.9L545.5,302.7L545.7,303.4L546.0,302.7L546.3,302.8L546.5,302.7L546.8,302.8L547.0,302.5L547.3,302.7L547.6,302.9L547.8,302.6L548.1,302.9L548.3,302.6L548.6,303.2L548.8,302.8L549.1,303.3L549.4,302.9L549.6,302.8L549.9,303.1L550.1,303.1L550.4,303.3L550.7,303.2L550.9,303.1L551.2,302.4L551.4,303.1L551.7,302.8L551.9,302.9L552.2,303.2L552.5,302.6L552.7,303.2L553.0,303.5L553.2,303.0L553.5,302.7L553.8,303.2L554.0,302.8L554.3,303.1L554.5,303.2L554.8,302.3L555.0,302.9L555.3,302.3L555.6,302.6L555.8,303.0L556.1,302.4L556.3,302.6L556.6,302.7L556.9,302.9L557.1,302.9L557.4,302.9L557.6,302.6L557.9,302.6L558.1,302.9L558.4,302.5L558.7,302.5L558.9,303.0L559.2,302.6L559.4,302.5L559.7,303.1L560.0,302.8L560.2,302.1L560.5,302.6L560.7,303.4L561.0,303.6L561.2,302.7L561.5,303.0L561.8,303.0L562.0,302.9L562.3,302.2L562.5,303.1L562.8,302.9L563.1,302.7L563.3,302.3L563.6,302.6L563.8,302.8L564.1,302.7L564.4,302.9L564.6,302.7L564.9,303.1L565.1,303.0L565.4,302.4L565.6,302.6L565.9,302.9L566.2,302.6L566.4,303.2L566.7,302.6L566.9,302.9L567.2,303.0L567.5,302.4L567.7,303.2L568.0,302.7L568.2,302.6L568.5,302.6L568.7,302.3L569.0,302.4L569.3,303.2L569.5,302.7L569.8,302.7L570.0,302.8L570.3,303.0L570.6,302.5L570.8,302.7L571.1,302.9L571.3,303.1L571.6,302.9L571.8,303.3L572.1,302.7L572.4,302.7L572.6,302.4L572.9,302.8L573.1,303.0L573.4,302.7L573.7,302.7L573.9,302.5L574.2,302.6L574.4,302.7L574.7,302.8L574.9,303.1L575.2,302.9L575.5,303.1L575.7,303.1L576.0,302.6L576.2,303.2L576.5,302.8L576.8,302.4L577.0,302.6L577.3,302.8L577.5,302.3L577.8,303.5L578.0,302.8L578.3,303.0L578.6,302.4L578.8,302.8L579.1,302.9L579.3,302.6L579.6,302.9L579.9,302.8L580.1,302.9L580.4,302.4L580.6,302.9L580.9,302.7L581.1,302.5L581.4,302.1L581.7,302.7L581.9,302.7L582.2,303.5L582.4,302.4L582.7,303.2L583.0,303.2L583.2,302.9L583.5,302.9L583.7,302.9L584.0,302.3L584.2,303.2L584.5,302.7L584.8,302.6L585.0,302.8L585.3,302.0L585.5,302.4L585.8,302.4L586.1,302.3L586.3,303.0L586.6,303.3L586.8,302.8L587.1,302.7L587.3,302.9L587.6,302.6L587.9,302.8L588.1,302.9L588.4,302.7L588.6,302.7L588.9,302.8L589.2,302.8L589.4,303.0L589.7,302.3L589.9,302.4L590.2,302.6L590.4,302.9L590.7,302.4L591.0,303.1L591.2,303.2L591.5,302.6L591.7,303.1L592.0,302.2L592.3,302.7L592.5,302.3L592.8,303.1L593.0,303.0L593.3,302.9L593.5,302.6L593.8,302.4L594.1,302.9L594.3,302.6L594.6,303.0L594.8,302.3L595.1,302.9L595.4,302.9L595.6,302.1L595.9,302.4L596.1,302.6L596.4,302.6L596.7,302.3L596.9,302.8L597.2,302.4L597.4,302.7L597.7,302.2L597.9,302.4L598.2,303.0L598.5,302.3L598.7,302.8L599.0,303.2L599.2,303.0L599.5,302.4L599.8,303.4L600.0,302.6L600.3,303.0L600.5,303.1L600.8,302.7L601.0,303.0L601.3,301.9L601.6,302.8L601.8,302.8L602.1,302.7L602.3,302.8L602.6,303.1L602.9,303.0L603.1,302.6L603.4,303.0L603.6,303.1L603.9,302.8L604.1,302.9L604.4,302.0L604.7,302.3L604.9,302.9L605.2,302.3L605.4,303.0L605.7,303.1L606.0,302.5L606.2,302.4L606.5,302.7L606.7,302.8L607.0,303.0L607.2,302.7L607.5,302.8L607.8,302.5L608.0,302.8L608.3,302.5L608.5,303.1L608.8,303.0L609.1,302.3L609.3,302.9L609.6,302.4L609.8,303.1L610.1,302.5L610.3,303.1L610.6,303.1L610.9,303.3L611.1,302.9L611.4,302.8L611.6,303.1L611.9,302.4L612.2,302.8L612.4,302.7L612.7,302.7L612.9,302.3L613.2,302.3L613.4,302.2L613.7,303.2L614.0,302.7L614.2,302.9L614.5,302.7L614.7,302.7L615.0,303.2L615.3,302.1L615.5,302.7L615.8,302.5L616.0,302.5L616.3,302.3L616.5,302.3L616.8,302.4L617.1,303.1L617.3,302.6L617.6,302.6L617.8,302.7L618.1,302.9L618.4,303.1L618.6,302.8L618.9,302.8L619.1,302.9L619.4,302.5L619.6,302.8L619.9,303.3L620.2,302.6L620.4,302.5L620.7,302.3L620.9,302.8L621.2,302.9L621.5,302.6L621.7,302.7L622.0,303.1L622.2,302.8L622.5,303.0L622.7,302.7L623.0,303.2L623.3,303.0L623.5,302.7L623.8,302.6L624.0,303.5L624.3,302.4L624.6,302.5L624.8,302.0L625.1,303.0L625.3,302.8L625.6,302.7L625.8,302.3L626.1,302.8L626.4,302.5L626.6,302.4L626.9,302.7L627.1,302.9L627.4,302.7L627.7,302.6L627.9,303.0L628.2,302.8L628.4,302.7L628.7,302.9L629.0,302.9L629.2,303.0L629.5,303.0L629.7,303.0L630.0,302.6L630.2,303.2L630.5,303.1L630.8,302.6L631.0,303.1L631.3,302.8L631.5,302.5L631.8,302.8L632.1,302.4L632.3,303.1L632.6,302.4L632.8,303.2L633.1,302.5L633.3,302.7L633.6,303.1L633.9,302.9L634.1,302.3L634.4,302.7L634.6,302.2L634.9,303.0L635.2,302.5L635.4,302.7L635.7,302.7L635.9,302.3L636.2,302.9L636.4,303.3L636.7,302.5L637.0,302.6L637.2,302.9L637.5,303.1L637.7,302.5L638.0,302.8L638.3,302.9L638.5,303.1L638.8,302.5L639.0,303.5L639.3,303.4L639.5,302.4L639.8,302.5L640.1,302.9L640.3,302.6L640.6,302.6L640.8,302.8L641.1,302.6L641.4,302.6L641.6,302.8L641.9,302.7L642.1,302.9L642.4,303.1L642.6,303.1L642.9,302.8L643.2,303.4L643.4,302.7L643.7,303.0L643.9,303.3L644.2,302.8L644.5,303.0L644.7,302.6L645.0,302.6L645.2,302.8L645.5,302.9L645.7,302.9L646.0,303.0L646.3,302.9L646.5,302.8L646.8,302.6L647.0,302.7L647.3,302.8L647.6,302.8L647.8,302.5L648.1,303.2L648.3,303.1L648.6,302.9L648.8,302.6L649.1,303.1L649.4,302.7L649.6,302.7L649.9,303.0L650.1,302.6L650.4,302.8L650.7,302.6L650.9,303.0L651.2,302.9L651.4,303.0L651.7,302.9L651.9,302.9L652.2,302.9L652.5,303.0L652.7,302.5L653.0,302.4L653.2,302.8L653.5,302.8L653.8,302.7L654.0,303.2L654.3,302.9L654.5,303.2L654.8,302.8L655.0,302.4L655.3,302.4L655.6,303.1L655.8,302.8L656.1,302.6L656.3,303.2L656.6,303.3L656.9,302.9L657.1,303.2L657.4,302.7L657.6,302.5L657.9,302.3L658.1,303.1L658.4,302.3L658.7,302.7L658.9,302.8L659.2,303.0L659.4,302.2L659.7,302.7L660.0,302.6L660.2,303.2L660.5,302.7L660.7,302.6L661.0,303.3L661.3,302.8L661.5,303.0L661.8,302.9L662.0,302.7L662.3,303.0L662.5,302.6L662.8,302.4L663.1,302.6L663.3,303.0L663.6,302.7L663.8,303.1L664.1,303.0L664.4,302.9L664.6,303.1L664.9,302.9L665.1,302.9L665.4,302.7L665.6,302.8L665.9,302.8L666.2,303.1L666.4,303.2L666.7,303.1L666.9,302.9L667.2,302.8L667.5,302.9L667.7,302.6L668.0,302.8L668.2,302.7L668.5,302.8L668.7,302.1L669.0,302.8L669.3,303.0L669.5,302.5L669.8,303.3L670.0,302.8L670.3,302.6L670.6,303.2L670.8,302.5L671.1,303.6L671.3,302.6L671.6,303.1L671.8,303.2L672.1,303.0L672.4,302.8L672.6,302.6L672.9,302.8L673.1,302.9L673.4,303.1L673.7,302.2L673.9,303.0L674.2,302.5L674.4,302.6L674.7,302.8L674.9,302.6L675.2,303.0L675.5,302.3L675.7,302.9L676.0,302.5L676.2,302.7L676.5,302.8L676.8,302.4L677.0,302.9L677.3,303.4L677.5,302.6L677.8,302.5L678.0,303.2L678.3,303.3L678.6,302.2L678.8,302.7L679.1,302.6L679.3,302.8L679.6,302.8L679.9,302.5L680.1,302.7L680.4,303.1L680.6,302.5L680.9,302.9L681.1,303.0L681.4,303.3L681.7,302.9L681.9,302.9L682.2,302.5L682.4,302.9L682.7,303.2L683.0,302.9L683.2,303.1L683.5,302.7L683.7,303.0L684.0,302.7L684.2,302.6L684.5,302.6L684.8,303.1L685.0,303.0L685.3,302.7L685.5,302.7L685.8,303.0L686.1,302.7L686.3,303.1L686.6,302.9L686.8,302.6L687.1,302.7L687.3,302.5L687.6,302.5L687.9,302.6L688.1,302.6L688.4,302.7L688.6,302.6L688.9,302.6L689.2,302.9L689.4,302.4L689.7,302.1L689.9,303.3L690.2,302.8L690.4,302.8L690.7,303.1L691.0,303.1L691.2,303.2L691.5,303.1L691.7,303.0L692.0,302.9L692.3,302.8L692.5,302.8L692.8,301.8L693.0,303.3L693.3,302.8L693.6,302.5L693.8,303.1L694.1,302.6L694.3,302.9L694.6,302.5L694.8,302.5L695.1,303.1L695.4,302.8L695.6,302.3L695.9,303.0L696.1,303.1L696.4,302.7L696.7,303.0L696.9,303.2L697.2,303.1L697.4,303.0L697.7,303.0L697.9,303.3L698.2,302.9L698.5,302.7" stroke="#ff1010" stroke-width="1.1" fill="none" stroke-linejoin="round"/><path d="M502.1,329.2L502.3,328.7L502.6,329.7L502.9,330.3L503.1,329.5L503.4,329.7L503.6,329.7L503.9,329.6L504.1,329.6L504.4,329.7L504.7,329.2L504.9,328.8L505.2,328.7L505.4,329.5L505.7,329.4L506.0,329.3L506.2,328.5L506.5,329.2L506.7,329.3L507.0,329.0L507.2,329.1L507.5,330.0L507.8,329.7L508.0,329.6L508.3,329.4L508.5,329.2L508.8,329.2L509.1,329.5L509.3,329.0L509.6,329.2L509.8,329.8L510.1,328.9L510.3,329.0L510.6,329.9L510.9,329.4L511.1,329.4L511.4,329.0L511.6,328.8L511.9,329.7L512.2,328.5L512.4,329.5L512.7,329.1L512.9,329.3L513.2,328.6L513.4,329.6L513.7,329.5L514.0,329.4L514.2,329.4L514.5,328.9L514.7,329.4L515.0,329.5L515.3,329.3L515.5,328.3L515.8,329.3L516.0,329.3L516.3,328.9L516.5,329.3L516.8,329.7L517.1,329.3L517.3,329.7L517.6,329.1L517.8,329.1L518.1,329.4L518.4,329.0L518.6,328.7L518.9,329.4L519.1,329.3L519.4,329.5L519.6,329.0L519.9,329.2L520.2,329.5L520.4,329.1L520.7,329.2L520.9,329.4L521.2,329.1L521.5,329.4L521.7,328.8L522.0,329.5L522.2,330.2L522.5,329.5L522.7,329.2L523.0,328.8L523.3,328.9L523.5,329.2L523.8,329.0L524.0,329.5L524.3,329.3L524.6,329.6L524.8,329.2L525.1,329.6L525.3,329.7L525.6,329.0L525.8,329.3L526.1,329.3L526.4,329.3L526.6,329.7L526.9,329.2L527.1,329.0L527.4,328.9L527.7,328.8L527.9,329.3L528.2,329.6L528.4,329.3L528.7,329.0L528.9,329.2L529.2,329.0L529.5,329.6L529.7,329.3L530.0,329.8L530.2,329.5L530.5,329.5L530.8,329.0L531.0,329.5L531.3,329.2L531.5,329.1L531.8,329.4L532.1,329.8L532.3,329.5L532.6,330.0L532.8,329.5L533.1,328.9L533.3,329.1L533.6,329.9L533.9,329.5L534.1,329.3L534.4,329.2L534.6,329.4L534.9,329.5L535.2,329.2L535.4,329.3L535.7,329.4L535.9,329.0L536.2,329.2L536.4,329.1L536.7,329.1L537.0,329.0L537.2,329.1L537.5,329.1L537.7,329.9L538.0,329.3L538.3,329.4L538.5,329.1L538.8,329.4L539.0,329.5L539.3,329.8L539.5,329.9L539.8,329.2L540.1,329.9L540.3,329.3L540.6,329.7L540.8,329.3L541.1,329.6L541.4,329.3L541.6,328.9L541.9,329.5L542.1,329.2L542.4,329.3L542.6,329.4L542.9,329.5L543.2,330.1L543.4,329.0L543.7,329.2L543.9,329.0L544.2,329.7L544.5,329.2L544.7,329.1L545.0,329.5L545.2,329.4L545.5,329.5L545.7,328.9L546.0,329.3L546.3,329.5L546.5,329.1L546.8,329.7L547.0,329.3L547.3,329.1L547.6,329.2L547.8,329.5L548.1,329.7L548.3,329.2L548.6,329.5L548.8,329.2L549.1,329.0L549.4,329.0L549.6,329.6L549.9,329.2L550.1,329.4L550.4,329.8L550.7,329.6L550.9,329.2L551.2,329.2L551.4,329.4L551.7,328.7L551.9,329.5L552.2,329.1L552.5,329.6L552.7,329.1L553.0,329.2L553.2,329.6L553.5,329.5L553.8,329.9L554.0,329.2L554.3,329.1L554.5,329.8L554.8,329.5L555.0,329.0L555.3,329.2L555.6,329.5L555.8,329.2L556.1,328.9L556.3,329.3L556.6,329.5L556.9,329.7L557.1,329.7L557.4,329.6L557.6,329.1L557.9,328.9L558.1,329.0L558.4,329.5L558.7,329.6L558.9,328.7L559.2,329.5L559.4,329.6L559.7,329.8L560.0,329.6L560.2,329.6L560.5,329.4L560.7,329.2L561.0,329.3L561.2,329.3L561.5,329.0L561.8,329.3L562.0,329.6L562.3,329.2L562.5,329.7L562.8,329.0L563.1,329.5L563.3,329.1L563.6,329.7L563.8,329.5L564.1,329.6L564.4,329.6L564.6,329.5L564.9,329.7L565.1,329.4L565.4,328.5L565.6,329.4L565.9,329.5L566.2,328.6L566.4,329.7L566.7,329.3L566.9,329.6L567.2,329.2L567.5,329.4L567.7,329.1L568.0,329.2L568.2,328.8L568.5,329.4L568.7,329.2L569.0,329.1L569.3,329.1L569.5,329.0L569.8,329.3L570.0,329.3L570.3,329.2L570.6,329.7L570.8,329.0L571.1,329.2L571.3,328.9L571.6,329.2L571.8,329.2L572.1,328.7L572.4,329.4L572.6,328.7L572.9,329.1L573.1,329.2L573.4,328.9L573.7,329.7L573.9,329.4L574.2,328.9L574.4,329.4L574.7,329.4L574.9,329.1L575.2,329.0L575.5,329.6L575.7,330.0L576.0,329.4L576.2,330.0L576.5,328.8L576.8,328.8L577.0,329.3L577.3,329.1L577.5,329.4L577.8,329.9L578.0,329.0L578.3,329.4L578.6,329.3L578.8,328.9L579.1,329.2L579.3,328.9L579.6,329.2L579.9,329.8L580.1,329.6L580.4,329.6L580.6,329.3L580.9,329.1L581.1,330.0L581.4,329.3L581.7,329.4L581.9,329.6L582.2,329.3L582.4,329.5L582.7,329.3L583.0,329.4L583.2,329.6L583.5,328.9L583.7,329.3L584.0,329.1L584.2,329.2L584.5,329.4L584.8,329.8L585.0,328.6L585.3,329.8L585.5,329.1L585.8,329.0L586.1,329.1L586.3,329.4L586.6,329.4L586.8,328.7L587.1,328.8L587.3,329.6L587.6,329.3L587.9,328.7L588.1,329.2L588.4,329.2L588.6,329.8L588.9,329.0L589.2,329.1L589.4,329.2L589.7,329.4L589.9,329.5L590.2,329.5L590.4,329.9L590.7,329.3L591.0,329.8L591.2,329.3L591.5,329.5L591.7,329.6L592.0,329.9L592.3,329.0L592.5,330.0L592.8,328.7L593.0,329.2L593.3,329.2L593.5,329.3L593.8,329.7L594.1,328.8L594.3,328.9L594.6,329.6L594.8,329.8L595.1,328.9L595.4,329.1L595.6,329.5L595.9,329.5L596.1,328.8L596.4,329.3L596.7,329.1L596.9,328.9L597.2,329.2L597.4,329.0L597.7,328.9L597.9,330.0L598.2,329.1L598.5,329.0L598.7,329.9L599.0,329.2L599.2,329.1L599.5,328.5L599.8,328.8L600.0,329.8L600.3,329.0L600.5,329.2L600.8,329.2L601.0,329.4L601.3,329.9L601.6,328.8L601.8,328.8L602.1,329.8L602.3,329.5L602.6,329.5L602.9,329.7L603.1,329.3L603.4,329.5L603.6,329.7L603.9,329.8L604.1,329.4L604.4,328.9L604.7,329.1L604.9,329.2L605.2,329.2L605.4,329.7L605.7,329.0L606.0,329.5L606.2,329.2L606.5,329.4L606.7,329.8L607.0,329.6L607.2,329.1L607.5,329.3L607.8,329.6L608.0,329.3L608.3,329.6L608.5,329.7L608.8,329.2L609.1,329.5L609.3,329.9L609.6,329.5L609.8,329.1L610.1,329.7L610.3,329.3L610.6,329.2L610.9,329.4L611.1,329.6L611.4,329.1L611.6,329.4L611.9,329.5L612.2,329.6L612.4,329.3L612.7,329.1L612.9,329.3L613.2,329.4L613.4,329.4L613.7,329.6L614.0,329.4L614.2,328.9L614.5,329.5L614.7,329.6L615.0,328.8L615.3,329.5L615.5,329.6L615.8,329.5L616.0,329.5L616.3,329.1L616.5,329.5L616.8,329.5L617.1,329.0L617.3,329.5L617.6,329.6L617.8,329.3L618.1,330.0L618.4,329.4L618.6,329.4L618.9,329.5L619.1,329.4L619.4,329.3L619.6,329.2L619.9,328.8L620.2,328.9L620.4,329.4L620.7,329.8L620.9,329.2L621.2,328.5L621.5,329.6L621.7,329.0L622.0,329.0L622.2,329.4L622.5,329.4L622.7,329.4L623.0,329.1L623.3,329.1L623.5,329.5L623.8,329.6L624.0,329.6L624.3,329.6L624.6,329.6L624.8,329.2L625.1,329.5L625.3,329.3L625.6,329.1L625.8,329.9L626.1,329.7L626.4,329.2L626.6,329.2L626.9,329.4L627.1,329.3L627.4,329.2L627.7,329.3L627.9,329.8L628.2,329.2L628.4,329.1L628.7,329.7L629.0,329.3L629.2,329.2L629.5,329.1L629.7,329.3L630.0,329.2L630.2,329.3L630.5,329.3L630.8,329.4L631.0,328.9L631.3,329.0L631.5,329.2L631.8,329.3L632.1,329.2L632.3,329.3L632.6,329.3L632.8,329.2L633.1,329.2L633.3,329.9L633.6,329.3L633.9,329.2L634.1,329.6L634.4,329.4L634.6,329.0L634.9,329.8L635.2,328.5L635.4,329.5L635.7,329.4L635.9,329.5L636.2,329.3L636.4,328.6L636.7,328.8L637.0,329.4L637.2,328.8L637.5,329.7L637.7,329.8L638.0,328.8L638.3,329.5L638.5,329.6L638.8,330.1L639.0,329.1L639.3,329.5L639.5,329.6L639.8,329.0L640.1,329.0L640.3,329.5L640.6,329.3L640.8,329.0L641.1,329.0L641.4,329.2L641.6,329.1L641.9,329.5L642.1,329.3L642.4,329.8L642.6,329.2L642.9,329.1L643.2,329.5L643.4,329.6L643.7,329.0L643.9,329.1L644.2,329.0L644.5,328.9L644.7,329.3L645.0,329.4L645.2,329.1L645.5,329.0L645.7,329.0L646.0,329.8L646.3,329.4L646.5,329.4L646.8,329.1L647.0,329.1L647.3,329.2L647.6,329.2L647.8,328.9L648.1,329.3L648.3,329.1L648.6,329.4L648.8,329.5L649.1,329.4L649.4,329.1L649.6,329.9L649.9,329.8L650.1,329.5L650.4,329.6L650.7,329.2L650.9,329.5L651.2,329.7L651.4,329.6L651.7,329.2L651.9,329.3L652.2,329.1L652.5,329.3L652.7,329.6L653.0,328.7L653.2,328.9L653.5,329.3L653.8,329.4L654.0,329.3L654.3,329.7L654.5,329.1L654.8,329.0L655.0,329.2L655.3,329.0L655.6,329.7L655.8,329.9L656.1,329.3L656.3,329.3L656.6,329.4L656.9,329.5L657.1,329.2L657.4,329.1L657.6,329.5L657.9,329.7L658.1,329.1L658.4,328.9L658.7,329.2L658.9,329.9L659.2,329.1L659.4,329.0L659.7,329.5L660.0,329.2L660.2,329.2L660.5,329.7L660.7,329.0L661.0,329.1L661.3,329.7L661.5,329.6L661.8,329.6L662.0,329.3L662.3,329.4L662.5,329.2L662.8,329.6L663.1,329.6L663.3,329.7L663.6,329.1L663.8,329.3L664.1,329.5L664.4,329.7L664.6,329.1L664.9,329.5L665.1,329.3L665.4,329.3L665.6,329.1L665.9,329.5L666.2,329.5L666.4,329.0L666.7,329.7L666.9,329.1L667.2,329.4L667.5,329.7L667.7,328.9L668.0,328.8L668.2,329.5L668.5,329.5L668.7,329.4L669.0,329.6L669.3,329.1L669.5,329.5L669.8,329.4L670.0,329.5L670.3,329.1L670.6,330.1L670.8,329.3L671.1,328.8L671.3,329.0L671.6,329.0L671.8,329.7L672.1,329.6L672.4,329.4L672.6,329.5L672.9,329.3L673.1,329.7L673.4,329.1L673.7,329.8L673.9,329.5L674.2,329.8L674.4,328.8L674.7,329.1L674.9,329.4L675.2,329.4L675.5,328.9L675.7,329.6L676.0,329.4L676.2,328.9L676.5,329.0L676.8,329.1L677.0,329.1L677.3,329.4L677.5,329.3L677.8,329.5L678.0,329.5L678.3,328.8L678.6,329.7L678.8,328.7L679.1,329.3L679.3,329.1L679.6,328.9L679.9,329.6L680.1,328.8L680.4,329.2L680.6,329.0L680.9,329.4L681.1,329.1L681.4,329.3L681.7,329.5L681.9,329.4L682.2,329.4L682.4,329.4L682.7,329.5L683.0,329.0L683.2,328.5L683.5,329.0L683.7,328.9L684.0,329.1L684.2,329.3L684.5,329.2L684.8,328.9L685.0,328.7L685.3,329.5L685.5,329.5L685.8,329.2L686.1,329.6L686.3,329.3L686.6,329.0L686.8,329.1L687.1,329.2L687.3,329.5L687.6,329.2L687.9,329.3L688.1,328.7L688.4,329.3L688.6,329.7L688.9,328.9L689.2,329.4L689.4,329.6L689.7,329.4L689.9,329.4L690.2,329.4L690.4,329.3L690.7,329.3L691.0,329.1L691.2,329.1L691.5,329.0L691.7,329.3L692.0,329.7L692.3,329.1L692.5,329.3L692.8,329.3L693.0,329.7L693.3,329.3L693.6,329.6L693.8,328.8L694.1,329.8L694.3,329.6L694.6,329.7L694.8,329.3L695.1,329.4L695.4,329.6L695.6,328.9L695.9,328.8L696.1,329.7L696.4,329.2L696.7,329.6L696.9,329.6L697.2,328.9L697.4,329.6L697.7,329.2L697.9,329.2L698.2,328.6L698.5,329.2" stroke="#111111" stroke-width="1.1" fill="none" stroke-linejoin="round"/><text x="590.20" y="248.60" font-size="16" fill="#c82cc8" stroke="#c82cc8" stroke-width="0.25">(4)</text><text x="590.20" y="275.90" font-size="16" fill="#1822b0" stroke="#1822b0" stroke-width="0.25">(3)</text><text x="590.20" y="301.50" font-size="16" fill="#e81c1c" stroke="#e81c1c" stroke-width="0.25">(2)</text><text x="590.20" y="327.40" font-size="16" fill="#111111" stroke="#111111" stroke-width="0.25">(1)</text>
</svg>
</body></html>
